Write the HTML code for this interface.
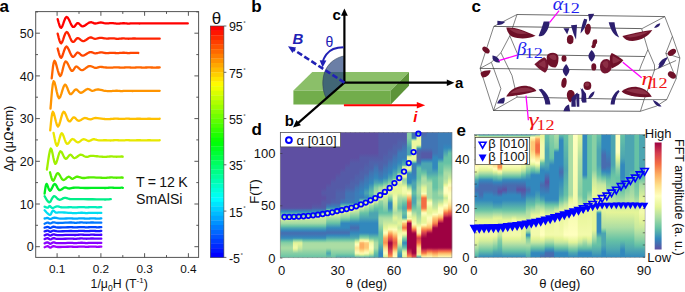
<!DOCTYPE html>
<html><head><meta charset="utf-8"><style>
html,body{margin:0;padding:0;background:#fff;}
svg{display:block;}
text{font-family:"Liberation Sans",sans-serif;}
.ff{font-family:"Liberation Sans",sans-serif;}
.t12{font-size:11.8px;fill:#111;}
.t13{font-size:13px;fill:#111;}
.t14{font-size:14.5px;fill:#111;}
.t15{font-size:15px;fill:#111;}
.bl13{font-size:15px;font-weight:bold;fill:#000;}
.gk{font-family:"Liberation Serif",serif;font-style:italic;font-size:19.5px;}
.gs{font-family:"Liberation Serif",serif;font-size:14px;}
.pl{font-size:17px;font-weight:bold;fill:#000;}
</style></head>
<body><svg width="685" height="292" viewBox="0 0 685 292">
<rect width="685" height="292" fill="#fff"/>
<path d="M57.65 19.20 L58.10 20.70 L58.73 23.00 L59.48 25.42 L60.31 27.28 L61.20 27.90 L62.15 26.62 L63.18 23.91 L64.29 20.73 L65.43 18.07 L66.60 16.90 L67.83 17.78 L69.13 20.05 L70.44 22.89 L71.72 25.45 L72.90 26.90 L73.95 26.91 L74.91 26.03 L75.83 24.77 L76.74 23.63 L77.70 23.10 L78.67 23.42 L79.62 24.26 L80.59 25.27 L81.64 26.10 L82.80 26.40 L84.14 25.97 L85.62 25.04 L87.16 23.91 L88.65 22.90 L90.00 22.30 L91.16 22.24 L92.20 22.50 L93.19 22.92 L94.17 23.32 L95.20 23.50 L96.29 23.41 L97.41 23.17 L98.53 22.87 L99.67 22.61 L100.80 22.50 L101.94 22.58 L103.08 22.78 L104.23 23.04 L105.37 23.27 L106.50 23.40 L107.61 23.40 L108.71 23.33 L109.81 23.22 L110.90 23.13 L112.00 23.10 L113.10 23.16 L114.20 23.28 L115.30 23.42 L116.40 23.54 L117.50 23.60 L118.60 23.57 L119.70 23.49 L120.80 23.38 L121.90 23.28 L123.00 23.24 L124.10 23.26 L125.20 23.33 L126.30 23.42 L127.40 23.49 L128.50 23.53 L129.60 23.51 L130.70 23.45 L131.80 23.38 L132.90 23.32 L134.00 23.30 L135.10 23.31 L136.20 23.36 L137.30 23.41 L138.40 23.46 L139.50 23.48 L140.60 23.47 L141.70 23.43 L142.80 23.39 L143.90 23.35 L145.00 23.33 L146.10 23.34 L147.20 23.37 L148.30 23.41 L149.40 23.44 L150.50 23.45 L151.60 23.45 L152.70 23.42 L153.80 23.39 L154.90 23.37 L156.00 23.36 L157.10 23.36 L158.20 23.38 L159.30 23.41 L160.40 23.43 L161.50 23.43 L162.60 23.43 L163.70 23.41 L164.80 23.40 L165.90 23.38 L167.00 23.37 L168.10 23.38 L169.20 23.39 L170.30 23.40 L171.40 23.42 L172.50 23.42 L173.60 23.42 L174.70 23.41 L175.80 23.40 L176.90 23.39 L178.00 23.38 L179.12 23.38 L180.26 23.39 L181.39 23.40 L182.48 23.41 L183.50 23.41 L184.51 23.41 L185.51 23.41 L186.45 23.40 L187.23 23.39 L187.80 23.39" stroke="#ff0000" stroke-width="2.3" fill="none" stroke-linejoin="round" stroke-linecap="round"/>
<path d="M57.65 33.65 L58.10 35.32 L58.73 37.87 L59.48 40.56 L60.31 42.65 L61.20 43.40 L62.15 42.12 L63.20 39.30 L64.32 35.97 L65.46 33.16 L66.60 31.90 L67.76 32.74 L68.96 35.01 L70.17 37.86 L71.36 40.44 L72.50 41.90 L73.58 41.91 L74.61 41.04 L75.62 39.79 L76.65 38.64 L77.70 38.10 L78.78 38.39 L79.86 39.17 L80.96 40.12 L82.10 40.90 L83.30 41.20 L84.59 40.82 L85.97 39.97 L87.38 38.95 L88.74 38.03 L90.00 37.50 L91.13 37.48 L92.17 37.77 L93.16 38.21 L94.16 38.61 L95.20 38.80 L96.29 38.72 L97.41 38.48 L98.53 38.18 L99.67 37.92 L100.80 37.80 L101.94 37.86 L103.08 38.04 L104.23 38.27 L105.37 38.48 L106.50 38.60 L107.61 38.60 L108.71 38.52 L109.81 38.42 L110.90 38.33 L112.00 38.30 L113.10 38.36 L114.20 38.48 L115.30 38.62 L116.40 38.74 L117.50 38.80 L118.60 38.77 L119.70 38.69 L120.80 38.58 L121.90 38.48 L123.00 38.44 L124.10 38.46 L125.20 38.53 L126.30 38.62 L127.40 38.69 L128.50 38.73 L129.60 38.71 L130.70 38.65 L131.80 38.58 L132.90 38.52 L134.00 38.50 L135.10 38.51 L136.20 38.56 L137.30 38.61 L138.40 38.66 L139.50 38.68 L140.60 38.67 L141.70 38.63 L142.80 38.59 L143.90 38.55 L145.00 38.53 L146.10 38.54 L147.20 38.57 L148.30 38.61 L149.40 38.64 L150.50 38.65 L151.63 38.65 L152.79 38.62 L153.93 38.59 L155.02 38.57 L156.00 38.56 L156.91 38.56 L157.79 38.58 L158.57 38.60 L159.23 38.62 L159.70 38.64" stroke="#ff2200" stroke-width="2.3" fill="none" stroke-linejoin="round" stroke-linecap="round"/>
<path d="M57.65 48.50 L58.11 50.09 L58.74 52.54 L59.49 55.12 L60.33 57.11 L61.20 57.80 L62.12 56.51 L63.12 53.73 L64.18 50.45 L65.28 47.71 L66.40 46.50 L67.58 47.41 L68.82 49.77 L70.08 52.69 L71.32 55.33 L72.50 56.80 L73.60 56.75 L74.65 55.77 L75.67 54.38 L76.68 53.11 L77.70 52.50 L78.69 52.77 L79.65 53.57 L80.61 54.55 L81.65 55.38 L82.80 55.70 L84.14 55.34 L85.62 54.52 L87.16 53.52 L88.65 52.62 L90.00 52.10 L91.16 52.07 L92.20 52.34 L93.19 52.74 L94.17 53.12 L95.20 53.30 L96.29 53.23 L97.41 53.01 L98.53 52.75 L99.67 52.51 L100.80 52.40 L101.94 52.45 L103.08 52.61 L104.23 52.82 L105.37 53.00 L106.50 53.10 L107.61 53.09 L108.71 53.02 L109.81 52.92 L110.90 52.84 L112.00 52.80 L113.10 52.83 L114.20 52.91 L115.30 53.00 L116.40 53.07 L117.50 53.10 L118.60 53.06 L119.70 52.97 L120.80 52.87 L121.90 52.78 L123.00 52.74 L124.10 52.76 L125.20 52.83 L126.30 52.92 L127.40 52.99 L128.50 53.03 L129.62 53.01 L130.76 52.95 L131.89 52.88 L132.98 52.82 L134.00 52.80 L135.01 52.81 L136.01 52.85 L136.95 52.90 L137.73 52.95 L138.30 52.99" stroke="#ff4400" stroke-width="2.3" fill="none" stroke-linejoin="round" stroke-linecap="round"/>
<path d="M51.70 78.40 L52.03 75.46 L52.48 71.01 L53.04 66.25 L53.71 62.40 L54.50 60.70 L55.46 62.14 L56.59 65.92 L57.81 70.52 L59.04 74.42 L60.20 76.10 L61.27 74.70 L62.31 71.23 L63.33 66.98 L64.39 63.27 L65.50 61.40 L66.71 61.97 L67.99 64.12 L69.29 66.94 L70.55 69.50 L71.70 70.90 L72.70 70.78 L73.60 69.75 L74.46 68.34 L75.34 67.08 L76.30 66.50 L77.35 66.85 L78.43 67.77 L79.56 68.89 L80.75 69.83 L82.00 70.20 L83.36 69.79 L84.82 68.84 L86.33 67.70 L87.81 66.67 L89.20 66.10 L90.51 66.11 L91.79 66.49 L93.01 67.03 L94.19 67.53 L95.30 67.80 L96.32 67.76 L97.27 67.56 L98.17 67.28 L99.06 67.03 L100.00 66.90 L100.97 66.91 L101.95 67.01 L102.95 67.15 L103.96 67.29 L105.00 67.40 L106.07 67.48 L107.16 67.57 L108.28 67.64 L109.39 67.69 L110.50 67.70 L111.60 67.66 L112.70 67.57 L113.80 67.47 L114.90 67.38 L116.00 67.34 L117.10 67.36 L118.20 67.43 L119.30 67.52 L120.40 67.59 L121.50 67.63 L122.60 67.61 L123.70 67.55 L124.80 67.48 L125.90 67.42 L127.00 67.40 L128.10 67.41 L129.20 67.46 L130.30 67.51 L131.40 67.56 L132.50 67.58 L133.60 67.57 L134.70 67.53 L135.80 67.49 L136.90 67.45 L138.00 67.43 L139.10 67.44 L140.20 67.47 L141.30 67.51 L142.40 67.54 L143.50 67.55 L144.60 67.55 L145.70 67.52 L146.80 67.49 L147.90 67.47 L149.00 67.46 L150.10 67.46 L151.21 67.48 L152.32 67.51 L153.42 67.53 L154.50 67.53 L155.64 67.53 L156.85 67.52 L158.01 67.50 L159.00 67.48 L159.70 67.47" stroke="#ff6600" stroke-width="2.3" fill="none" stroke-linejoin="round" stroke-linecap="round"/>
<path d="M50.50 108.60 L50.88 104.16 L51.41 97.48 L52.05 90.27 L52.78 84.27 L53.60 81.20 L54.52 82.26 L55.57 86.31 L56.69 91.54 L57.85 96.14 L59.00 98.30 L60.16 97.16 L61.35 93.92 L62.55 89.88 L63.74 86.34 L64.90 84.60 L66.01 85.26 L67.09 87.45 L68.16 90.28 L69.22 92.83 L70.30 94.20 L71.40 94.03 L72.51 92.92 L73.62 91.42 L74.72 90.07 L75.80 89.40 L76.82 89.67 L77.80 90.52 L78.77 91.56 L79.79 92.45 L80.90 92.80 L82.15 92.41 L83.52 91.53 L84.92 90.46 L86.27 89.52 L87.50 89.00 L88.57 89.05 L89.52 89.47 L90.42 90.04 L91.33 90.56 L92.30 90.80 L93.31 90.68 L94.33 90.34 L95.37 89.91 L96.49 89.55 L97.70 89.40 L99.07 89.52 L100.57 89.81 L102.12 90.18 L103.62 90.55 L105.00 90.80 L106.22 90.94 L107.33 91.03 L108.39 91.08 L109.43 91.10 L110.50 91.10 L111.60 91.06 L112.70 90.97 L113.80 90.87 L114.90 90.78 L116.00 90.74 L117.10 90.76 L118.20 90.83 L119.30 90.92 L120.40 90.99 L121.50 91.03 L122.60 91.01 L123.70 90.95 L124.80 90.88 L125.90 90.82 L127.00 90.80 L128.10 90.81 L129.20 90.86 L130.30 90.91 L131.40 90.96 L132.50 90.98 L133.60 90.97 L134.70 90.93 L135.80 90.89 L136.90 90.85 L138.00 90.83 L139.10 90.84 L140.20 90.87 L141.30 90.91 L142.40 90.94 L143.50 90.95 L144.60 90.95 L145.70 90.92 L146.80 90.89 L147.90 90.87 L149.00 90.86 L150.10 90.86 L151.21 90.88 L152.32 90.91 L153.42 90.93 L154.50 90.93 L155.64 90.93 L156.85 90.92 L158.01 90.90 L159.00 90.88 L159.70 90.87" stroke="#ff9400" stroke-width="2.3" fill="none" stroke-linejoin="round" stroke-linecap="round"/>
<path d="M50.20 130.30 L50.53 127.25 L50.97 122.63 L51.52 117.69 L52.16 113.66 L52.90 111.80 L53.76 113.10 L54.75 116.74 L55.82 121.21 L56.92 125.00 L58.00 126.60 L59.07 125.14 L60.17 121.64 L61.28 117.38 L62.39 113.67 L63.50 111.80 L64.61 112.38 L65.73 114.54 L66.85 117.38 L67.94 119.97 L69.00 121.40 L70.00 121.34 L70.97 120.38 L71.91 119.05 L72.85 117.85 L73.80 117.30 L74.74 117.61 L75.66 118.46 L76.59 119.49 L77.56 120.38 L78.60 120.80 L79.75 120.58 L80.98 119.93 L82.24 119.12 L83.50 118.39 L84.70 118.00 L85.84 118.06 L86.94 118.39 L88.03 118.84 L89.11 119.23 L90.20 119.40 L91.24 119.26 L92.22 118.93 L93.23 118.52 L94.36 118.17 L95.70 118.00 L97.38 118.06 L99.33 118.28 L101.37 118.56 L103.32 118.83 L105.00 119.00 L106.34 119.07 L107.47 119.09 L108.48 119.07 L109.46 119.04 L110.50 119.00 L111.60 118.94 L112.70 118.85 L113.80 118.75 L114.90 118.68 L116.00 118.64 L117.10 118.66 L118.20 118.73 L119.30 118.82 L120.40 118.89 L121.50 118.93 L122.60 118.91 L123.70 118.85 L124.80 118.78 L125.90 118.72 L127.00 118.70 L128.10 118.71 L129.20 118.76 L130.30 118.81 L131.40 118.86 L132.50 118.88 L133.60 118.87 L134.70 118.83 L135.80 118.79 L136.90 118.75 L138.00 118.73 L139.10 118.74 L140.20 118.77 L141.30 118.81 L142.40 118.84 L143.50 118.85 L144.60 118.85 L145.70 118.82 L146.80 118.79 L147.90 118.77 L149.00 118.76 L150.10 118.76 L151.21 118.78 L152.32 118.81 L153.42 118.83 L154.50 118.83 L155.64 118.83 L156.85 118.82 L158.01 118.80 L159.00 118.78 L159.70 118.77" stroke="#ffc000" stroke-width="2.3" fill="none" stroke-linejoin="round" stroke-linecap="round"/>
<path d="M53.50 132.80 L53.96 134.98 L54.59 138.29 L55.35 141.82 L56.17 144.63 L57.00 145.80 L57.86 144.55 L58.77 141.49 L59.73 137.80 L60.71 134.64 L61.70 133.20 L62.70 134.08 L63.73 136.51 L64.77 139.56 L65.83 142.29 L66.90 143.80 L67.98 143.69 L69.08 142.60 L70.19 141.07 L71.30 139.68 L72.40 139.00 L73.50 139.26 L74.60 140.09 L75.70 141.12 L76.80 142.01 L77.90 142.40 L79.00 142.10 L80.10 141.36 L81.21 140.44 L82.31 139.63 L83.40 139.20 L84.50 139.30 L85.60 139.73 L86.69 140.30 L87.76 140.79 L88.80 141.00 L89.79 140.82 L90.73 140.40 L91.67 139.88 L92.61 139.43 L93.60 139.20 L94.63 139.27 L95.69 139.53 L96.77 139.88 L97.87 140.20 L99.00 140.40 L100.17 140.44 L101.38 140.40 L102.61 140.31 L103.82 140.23 L105.00 140.20 L106.13 140.24 L107.24 140.32 L108.32 140.40 L109.41 140.47 L110.50 140.50 L111.60 140.46 L112.70 140.37 L113.80 140.27 L114.90 140.18 L116.00 140.14 L117.10 140.16 L118.20 140.23 L119.30 140.32 L120.40 140.39 L121.50 140.43 L122.60 140.41 L123.70 140.35 L124.80 140.28 L125.90 140.22 L127.00 140.20 L128.10 140.21 L129.20 140.26 L130.30 140.31 L131.40 140.36 L132.50 140.38 L133.60 140.37 L134.70 140.33 L135.80 140.29 L136.90 140.25 L138.00 140.23 L139.10 140.24 L140.20 140.27 L141.30 140.31 L142.40 140.34 L143.50 140.35 L144.60 140.35 L145.70 140.32 L146.80 140.29 L147.90 140.27 L149.00 140.26 L150.10 140.26 L151.21 140.28 L152.32 140.31 L153.42 140.33 L154.50 140.33 L155.64 140.33 L156.85 140.32 L158.01 140.30 L159.00 140.28 L159.70 140.27" stroke="#e8e800" stroke-width="2.3" fill="none" stroke-linejoin="round" stroke-linecap="round"/>
<path d="M46.90 169.50 L47.42 166.06 L48.15 160.86 L49.01 155.29 L49.92 150.71 L50.80 148.50 L51.65 149.70 L52.53 153.38 L53.44 158.01 L54.36 162.03 L55.30 163.90 L56.26 162.85 L57.25 159.91 L58.26 156.24 L59.28 152.98 L60.30 151.30 L61.33 151.70 L62.38 153.41 L63.44 155.67 L64.48 157.72 L65.50 158.80 L66.50 158.60 L67.48 157.64 L68.44 156.36 L69.38 155.23 L70.30 154.70 L71.15 155.01 L71.93 155.85 L72.71 156.87 L73.55 157.74 L74.50 158.10 L75.61 157.77 L76.83 156.97 L78.11 155.99 L79.39 155.14 L80.60 154.70 L81.73 154.82 L82.82 155.29 L83.90 155.92 L84.98 156.49 L86.10 156.80 L87.22 156.77 L88.33 156.54 L89.47 156.22 L90.68 155.93 L92.00 155.80 L93.51 155.85 L95.17 156.02 L96.88 156.24 L98.53 156.45 L100.00 156.60 L101.26 156.69 L102.38 156.75 L103.42 156.79 L104.44 156.81 L105.50 156.80 L106.60 156.75 L107.70 156.67 L108.80 156.56 L109.90 156.48 L111.00 156.44 L112.10 156.46 L113.20 156.53 L114.30 156.62 L115.40 156.69 L116.50 156.73 L117.68 156.71 L118.93 156.65 L120.14 156.58 L121.20 156.52 L122.00 156.50 L122.47 156.51 L122.70 156.56 L122.76 156.61 L122.77 156.67 L122.80 156.70" stroke="#a0f000" stroke-width="2.3" fill="none" stroke-linejoin="round" stroke-linecap="round"/>
<path d="M50.00 172.30 L50.40 173.72 L50.94 175.87 L51.60 178.16 L52.33 180.00 L53.10 180.80 L53.91 180.06 L54.79 178.19 L55.73 175.91 L56.70 173.96 L57.70 173.10 L58.73 173.71 L59.80 175.30 L60.90 177.27 L62.01 179.04 L63.10 180.00 L64.20 179.91 L65.33 179.16 L66.45 178.12 L67.52 177.18 L68.50 176.70 L69.36 176.84 L70.13 177.35 L70.86 178.00 L71.60 178.56 L72.40 178.80 L73.25 178.59 L74.12 178.10 L75.03 177.50 L75.98 176.97 L77.00 176.70 L78.09 176.77 L79.25 177.07 L80.46 177.45 L81.71 177.81 L83.00 178.00 L84.29 177.99 L85.58 177.85 L86.94 177.67 L88.39 177.49 L90.00 177.40 L91.88 177.41 L94.00 177.46 L96.18 177.55 L98.24 177.64 L100.00 177.70 L101.39 177.74 L102.52 177.78 L103.52 177.80 L104.47 177.81 L105.50 177.80 L106.60 177.75 L107.70 177.66 L108.80 177.56 L109.90 177.48 L111.00 177.44 L112.10 177.46 L113.20 177.53 L114.30 177.62 L115.40 177.69 L116.50 177.73 L117.68 177.71 L118.93 177.65 L120.14 177.58 L121.20 177.52 L122.00 177.50 L122.47 177.51 L122.70 177.56 L122.76 177.61 L122.77 177.67 L122.80 177.70" stroke="#55ee00" stroke-width="2.3" fill="none" stroke-linejoin="round" stroke-linecap="round"/>
<path d="M44.60 193.60 L44.83 192.02 L45.15 189.62 L45.53 187.05 L45.99 184.93 L46.50 183.90 L47.08 184.44 L47.73 186.13 L48.44 188.24 L49.20 190.04 L50.00 190.80 L50.86 190.09 L51.80 188.40 L52.77 186.38 L53.75 184.66 L54.70 183.90 L55.61 184.44 L56.51 185.86 L57.41 187.62 L58.33 189.21 L59.30 190.10 L60.34 190.09 L61.44 189.52 L62.56 188.70 L63.66 187.93 L64.70 187.50 L65.65 187.50 L66.54 187.73 L67.42 188.06 L68.32 188.36 L69.30 188.50 L70.30 188.42 L71.29 188.21 L72.36 187.96 L73.57 187.73 L75.00 187.60 L76.64 187.61 L78.45 187.70 L80.43 187.82 L82.61 187.94 L85.00 188.00 L87.83 187.99 L91.10 187.94 L94.44 187.88 L97.53 187.82 L100.00 187.80 L101.71 187.82 L102.88 187.88 L103.76 187.94 L104.55 187.99 L105.50 188.00 L106.60 187.95 L107.70 187.87 L108.80 187.76 L109.90 187.68 L111.00 187.64 L112.10 187.66 L113.20 187.73 L114.30 187.82 L115.40 187.89 L116.50 187.93 L117.68 187.91 L118.93 187.85 L120.14 187.78 L121.20 187.72 L122.00 187.70 L122.47 187.71 L122.70 187.76 L122.76 187.81 L122.77 187.87 L122.80 187.90" stroke="#00ee22" stroke-width="2.3" fill="none" stroke-linejoin="round" stroke-linecap="round"/>
<path d="M44.60 196.20 L45.24 197.24 L46.15 198.83 L47.20 200.52 L48.29 201.85 L49.30 202.40 L50.21 201.80 L51.11 200.34 L52.01 198.57 L52.93 197.01 L53.90 196.20 L54.93 196.38 L56.00 197.20 L57.10 198.29 L58.21 199.28 L59.30 199.80 L60.38 199.71 L61.46 199.25 L62.55 198.64 L63.63 198.08 L64.70 197.80 L65.69 197.85 L66.60 198.10 L67.55 198.44 L68.64 198.77 L70.00 199.00 L71.54 199.11 L73.18 199.16 L75.05 199.18 L77.28 199.18 L80.00 199.20 L83.59 199.22 L87.98 199.24 L92.56 199.26 L96.77 199.28 L100.00 199.30 L102.03 199.34 L103.25 199.40 L104.01 199.46 L104.64 199.49 L105.50 199.50 L106.66 199.46 L107.89 199.38 L109.07 199.28 L110.08 199.20 L110.80 199.14" stroke="#00ee88" stroke-width="2.3" fill="none" stroke-linejoin="round" stroke-linecap="round"/>
<path d="M44.60 206.70 L45.04 206.88 L45.66 207.16 L46.38 207.45 L47.09 207.66 L47.70 207.70 L48.18 207.47 L48.59 207.04 L48.98 206.54 L49.37 206.15 L49.80 206.00 L50.24 206.22 L50.67 206.71 L51.12 207.28 L51.65 207.77 L52.30 208.00 L53.09 207.87 L54.01 207.49 L54.99 207.03 L56.01 206.61 L57.00 206.40 L57.93 206.45 L58.83 206.67 L59.77 206.96 L60.80 207.24 L62.00 207.40 L63.45 207.43 L65.10 207.39 L66.84 207.31 L68.51 207.23 L70.00 207.20 L71.26 207.22 L72.38 207.28 L73.42 207.34 L74.44 207.39 L75.50 207.40 L76.60 207.35 L77.70 207.27 L78.80 207.16 L79.90 207.08 L81.00 207.04 L82.10 207.06 L83.20 207.13 L84.30 207.22 L85.40 207.29 L86.50 207.33 L87.60 207.31 L88.70 207.25 L89.80 207.18 L90.90 207.12 L92.00 207.10 L93.13 207.11 L94.28 207.16 L95.42 207.21 L96.51 207.26 L97.50 207.28 L98.43 207.27 L99.32 207.24 L100.14 207.20 L100.81 207.16 L101.30 207.13" stroke="#00eebb" stroke-width="2.3" fill="none" stroke-linejoin="round" stroke-linecap="round"/>
<path d="M44.60 210.30 L45.34 211.07 L46.41 212.24 L47.62 213.48 L48.81 214.48 L49.80 214.90 L50.55 214.51 L51.19 213.52 L51.76 212.29 L52.31 211.20 L52.90 210.60 L53.50 210.63 L54.07 211.06 L54.65 211.66 L55.28 212.25 L56.00 212.60 L56.75 212.67 L57.50 212.60 L58.34 212.47 L59.35 212.34 L60.60 212.30 L62.24 212.37 L64.20 212.49 L66.29 212.65 L68.29 212.79 L70.00 212.90 L71.35 212.97 L72.48 213.04 L73.49 213.08 L74.46 213.10 L75.50 213.10 L76.60 213.05 L77.70 212.97 L78.80 212.86 L79.90 212.78 L81.00 212.74 L82.10 212.76 L83.20 212.83 L84.30 212.92 L85.40 212.99 L86.50 213.03 L87.60 213.01 L88.70 212.95 L89.80 212.88 L90.90 212.82 L92.00 212.80 L93.13 212.81 L94.28 212.86 L95.42 212.91 L96.51 212.96 L97.50 212.98 L98.43 212.97 L99.32 212.94 L100.14 212.90 L100.81 212.86 L101.30 212.83" stroke="#00ddf0" stroke-width="2.3" fill="none" stroke-linejoin="round" stroke-linecap="round"/>
<path d="M44.60 218.50 L45.03 218.41 L45.64 218.26 L46.35 218.12 L47.06 218.01 L47.70 218.00 L48.23 218.14 L48.70 218.40 L49.18 218.69 L49.69 218.92 L50.30 219.00 L51.00 218.85 L51.76 218.54 L52.58 218.17 L53.46 217.86 L54.40 217.70 L55.35 217.76 L56.32 217.95 L57.37 218.21 L58.57 218.46 L60.00 218.60 L61.79 218.62 L63.90 218.58 L66.11 218.50 L68.22 218.43 L70.00 218.40 L71.39 218.44 L72.52 218.52 L73.52 218.60 L74.47 218.67 L75.50 218.70 L76.60 218.66 L77.70 218.57 L78.80 218.47 L79.90 218.38 L81.00 218.34 L82.10 218.36 L83.20 218.43 L84.30 218.52 L85.40 218.59 L86.50 218.63 L87.60 218.61 L88.70 218.55 L89.80 218.48 L90.90 218.42 L92.00 218.40 L93.13 218.41 L94.28 218.46 L95.42 218.51 L96.51 218.56 L97.50 218.58 L98.43 218.57 L99.32 218.54 L100.14 218.50 L100.81 218.46 L101.30 218.43" stroke="#00aaff" stroke-width="2.3" fill="none" stroke-linejoin="round" stroke-linecap="round"/>
<path d="M44.60 223.70 L45.00 223.52 L45.56 223.25 L46.21 222.96 L46.88 222.72 L47.50 222.60 L48.06 222.67 L48.61 222.87 L49.16 223.13 L49.72 223.33 L50.30 223.40 L50.88 223.27 L51.45 223.01 L52.04 222.70 L52.68 222.44 L53.40 222.30 L54.11 222.34 L54.78 222.51 L55.56 222.72 L56.58 222.91 L58.00 223.00 L60.03 222.96 L62.58 222.85 L65.31 222.70 L67.90 222.57 L70.00 222.50 L71.52 222.52 L72.67 222.59 L73.61 222.69 L74.50 222.77 L75.50 222.80 L76.60 222.76 L77.70 222.67 L78.80 222.57 L79.90 222.48 L81.00 222.44 L82.10 222.46 L83.20 222.53 L84.30 222.62 L85.40 222.69 L86.50 222.73 L87.60 222.71 L88.70 222.65 L89.80 222.58 L90.90 222.52 L92.00 222.50 L93.13 222.51 L94.28 222.56 L95.42 222.61 L96.51 222.66 L97.50 222.68 L98.43 222.67 L99.32 222.64 L100.14 222.60 L100.81 222.56 L101.30 222.53" stroke="#0077ff" stroke-width="2.3" fill="none" stroke-linejoin="round" stroke-linecap="round"/>
<path d="M44.60 227.60 L45.03 227.48 L45.64 227.28 L46.35 227.08 L47.06 226.94 L47.70 226.90 L48.24 227.04 L48.75 227.33 L49.25 227.65 L49.76 227.90 L50.30 228.00 L50.86 227.86 L51.43 227.55 L52.03 227.18 L52.68 226.86 L53.40 226.70 L54.11 226.74 L54.78 226.92 L55.56 227.16 L56.58 227.38 L58.00 227.50 L60.03 227.50 L62.58 227.44 L65.31 227.34 L67.90 227.25 L70.00 227.20 L71.52 227.22 L72.67 227.27 L73.61 227.34 L74.50 227.39 L75.50 227.40 L76.60 227.35 L77.70 227.27 L78.80 227.16 L79.90 227.08 L81.00 227.04 L82.10 227.06 L83.20 227.13 L84.30 227.22 L85.40 227.29 L86.50 227.33 L87.60 227.31 L88.70 227.25 L89.80 227.18 L90.90 227.12 L92.00 227.10 L93.13 227.11 L94.28 227.16 L95.42 227.21 L96.51 227.26 L97.50 227.28 L98.43 227.27 L99.32 227.24 L100.14 227.20 L100.81 227.16 L101.30 227.13" stroke="#0044ff" stroke-width="2.3" fill="none" stroke-linejoin="round" stroke-linecap="round"/>
<path d="M44.60 231.40 L45.03 231.26 L45.64 231.04 L46.35 230.81 L47.06 230.64 L47.70 230.60 L48.24 230.75 L48.75 231.05 L49.25 231.40 L49.76 231.68 L50.30 231.80 L50.86 231.68 L51.43 231.40 L52.03 231.06 L52.68 230.76 L53.40 230.60 L54.11 230.63 L54.78 230.79 L55.56 231.00 L56.58 231.19 L58.00 231.30 L60.03 231.30 L62.58 231.23 L65.31 231.13 L67.90 231.04 L70.00 231.00 L71.52 231.02 L72.67 231.07 L73.61 231.14 L74.50 231.19 L75.50 231.20 L76.60 231.15 L77.70 231.07 L78.80 230.96 L79.90 230.88 L81.00 230.84 L82.10 230.86 L83.20 230.93 L84.30 231.02 L85.40 231.09 L86.50 231.13 L87.60 231.11 L88.70 231.05 L89.80 230.98 L90.90 230.92 L92.00 230.90 L93.13 230.91 L94.28 230.96 L95.42 231.01 L96.51 231.06 L97.50 231.08 L98.43 231.07 L99.32 231.04 L100.14 231.00 L100.81 230.96 L101.30 230.93" stroke="#1a1aff" stroke-width="2.3" fill="none" stroke-linejoin="round" stroke-linecap="round"/>
<path d="M44.60 235.30 L45.03 235.14 L45.64 234.90 L46.35 234.65 L47.06 234.46 L47.70 234.40 L48.24 234.54 L48.75 234.84 L49.25 235.19 L49.76 235.48 L50.30 235.60 L50.86 235.48 L51.43 235.20 L52.03 234.86 L52.68 234.56 L53.40 234.40 L54.11 234.43 L54.78 234.59 L55.56 234.80 L56.58 234.99 L58.00 235.10 L60.03 235.10 L62.58 235.03 L65.31 234.93 L67.90 234.84 L70.00 234.80 L71.52 234.82 L72.67 234.87 L73.61 234.94 L74.50 234.99 L75.50 235.00 L76.60 234.95 L77.70 234.87 L78.80 234.76 L79.90 234.68 L81.00 234.64 L82.10 234.66 L83.20 234.73 L84.30 234.82 L85.40 234.89 L86.50 234.93 L87.60 234.91 L88.70 234.85 L89.80 234.78 L90.90 234.72 L92.00 234.70 L93.13 234.71 L94.28 234.76 L95.42 234.81 L96.51 234.86 L97.50 234.88 L98.43 234.87 L99.32 234.84 L100.14 234.80 L100.81 234.76 L101.30 234.73" stroke="#4400ff" stroke-width="2.3" fill="none" stroke-linejoin="round" stroke-linecap="round"/>
<path d="M44.60 239.10 L45.03 238.94 L45.64 238.70 L46.35 238.44 L47.06 238.25 L47.70 238.20 L48.24 238.36 L48.75 238.69 L49.25 239.06 L49.76 239.37 L50.30 239.50 L50.86 239.37 L51.43 239.07 L52.03 238.70 L52.68 238.37 L53.40 238.20 L54.11 238.23 L54.78 238.38 L55.56 238.60 L56.58 238.79 L58.00 238.90 L60.03 238.90 L62.58 238.83 L65.31 238.73 L67.90 238.64 L70.00 238.60 L71.52 238.62 L72.67 238.67 L73.61 238.74 L74.50 238.79 L75.50 238.80 L76.60 238.75 L77.70 238.67 L78.80 238.56 L79.90 238.48 L81.00 238.44 L82.10 238.46 L83.20 238.53 L84.30 238.62 L85.40 238.69 L86.50 238.73 L87.60 238.71 L88.70 238.65 L89.80 238.58 L90.90 238.52 L92.00 238.50 L93.13 238.51 L94.28 238.56 L95.42 238.61 L96.51 238.66 L97.50 238.68 L98.43 238.67 L99.32 238.64 L100.14 238.60 L100.81 238.56 L101.30 238.53" stroke="#6600ff" stroke-width="2.3" fill="none" stroke-linejoin="round" stroke-linecap="round"/>
<path d="M44.60 243.30 L45.03 243.14 L45.64 242.89 L46.35 242.64 L47.06 242.45 L47.70 242.40 L48.24 242.58 L48.75 242.93 L49.25 243.33 L49.76 243.66 L50.30 243.80 L50.86 243.66 L51.43 243.34 L52.03 242.94 L52.68 242.58 L53.40 242.40 L54.11 242.44 L54.78 242.61 L55.56 242.85 L56.58 243.08 L58.00 243.20 L60.03 243.20 L62.58 243.14 L65.31 243.04 L67.90 242.95 L70.00 242.90 L71.52 242.92 L72.67 242.97 L73.61 243.04 L74.50 243.09 L75.50 243.10 L76.60 243.05 L77.70 242.97 L78.80 242.86 L79.90 242.78 L81.00 242.74 L82.10 242.76 L83.20 242.83 L84.30 242.92 L85.40 242.99 L86.50 243.03 L87.60 243.01 L88.70 242.95 L89.80 242.88 L90.90 242.82 L92.00 242.80 L93.13 242.81 L94.28 242.86 L95.42 242.91 L96.51 242.96 L97.50 242.98 L98.43 242.97 L99.32 242.94 L100.14 242.90 L100.81 242.86 L101.30 242.83" stroke="#8800ff" stroke-width="2.3" fill="none" stroke-linejoin="round" stroke-linecap="round"/>
<path d="M44.60 247.20 L45.03 247.03 L45.64 246.76 L46.35 246.48 L47.06 246.26 L47.70 246.20 L48.24 246.37 L48.75 246.72 L49.25 247.13 L49.76 247.46 L50.30 247.60 L50.86 247.46 L51.43 247.14 L52.03 246.74 L52.68 246.38 L53.40 246.20 L54.11 246.24 L54.78 246.41 L55.56 246.65 L56.58 246.88 L58.00 247.00 L60.03 247.00 L62.58 246.94 L65.31 246.84 L67.90 246.75 L70.00 246.70 L71.52 246.72 L72.67 246.77 L73.61 246.84 L74.50 246.89 L75.50 246.90 L76.60 246.85 L77.70 246.77 L78.80 246.66 L79.90 246.58 L81.00 246.54 L82.10 246.56 L83.20 246.63 L84.30 246.72 L85.40 246.79 L86.50 246.83 L87.60 246.81 L88.70 246.75 L89.80 246.68 L90.90 246.62 L92.00 246.60 L93.13 246.61 L94.28 246.66 L95.42 246.71 L96.51 246.76 L97.50 246.78 L98.43 246.77 L99.32 246.74 L100.14 246.70 L100.81 246.66 L101.30 246.63" stroke="#9d00ff" stroke-width="2.3" fill="none" stroke-linejoin="round" stroke-linecap="round"/>
<rect x="35.7" y="11.6" width="162.9" height="245.8" fill="none" stroke="#555" stroke-width="1.0"/>
<path d="M57.1 257.4 V253.2 M57.1 11.6 V15.8" stroke="#444" stroke-width="0.9"/>
<path d="M79.0 257.4 V255.1 M79.0 11.6 V13.9" stroke="#444" stroke-width="0.9"/>
<path d="M100.9 257.4 V253.2 M100.9 11.6 V15.8" stroke="#444" stroke-width="0.9"/>
<path d="M122.8 257.4 V255.1 M122.8 11.6 V13.9" stroke="#444" stroke-width="0.9"/>
<path d="M144.6 257.4 V253.2 M144.6 11.6 V15.8" stroke="#444" stroke-width="0.9"/>
<path d="M166.5 257.4 V255.1 M166.5 11.6 V13.9" stroke="#444" stroke-width="0.9"/>
<path d="M188.4 257.4 V253.2 M188.4 11.6 V15.8" stroke="#444" stroke-width="0.9"/>
<text x="57.1" y="272.8" class="t12" text-anchor="middle">0.1</text>
<text x="100.9" y="272.8" class="t12" text-anchor="middle">0.2</text>
<text x="144.6" y="272.8" class="t12" text-anchor="middle">0.3</text>
<text x="188.4" y="272.8" class="t12" text-anchor="middle">0.4</text>
<path d="M35.7 246.7 H39.9 M198.6 246.7 H194.4" stroke="#444" stroke-width="0.9"/>
<path d="M35.7 225.3 H38.0 M198.6 225.3 H196.3" stroke="#444" stroke-width="0.9"/>
<path d="M35.7 204.0 H39.9 M198.6 204.0 H194.4" stroke="#444" stroke-width="0.9"/>
<path d="M35.7 182.6 H38.0 M198.6 182.6 H196.3" stroke="#444" stroke-width="0.9"/>
<path d="M35.7 161.3 H39.9 M198.6 161.3 H194.4" stroke="#444" stroke-width="0.9"/>
<path d="M35.7 139.9 H38.0 M198.6 139.9 H196.3" stroke="#444" stroke-width="0.9"/>
<path d="M35.7 118.6 H39.9 M198.6 118.6 H194.4" stroke="#444" stroke-width="0.9"/>
<path d="M35.7 97.2 H38.0 M198.6 97.2 H196.3" stroke="#444" stroke-width="0.9"/>
<path d="M35.7 75.9 H39.9 M198.6 75.9 H194.4" stroke="#444" stroke-width="0.9"/>
<path d="M35.7 54.6 H38.0 M198.6 54.6 H196.3" stroke="#444" stroke-width="0.9"/>
<path d="M35.7 33.2 H39.9 M198.6 33.2 H194.4" stroke="#444" stroke-width="0.9"/>
<path d="M35.7 11.9 H38.0 M198.6 11.9 H196.3" stroke="#444" stroke-width="0.9"/>
<text x="33.7" y="251.3" class="t12" style="font-size:12.5px" text-anchor="end">0</text>
<text x="33.7" y="208.6" class="t12" style="font-size:12.5px" text-anchor="end">10</text>
<text x="33.7" y="165.9" class="t12" style="font-size:12.5px" text-anchor="end">20</text>
<text x="33.7" y="123.2" class="t12" style="font-size:12.5px" text-anchor="end">30</text>
<text x="33.7" y="80.5" class="t12" style="font-size:12.5px" text-anchor="end">40</text>
<text x="33.7" y="37.8" class="t12" style="font-size:12.5px" text-anchor="end">50</text>
<text x="90.6" y="287.8" class="t12" style="font-size:12.3px">1/μ<tspan font-size="8.5" dy="3">0</tspan><tspan dy="-3">H (T</tspan><tspan font-size="8" dy="-4.5">-1</tspan><tspan dy="4.5">)</tspan></text>
<text transform="translate(12.5,171.6) rotate(-90)" class="t12" style="font-size:12.7px">Δρ (μΩ•cm)</text>
<text x="136" y="187.4" class="t14" style="font-size:14.2px;word-spacing:-0.7px">T = 12 K</text>
<text x="136" y="204.0" class="t14" style="font-size:14.2px">SmAlSi</text>
<rect x="210.30" y="26.00" width="13.60" height="4.93" fill="hsl(0.0,100%,50%)"/>
<rect x="210.30" y="30.63" width="13.60" height="4.93" fill="hsl(4.9,100%,50%)"/>
<rect x="210.30" y="35.26" width="13.60" height="4.93" fill="hsl(9.8,100%,50%)"/>
<rect x="210.30" y="39.88" width="13.60" height="4.93" fill="hsl(14.7,100%,50%)"/>
<rect x="210.30" y="44.51" width="13.60" height="4.93" fill="hsl(19.6,100%,50%)"/>
<rect x="210.30" y="49.14" width="13.60" height="4.93" fill="hsl(24.5,100%,50%)"/>
<rect x="210.30" y="53.77" width="13.60" height="4.93" fill="hsl(29.4,100%,50%)"/>
<rect x="210.30" y="58.40" width="13.60" height="4.93" fill="hsl(34.3,100%,50%)"/>
<rect x="210.30" y="63.02" width="13.60" height="4.93" fill="hsl(39.2,100%,50%)"/>
<rect x="210.30" y="67.65" width="13.60" height="4.93" fill="hsl(44.1,100%,50%)"/>
<rect x="210.30" y="72.28" width="13.60" height="4.93" fill="hsl(49.0,100%,50%)"/>
<rect x="210.30" y="76.91" width="13.60" height="4.93" fill="hsl(53.9,100%,50%)"/>
<rect x="210.30" y="81.54" width="13.60" height="4.93" fill="hsl(58.8,100%,50%)"/>
<rect x="210.30" y="86.16" width="13.60" height="4.93" fill="hsl(63.7,100%,50%)"/>
<rect x="210.30" y="90.79" width="13.60" height="4.93" fill="hsl(68.6,100%,50%)"/>
<rect x="210.30" y="95.42" width="13.60" height="4.93" fill="hsl(73.5,100%,50%)"/>
<rect x="210.30" y="100.05" width="13.60" height="4.93" fill="hsl(78.4,100%,50%)"/>
<rect x="210.30" y="104.68" width="13.60" height="4.93" fill="hsl(83.3,100%,50%)"/>
<rect x="210.30" y="109.30" width="13.60" height="4.93" fill="hsl(88.2,100%,50%)"/>
<rect x="210.30" y="113.93" width="13.60" height="4.93" fill="hsl(93.1,100%,50%)"/>
<rect x="210.30" y="118.56" width="13.60" height="4.93" fill="hsl(98.0,100%,50%)"/>
<rect x="210.30" y="123.19" width="13.60" height="4.93" fill="hsl(102.9,100%,50%)"/>
<rect x="210.30" y="127.82" width="13.60" height="4.93" fill="hsl(107.8,100%,50%)"/>
<rect x="210.30" y="132.44" width="13.60" height="4.93" fill="hsl(112.7,100%,50%)"/>
<rect x="210.30" y="137.07" width="13.60" height="4.93" fill="hsl(117.6,100%,50%)"/>
<rect x="210.30" y="141.70" width="13.60" height="4.93" fill="hsl(122.4,100%,50%)"/>
<rect x="210.30" y="146.33" width="13.60" height="4.93" fill="hsl(127.3,100%,50%)"/>
<rect x="210.30" y="150.96" width="13.60" height="4.93" fill="hsl(132.2,100%,50%)"/>
<rect x="210.30" y="155.58" width="13.60" height="4.93" fill="hsl(137.1,100%,50%)"/>
<rect x="210.30" y="160.21" width="13.60" height="4.93" fill="hsl(142.0,100%,50%)"/>
<rect x="210.30" y="164.84" width="13.60" height="4.93" fill="hsl(146.9,100%,50%)"/>
<rect x="210.30" y="169.47" width="13.60" height="4.93" fill="hsl(151.8,100%,50%)"/>
<rect x="210.30" y="174.10" width="13.60" height="4.93" fill="hsl(156.7,100%,50%)"/>
<rect x="210.30" y="178.72" width="13.60" height="4.93" fill="hsl(161.6,100%,50%)"/>
<rect x="210.30" y="183.35" width="13.60" height="4.93" fill="hsl(166.5,100%,50%)"/>
<rect x="210.30" y="187.98" width="13.60" height="4.93" fill="hsl(171.4,100%,50%)"/>
<rect x="210.30" y="192.61" width="13.60" height="4.93" fill="hsl(176.3,100%,50%)"/>
<rect x="210.30" y="197.24" width="13.60" height="4.93" fill="hsl(181.2,100%,50%)"/>
<rect x="210.30" y="201.86" width="13.60" height="4.93" fill="hsl(186.1,100%,50%)"/>
<rect x="210.30" y="206.49" width="13.60" height="4.93" fill="hsl(191.0,100%,50%)"/>
<rect x="210.30" y="211.12" width="13.60" height="4.93" fill="hsl(195.9,100%,50%)"/>
<rect x="210.30" y="215.75" width="13.60" height="4.93" fill="hsl(200.8,100%,50%)"/>
<rect x="210.30" y="220.38" width="13.60" height="4.93" fill="hsl(205.7,100%,50%)"/>
<rect x="210.30" y="225.00" width="13.60" height="4.93" fill="hsl(210.6,100%,50%)"/>
<rect x="210.30" y="229.63" width="13.60" height="4.93" fill="hsl(215.5,100%,50%)"/>
<rect x="210.30" y="234.26" width="13.60" height="4.93" fill="hsl(220.4,100%,50%)"/>
<rect x="210.30" y="238.89" width="13.60" height="4.93" fill="hsl(225.3,100%,50%)"/>
<rect x="210.30" y="243.52" width="13.60" height="4.93" fill="hsl(230.2,100%,50%)"/>
<rect x="210.30" y="248.14" width="13.60" height="4.93" fill="hsl(235.1,100%,50%)"/>
<rect x="210.30" y="252.77" width="13.60" height="4.93" fill="hsl(240.0,100%,50%)"/>
<rect x="210.30" y="26.00" width="13.60" height="231.40" fill="none" stroke="#444" stroke-width="0.6"/>
<path d="M223.9 26.0 H226.4" stroke="#444" stroke-width="0.8"/>
<text x="228.9" y="31.4" class="t12" style="font-size:12.5px">95<tspan font-size="7" dx="0.6" dy="-4.2">˚</tspan></text>
<path d="M223.9 72.3 H226.4" stroke="#444" stroke-width="0.8"/>
<text x="228.9" y="77.7" class="t12" style="font-size:12.5px">75<tspan font-size="7" dx="0.6" dy="-4.2">˚</tspan></text>
<path d="M223.9 118.6 H226.4" stroke="#444" stroke-width="0.8"/>
<text x="228.9" y="124.0" class="t12" style="font-size:12.5px">55<tspan font-size="7" dx="0.6" dy="-4.2">˚</tspan></text>
<path d="M223.9 164.8 H226.4" stroke="#444" stroke-width="0.8"/>
<text x="228.9" y="170.2" class="t12" style="font-size:12.5px">35<tspan font-size="7" dx="0.6" dy="-4.2">˚</tspan></text>
<path d="M223.9 211.1 H226.4" stroke="#444" stroke-width="0.8"/>
<text x="228.9" y="216.5" class="t12" style="font-size:12.5px">15<tspan font-size="7" dx="0.6" dy="-4.2">˚</tspan></text>
<path d="M223.9 257.4 H226.4" stroke="#444" stroke-width="0.8"/>
<text x="228.9" y="262.8" class="t12" style="font-size:12.5px">-5<tspan font-size="7" dx="0.6" dy="-4.2">˚</tspan></text>
<text x="216.6" y="23.7" class="t15" style="font-size:17px" text-anchor="middle">θ</text>
<path d="M312.3 72.0 L409.0 72.0 L390.8 90.6 L293.4 90.6 Z" fill="#8bbf69"/>
<path d="M293.4 90.6 L390.8 90.6 L390.8 104.4 L293.4 104.4 Z" fill="#72ad4b"/>
<path d="M390.8 90.6 L409.0 72.0 L409.0 85.8 L390.8 104.4 Z" fill="#5d9439"/>
<path d="M343.8 56 C336 57.5 327.5 63 324.4 72.8 C322 80 322 90 326.4 98.5 L344.4 82.6 Z" fill="#6b7fa6"/>
<clipPath id="slabclip"><path d="M312.3 72.0 L409.0 72.0 L409.0 85.8 L390.8 104.4 L293.4 104.4 L293.4 90.6 Z"/></clipPath>
<path clip-path="url(#slabclip)" d="M343.8 56 C336 57.5 327.5 63 324.4 72.8 C322 80 322 90 326.4 98.5 L344.4 82.6 Z" fill="#416676"/>
<path d="M343.8 56 C336 57.5 327.5 63 324.4 72.8 C322 80 322 90 326.4 98.5" fill="none" stroke="#2b3b4a" stroke-width="0.5"/>
<path d="M343.9 105.3 H418" stroke="#ff0000" stroke-width="2"/>
<path d="M425.20 105.30 L416.80 108.60 L416.80 102.00 Z" fill="#ff0000"/>
<text x="413.2" y="122.0" font-size="15" font-style="italic" font-weight="bold" fill="#ff0000" class="ff">i</text>
<path d="M344.4 82.6 V15" stroke="#000" stroke-width="2.2"/>
<path d="M344.40 8.60 L347.80 15.80 L341.00 15.80 Z" fill="#000"/>
<path d="M344.4 82.6 H447" stroke="#000" stroke-width="2.2"/>
<path d="M454.40 82.70 L446.80 86.00 L446.80 79.40 Z" fill="#000"/>
<path d="M344.4 82.6 L298 123.2" stroke="#000" stroke-width="2.2"/>
<path d="M293.00 127.60 L296.48 120.04 L300.96 125.15 Z" fill="#000"/>
<text x="332.6" y="19.6" class="bl13">c</text>
<text x="455.0" y="87.8" class="bl13">a</text>
<text x="284.8" y="125.8" class="bl13">b</text>
<path d="M344.4 82.6 L293.5 49.6" stroke="#2121b5" stroke-width="2.6" stroke-dasharray="5.8 2.6" fill="none"/>
<path d="M288.00 46.20 L296.15 47.41 L292.46 53.12 Z" fill="#2121b5"/>
<text x="292.4" y="44.0" font-size="15" font-weight="bold" font-style="italic" fill="#2121b5" class="ff">B</text>
<path d="M343.6 47.3 C337 47.3 330 49.5 326.4 54.4 C324.2 57.5 323.2 59.5 323.0 61.5" fill="none" stroke="#2121b5" stroke-width="1.9"/>
<path d="M319.6 60.2 L326.4 60.6 L322.6 67.4 Z" fill="#2121b5"/>
<text x="325.4" y="46.6" font-size="14" fill="#2121b5" class="ff">θ</text>
<path d="M517.0 14.5 L664.8 16.6" fill="none" stroke="#2e2e2e" stroke-width="0.70" stroke-linejoin="round"/>
<path d="M493.8 26.4 L641.7 28.6" fill="none" stroke="#3a3a3a" stroke-width="0.80" stroke-linejoin="round"/>
<path d="M517.8 54.6 L645.0 56.5" fill="none" stroke="#444" stroke-width="0.80" stroke-linejoin="round"/>
<path d="M480.1 68.4 L639.4 70.4" fill="none" stroke="#2e2e2e" stroke-width="0.70" stroke-linejoin="round"/>
<path d="M517.1 97.1 L644.1 99.6" fill="none" stroke="#2e2e2e" stroke-width="0.70" stroke-linejoin="round"/>
<path d="M493.5 110.5 L640.4 111.3" fill="none" stroke="#2e2e2e" stroke-width="0.70" stroke-linejoin="round"/>
<path d="M517.0 14.5 L493.8 26.4 L480.1 68.4 L493.5 110.5 L517.1 97.1" fill="none" stroke="#2e2e2e" stroke-width="0.60" stroke-linejoin="round"/>
<path d="M517.0 14.5 L509.8 35.8 L500.9 52.7 L491.4 62.3 L480.1 68.4" fill="none" stroke="#2e2e2e" stroke-width="0.60" stroke-linejoin="round"/>
<path d="M509.8 35.8 L517.8 54.6" fill="none" stroke="#2e2e2e" stroke-width="0.60" stroke-linejoin="round"/>
<path d="M500.9 52.7 L512.0 75.5 L517.1 97.1" fill="none" stroke="#2e2e2e" stroke-width="0.60" stroke-linejoin="round"/>
<path d="M491.4 62.3 L500.9 88.6 L493.5 110.5" fill="none" stroke="#2e2e2e" stroke-width="0.60" stroke-linejoin="round"/>
<path d="M641.7 28.8 L664.8 16.6 L672.4 36.4 L679.9 58.0 L676.1 78.8 L666.7 99.6 L656.4 106.1 L640.4 111.3" fill="none" stroke="#2e2e2e" stroke-width="0.60" stroke-linejoin="round"/>
<path d="M641.7 28.8 L647.9 49.6 L641.3 65.0 L639.4 70.4" fill="none" stroke="#2e2e2e" stroke-width="0.60" stroke-linejoin="round"/>
<path d="M647.9 49.6 L654.5 65.0 L654.5 70.0" fill="none" stroke="#2e2e2e" stroke-width="0.60" stroke-linejoin="round"/>
<path d="M639.4 70.4 L654.5 70.0 L676.1 60.5" fill="none" stroke="#2e2e2e" stroke-width="0.60" stroke-linejoin="round"/>
<path d="M672.4 36.4 L665.8 53.3 L679.9 58.0" fill="none" stroke="#2e2e2e" stroke-width="0.60" stroke-linejoin="round"/>
<path d="M654.5 70.0 L647.0 92.0 L644.1 99.6 L640.4 111.3" fill="none" stroke="#2e2e2e" stroke-width="0.60" stroke-linejoin="round"/>
<path d="M644.1 99.6 L666.7 99.6" fill="none" stroke="#2e2e2e" stroke-width="0.60" stroke-linejoin="round"/>
<path d="M665.8 53.3 L676.1 78.8" fill="none" stroke="#2e2e2e" stroke-width="0.60" stroke-linejoin="round"/>
<path d="M506.3 27.6 C513 26.6 524 30 535.6 35.8 C528 39.2 519 39.2 512.5 36.8 C508.8 34.8 507 31.5 506.3 27.6 Z" fill="#6e1028"/>
<path d="M509 28.4 C515 28.2 522 30.6 528 33.6 C521 34.8 514 33.8 509 28.4 Z" fill="#8c2f45"/>
<path d="M622.4 36.0 C632 33.6 643 31.2 652.3 30.0 C649 35.5 642 40.2 632.6 41.1 C627.5 41.0 624 39.0 622.4 36.0 Z" fill="#6e1028"/>
<path d="M626 36.2 C634 34.2 642 32.6 648.5 31.6 C644 35 638 37 630 37.6 Z" fill="#8c2f45"/>
<path d="M506.2 96.6 C509 90.5 516 86.2 524 85.8 C530 85.8 534.5 88 536.4 91.0 C530 93.2 520 95.4 506.2 96.6 Z" fill="#6e1028"/>
<path d="M510 93.5 C514 89.5 520 87.6 526 87.8 C530 88.2 532 89.5 533 90.8 C525 91.8 517 93 510 93.5 Z" fill="#8c2f45"/>
<path d="M621.7 91.2 C626 87.8 632 86.5 637 86.9 C644 87.8 649.5 92 651.8 96.8 C643 97.8 633 96.8 626 94.2 C623.6 93.2 622.2 92.2 621.7 91.2 Z" fill="#6e1028"/>
<path d="M626 90.6 C631 88.4 636 88.2 641 89.4 C645 90.6 647.5 92.8 648.5 94.6 C641 94.6 633 93.4 626 90.6 Z" fill="#8c2f45"/>
<path d="M534.4 64.2 C537.5 61.5 541 58.5 544.2 57.2 C546.5 58.5 548.3 61.5 548.6 64.5 C548.2 68.5 546.8 71.5 545 72.8 C541 70.5 537.5 67.5 534.4 64.2 Z" fill="#741630"/>
<path d="M546.8 56.5 C547.2 54 549.5 52.8 553 52.8 C556.5 53 558.5 55 558.5 58.5 C558.4 62.5 557.5 66 555.5 67.6 C552 67.8 549 66.2 547.4 63 C546.8 61 546.6 58.5 546.8 56.5 Z" fill="#6e1028"/>
<path d="M549 56.5 C549.6 55 551.5 54.3 554 54.5 C556 55 556.8 57 556.4 59.5 C554 60.5 551 59.8 549 56.5 Z" fill="#8c2f45"/>
<path d="M538.5 64.2 C540.5 62.2 542.8 60.6 544.6 60.2 C545.8 62.5 546 65.5 545.2 68 C542.5 67 540.2 65.8 538.5 64.2 Z" fill="#8c2f45"/>
<path d="M600 66.5 C600 62 602.5 59 606.5 58.9 C610 59.2 611.8 62.5 611.8 66.5 C611.6 70.5 608.5 73.5 604.8 73.5 C601.8 73.2 600 70.2 600 66.5 Z" fill="#741630"/>
<path d="M611.8 53.0 C615.5 54.5 620 57.5 623.4 60.3 C620.5 63.5 616.5 66.8 611.8 68.4 C610.2 65 609.6 61 609.8 57.5 C610.2 55.5 610.8 54 611.8 53.0 Z" fill="#6e1028"/>
<path d="M612.8 56 C615.5 57.2 618.5 59 620.5 60.6 C618 62.2 615.5 63.2 613 63.6 C612.3 61 612.2 58.5 612.8 56 Z" fill="#8c2f45"/>
<path d="M602.5 63.5 C603.5 61.5 605.5 60.8 607.5 61.2 C608.8 63.5 608.5 66.5 606.8 68.5 C604.5 67.5 603 65.8 602.5 63.5 Z" fill="#8c2f45"/>
<ellipse cx="564.0" cy="58.5" rx="2.5" ry="3.3" transform="rotate(0.0 564.0 58.5)" fill="#6e1028"/>
<ellipse cx="593.2" cy="46.5" rx="1.8" ry="1.8" transform="rotate(0.0 593.2 46.5)" fill="#6e1028"/>
<ellipse cx="564.7" cy="79.0" rx="1.1" ry="1.3" transform="rotate(0.0 564.7 79.0)" fill="#6e1028"/>
<ellipse cx="564.0" cy="82.9" rx="2.6" ry="5.0" transform="rotate(8.0 564.0 82.9)" fill="#6e1028"/>
<ellipse cx="593.8" cy="66.9" rx="2.5" ry="3.7" transform="rotate(0.0 593.8 66.9)" fill="#6e1028"/>
<ellipse cx="594.2" cy="43.6" rx="1.9" ry="4.2" transform="rotate(5.0 594.2 43.6)" fill="#6e1028"/>
<ellipse cx="570.2" cy="39.6" rx="3.3" ry="4.6" transform="rotate(0.0 570.2 39.6)" fill="#6e1028"/>
<ellipse cx="587.8" cy="29.2" rx="3.0" ry="5.6" transform="rotate(8.0 587.8 29.2)" fill="#6e1028"/>
<ellipse cx="587.4" cy="85.7" rx="3.9" ry="4.2" transform="rotate(0.0 587.4 85.7)" fill="#6e1028"/>
<ellipse cx="587.0" cy="84.6" rx="2.2" ry="2.0" transform="rotate(0.0 587.0 84.6)" fill="#8c2f45"/>
<path d="M570.5 90 C573.5 90 575 92.5 574.6 95.5 C574 98.5 572 101 570.2 102.6 C568.2 100.5 566.8 97.8 566.8 95 C566.8 92 568.2 90 570.5 90 Z" fill="#6e1028"/>
<ellipse cx="486.0" cy="50.0" rx="4.2" ry="2.6" transform="rotate(40.0 486.0 50.0)" fill="#6e1028"/>
<path d="M480.6 72.8 C483 71 487 70.2 490.6 70.4 C490 74.5 486.5 77.6 482.5 77.4 C481.2 76 480.6 74.5 480.6 72.8 Z" fill="#6e1028"/>
<ellipse cx="671.9" cy="52.4" rx="4.6" ry="2.8" transform="rotate(-35.0 671.9 52.4)" fill="#6e1028"/>
<ellipse cx="671.9" cy="75.0" rx="4.4" ry="3.0" transform="rotate(35.0 671.9 75.0)" fill="#6e1028"/>
<ellipse cx="596.0" cy="41.5" rx="1.2" ry="2.5" transform="rotate(0.0 596.0 41.5)" fill="#6e1028"/>
<path d="M538.6 36.0 C540.5 31 542.5 26.5 543.7 21.6 L549.7 21.6 C549.4 27 547 32.5 543.6 35.2 C541.8 36.2 540 36.4 538.6 36.0 Z" fill="#2c1f6e"/>
<path d="M497.4 20.8 L505.4 21.8 C503.5 24 500.5 25.2 497.4 25.0 Z" fill="#2c1f6e"/>
<path d="M497.2 103.6 C497.6 100.6 500.6 98.2 504.6 97.6 C505 99.8 504.6 101.8 503.6 103.6 Z" fill="#2c1f6e"/>
<path d="M538.6 89.4 L541.8 88.8 C546.5 92.5 549.8 97.5 550.4 104.4 L545.4 104.6 C545 99 542.5 93.5 538.6 89.4 Z" fill="#2c1f6e"/>
<path d="M492.4 55.4 C496.5 55.8 499.8 58.5 499.8 62.4 C496.5 63.2 493.8 61.5 492.6 59 Z" fill="#2c1f6e"/>
<path d="M563.4 28.3 L569.4 28.3 L567.2 34.3 Z" fill="#2c1f6e"/>
<path d="M571 25.2 L577 24.8 L576 39.4 C574 36 572.5 31 571 25.2 Z" fill="#2c1f6e"/>
<path d="M580.5 33.4 C581 28 582.6 22.5 584.2 18.8 L587.2 19.4 C586.4 24 585 29 580.5 33.4 Z" fill="#2c1f6e"/>
<path d="M588.2 14.0 L594.2 13.8 C593 17 591.2 19.5 589.4 21.4 Z" fill="#2c1f6e"/>
<path d="M608.7 22.3 L614.5 22.3 C615 28 616.8 33 619.2 37.5 C614 35.5 610.8 30.5 608.7 22.3 Z" fill="#2c1f6e"/>
<path d="M654 27.8 C655.5 25 658 23.4 660.2 23.2 C660 26 657.6 28.0 654 27.8 Z" fill="#2c1f6e"/>
<path d="M591.7 50.1 C594 52.5 595.2 55 595.0 56.5 C594.6 58.5 593.2 60.5 591.7 61.8 C589.8 60 588.4 58 588.4 56 C588.6 54 589.8 52 591.7 50.1 Z" fill="#2c1f6e"/>
<path d="M566.1 64.0 C568.2 66.5 569.4 69 569.4 70.5 C569.2 72.5 567.8 74.8 566.1 76.4 C564.2 74.5 562.8 72.5 562.8 70.5 C563 68.5 564.2 66.2 566.1 64.0 Z" fill="#2c1f6e"/>
<path d="M571.4 106.8 L571.4 98 C573.5 95.5 575.8 93.5 577.9 92.4 C577 95 576 98 575.6 101 L575.8 106.8 Z" fill="#2c1f6e"/>
<path d="M563.4 111.3 C564.5 107.5 566.5 105 569.0 104.6 L570.1 111.3 Z" fill="#2c1f6e"/>
<path d="M581.3 100.5 L582 88 C583.2 90 584.8 92 586 93.8 L586.5 102.4 L582.5 102.4 Z" fill="#2c1f6e"/>
<path d="M580.4 88 C582 92 582.6 97 582.0 102.3 L585 102.3 C585.5 96 584 91 580.4 88 Z" fill="#2c1f6e"/>
<path d="M588.0 99.0 C589 95 591.5 92 594.6 91.2 C594.2 95 592 98 588.0 99.0 Z" fill="#2c1f6e"/>
<path d="M576 93.4 L579.3 94 L579.3 106.7 L576.8 106.7 Z" fill="#2c1f6e"/>
<path d="M610.6 104.6 C611 98 614 93 618.4 90.0 L619.6 91.5 C616.5 95 615 99.5 614.6 104.6 Z" fill="#2c1f6e"/>
<path d="M652.8 100.0 C656 101 659 103 661.6 106.6 C657.5 106.8 654.6 104.5 652.8 100.0 Z" fill="#2c1f6e"/>
<path d="M658.3 68.5 C658.6 64.5 661 61 665.8 60.0 C665 63.5 663 66.8 658.3 68.5 Z" fill="#2c1f6e"/>
<path d="M658.3 65.0 C660 61 663.5 58.2 667.7 57.1 C667 60.5 664 63.5 658.3 65.0 Z" fill="#2c1f6e"/>
<path d="M559.1 10.7 L549.7 22.3" fill="none" stroke="#ff00ff" stroke-width="1.30" stroke-linejoin="round"/>
<path d="M517.2 55.1 L498.7 60.6" fill="none" stroke="#ff00ff" stroke-width="1.30" stroke-linejoin="round"/>
<path d="M526.0 95.6 L528.4 120.2" fill="none" stroke="#ff00ff" stroke-width="1.30" stroke-linejoin="round"/>
<path d="M622.8 62.2 L641.7 77.8" fill="none" stroke="#ff00ff" stroke-width="1.30" stroke-linejoin="round"/>
<text transform="translate(552.8 9.6) scale(1.02 1)" class="gk" fill="#1f1ff0">α</text><text transform="translate(561.6 12.9) scale(1.3 1)" class="gs" fill="#1f1ff0">12</text>
<text transform="translate(516.8 54.8) scale(1.00 1)" class="gk" fill="#1f1ff0">β</text><text transform="translate(524.7 58.0) scale(1.3 1)" class="gs" fill="#1f1ff0">12</text>
<text transform="translate(528.6 125.6) scale(1.30 1)" class="gk" fill="#f01414">γ</text><text transform="translate(536.5 129.6) scale(1.3 1)" class="gs" fill="#f01414">12</text>
<text transform="translate(641.6 84.6) scale(1.18 1)" class="gk" fill="#f01414">η</text><text transform="translate(649.4 88.4) scale(1.3 1)" class="gs" fill="#f01414">12</text>
<defs><linearGradient id="gd0" x1="0" y1="0" x2="0" y2="1"><stop offset="0.000" stop-color="#5e4fa2"/><stop offset="0.571" stop-color="#5e4fa2"/><stop offset="0.583" stop-color="#5d50a2"/><stop offset="0.595" stop-color="#5d50a3"/><stop offset="0.607" stop-color="#5856a6"/><stop offset="0.619" stop-color="#4570b2"/><stop offset="0.631" stop-color="#338abc"/><stop offset="0.643" stop-color="#4ba4b2"/><stop offset="0.655" stop-color="#6ac4a5"/><stop offset="0.667" stop-color="#94d4a4"/><stop offset="0.679" stop-color="#bae3a1"/><stop offset="0.690" stop-color="#ebf7a0"/><stop offset="0.702" stop-color="#c8e99e"/><stop offset="0.714" stop-color="#b2e0a3"/><stop offset="0.726" stop-color="#a3daa4"/><stop offset="0.738" stop-color="#85cea5"/><stop offset="0.750" stop-color="#66c2a5"/><stop offset="0.762" stop-color="#4ea8b0"/><stop offset="0.774" stop-color="#3e96b7"/><stop offset="0.786" stop-color="#3584bb"/><stop offset="0.798" stop-color="#4273b3"/><stop offset="0.810" stop-color="#4470b2"/><stop offset="0.821" stop-color="#3e79b6"/><stop offset="0.833" stop-color="#3781ba"/><stop offset="0.845" stop-color="#378dbb"/><stop offset="0.857" stop-color="#4ea7b0"/><stop offset="0.869" stop-color="#65c1a5"/><stop offset="0.881" stop-color="#84cea5"/><stop offset="0.893" stop-color="#91d3a4"/><stop offset="0.905" stop-color="#9cd7a4"/><stop offset="0.917" stop-color="#a6dba4"/><stop offset="0.929" stop-color="#a6dba4"/><stop offset="0.940" stop-color="#9cd7a4"/><stop offset="0.952" stop-color="#91d3a4"/><stop offset="0.964" stop-color="#87cfa5"/><stop offset="0.976" stop-color="#7ccba5"/><stop offset="0.988" stop-color="#71c6a5"/><stop offset="1.000" stop-color="#66c2a5"/></linearGradient><linearGradient id="gd1" x1="0" y1="0" x2="0" y2="1"><stop offset="0.000" stop-color="#5e4fa2"/><stop offset="0.571" stop-color="#5e4fa2"/><stop offset="0.583" stop-color="#5d50a2"/><stop offset="0.595" stop-color="#5d50a3"/><stop offset="0.607" stop-color="#5856a6"/><stop offset="0.619" stop-color="#4570b2"/><stop offset="0.631" stop-color="#338abc"/><stop offset="0.643" stop-color="#4ba4b2"/><stop offset="0.655" stop-color="#6ac4a5"/><stop offset="0.667" stop-color="#94d4a4"/><stop offset="0.679" stop-color="#bae3a1"/><stop offset="0.690" stop-color="#ebf7a0"/><stop offset="0.702" stop-color="#c8e99e"/><stop offset="0.714" stop-color="#b2e0a3"/><stop offset="0.726" stop-color="#a3daa4"/><stop offset="0.738" stop-color="#85cea5"/><stop offset="0.750" stop-color="#66c2a5"/><stop offset="0.762" stop-color="#4ea8b0"/><stop offset="0.774" stop-color="#3e96b7"/><stop offset="0.786" stop-color="#3584bb"/><stop offset="0.798" stop-color="#4273b3"/><stop offset="0.810" stop-color="#4470b2"/><stop offset="0.821" stop-color="#3e79b6"/><stop offset="0.833" stop-color="#3781ba"/><stop offset="0.845" stop-color="#378dbb"/><stop offset="0.857" stop-color="#4ea7b0"/><stop offset="0.869" stop-color="#65c1a5"/><stop offset="0.881" stop-color="#84cea5"/><stop offset="0.893" stop-color="#91d3a4"/><stop offset="0.905" stop-color="#9cd7a4"/><stop offset="0.917" stop-color="#a6dba4"/><stop offset="0.929" stop-color="#a6dba4"/><stop offset="0.940" stop-color="#9cd7a4"/><stop offset="0.952" stop-color="#91d3a4"/><stop offset="0.964" stop-color="#87cfa5"/><stop offset="0.976" stop-color="#7ccba5"/><stop offset="0.988" stop-color="#71c6a5"/><stop offset="1.000" stop-color="#66c2a5"/></linearGradient><linearGradient id="gd2" x1="0" y1="0" x2="0" y2="1"><stop offset="0.000" stop-color="#5e4fa2"/><stop offset="0.560" stop-color="#5e4fa2"/><stop offset="0.571" stop-color="#5e50a2"/><stop offset="0.583" stop-color="#5d50a2"/><stop offset="0.595" stop-color="#5d50a3"/><stop offset="0.607" stop-color="#5856a6"/><stop offset="0.619" stop-color="#4570b2"/><stop offset="0.631" stop-color="#338abc"/><stop offset="0.643" stop-color="#4ba4b2"/><stop offset="0.655" stop-color="#6ac4a5"/><stop offset="0.667" stop-color="#94d4a4"/><stop offset="0.679" stop-color="#bae3a1"/><stop offset="0.690" stop-color="#ebf7a0"/><stop offset="0.702" stop-color="#c6e89e"/><stop offset="0.714" stop-color="#b2e0a3"/><stop offset="0.726" stop-color="#a3daa4"/><stop offset="0.738" stop-color="#85cea5"/><stop offset="0.750" stop-color="#66c2a5"/><stop offset="0.762" stop-color="#4ea8b0"/><stop offset="0.774" stop-color="#3e96b7"/><stop offset="0.786" stop-color="#3584bb"/><stop offset="0.798" stop-color="#4273b3"/><stop offset="0.810" stop-color="#4470b2"/><stop offset="0.821" stop-color="#3e79b6"/><stop offset="0.833" stop-color="#3781ba"/><stop offset="0.845" stop-color="#378dbb"/><stop offset="0.857" stop-color="#4ea7b0"/><stop offset="0.869" stop-color="#65c1a5"/><stop offset="0.881" stop-color="#84cea5"/><stop offset="0.893" stop-color="#91d3a4"/><stop offset="0.905" stop-color="#9cd7a4"/><stop offset="0.917" stop-color="#a6dba4"/><stop offset="0.929" stop-color="#a6dba4"/><stop offset="0.940" stop-color="#9cd7a4"/><stop offset="0.952" stop-color="#91d3a4"/><stop offset="0.964" stop-color="#87cfa5"/><stop offset="0.976" stop-color="#7ccba5"/><stop offset="0.988" stop-color="#71c6a5"/><stop offset="1.000" stop-color="#66c2a5"/></linearGradient><linearGradient id="gd3" x1="0" y1="0" x2="0" y2="1"><stop offset="0.000" stop-color="#5e4fa2"/><stop offset="0.560" stop-color="#5e4fa2"/><stop offset="0.571" stop-color="#5e50a2"/><stop offset="0.583" stop-color="#5d50a2"/><stop offset="0.595" stop-color="#5d50a3"/><stop offset="0.607" stop-color="#5856a6"/><stop offset="0.619" stop-color="#4570b2"/><stop offset="0.631" stop-color="#338abc"/><stop offset="0.643" stop-color="#4ba4b2"/><stop offset="0.655" stop-color="#6ac4a5"/><stop offset="0.667" stop-color="#94d4a4"/><stop offset="0.679" stop-color="#c9e99e"/><stop offset="0.690" stop-color="#ebf79f"/><stop offset="0.702" stop-color="#c1e6a0"/><stop offset="0.714" stop-color="#b2e0a3"/><stop offset="0.726" stop-color="#a3daa4"/><stop offset="0.738" stop-color="#85cea5"/><stop offset="0.750" stop-color="#66c2a5"/><stop offset="0.762" stop-color="#4ea8b0"/><stop offset="0.774" stop-color="#3e96b7"/><stop offset="0.786" stop-color="#3584bb"/><stop offset="0.798" stop-color="#4273b3"/><stop offset="0.810" stop-color="#4470b2"/><stop offset="0.821" stop-color="#3e79b6"/><stop offset="0.833" stop-color="#3781ba"/><stop offset="0.845" stop-color="#3b92b9"/><stop offset="0.857" stop-color="#6bc4a5"/><stop offset="0.869" stop-color="#a9dca4"/><stop offset="0.881" stop-color="#def29a"/><stop offset="0.893" stop-color="#e9f69d"/><stop offset="0.905" stop-color="#edf8a3"/><stop offset="0.917" stop-color="#f1f9a9"/><stop offset="0.929" stop-color="#ebf7a0"/><stop offset="0.940" stop-color="#cfec9d"/><stop offset="0.952" stop-color="#acdda4"/><stop offset="0.964" stop-color="#87cfa5"/><stop offset="0.976" stop-color="#7ccba5"/><stop offset="0.988" stop-color="#71c6a5"/><stop offset="1.000" stop-color="#66c2a5"/></linearGradient><linearGradient id="gd4" x1="0" y1="0" x2="0" y2="1"><stop offset="0.000" stop-color="#5e4fa2"/><stop offset="0.560" stop-color="#5e4fa2"/><stop offset="0.571" stop-color="#5e50a2"/><stop offset="0.583" stop-color="#5d50a2"/><stop offset="0.595" stop-color="#5d51a3"/><stop offset="0.607" stop-color="#5856a6"/><stop offset="0.619" stop-color="#4570b2"/><stop offset="0.631" stop-color="#338abc"/><stop offset="0.643" stop-color="#4ba4b2"/><stop offset="0.655" stop-color="#6ac4a5"/><stop offset="0.667" stop-color="#94d4a4"/><stop offset="0.679" stop-color="#def29a"/><stop offset="0.690" stop-color="#eaf69d"/><stop offset="0.702" stop-color="#bae3a1"/><stop offset="0.714" stop-color="#b2e0a3"/><stop offset="0.726" stop-color="#a3daa4"/><stop offset="0.738" stop-color="#85cea5"/><stop offset="0.750" stop-color="#66c2a5"/><stop offset="0.762" stop-color="#4ea8b0"/><stop offset="0.774" stop-color="#3e96b7"/><stop offset="0.786" stop-color="#3584bb"/><stop offset="0.798" stop-color="#4273b3"/><stop offset="0.810" stop-color="#4470b2"/><stop offset="0.821" stop-color="#3e79b6"/><stop offset="0.833" stop-color="#3781ba"/><stop offset="0.845" stop-color="#3b92b9"/><stop offset="0.857" stop-color="#6bc4a5"/><stop offset="0.869" stop-color="#a9dca4"/><stop offset="0.881" stop-color="#def29a"/><stop offset="0.893" stop-color="#dff29a"/><stop offset="0.905" stop-color="#d6ee9b"/><stop offset="0.917" stop-color="#cdeb9d"/><stop offset="0.929" stop-color="#c0e5a0"/><stop offset="0.940" stop-color="#aedea3"/><stop offset="0.952" stop-color="#9ad6a4"/><stop offset="0.964" stop-color="#87cfa5"/><stop offset="0.976" stop-color="#7ccba5"/><stop offset="0.988" stop-color="#71c6a5"/><stop offset="1.000" stop-color="#66c2a5"/></linearGradient><linearGradient id="gd5" x1="0" y1="0" x2="0" y2="1"><stop offset="0.000" stop-color="#5e4fa2"/><stop offset="0.560" stop-color="#5e4fa2"/><stop offset="0.571" stop-color="#5d50a2"/><stop offset="0.583" stop-color="#5d50a3"/><stop offset="0.595" stop-color="#5d51a3"/><stop offset="0.607" stop-color="#5856a6"/><stop offset="0.619" stop-color="#4570b2"/><stop offset="0.631" stop-color="#338abc"/><stop offset="0.643" stop-color="#4ba4b2"/><stop offset="0.655" stop-color="#6ac4a5"/><stop offset="0.667" stop-color="#94d4a4"/><stop offset="0.679" stop-color="#eaf69d"/><stop offset="0.690" stop-color="#e7f599"/><stop offset="0.702" stop-color="#bae3a1"/><stop offset="0.714" stop-color="#b2e0a3"/><stop offset="0.726" stop-color="#a3daa4"/><stop offset="0.738" stop-color="#85cea5"/><stop offset="0.750" stop-color="#66c2a5"/><stop offset="0.762" stop-color="#4ea8b0"/><stop offset="0.774" stop-color="#3e96b7"/><stop offset="0.786" stop-color="#3584bb"/><stop offset="0.798" stop-color="#4273b3"/><stop offset="0.810" stop-color="#4470b2"/><stop offset="0.821" stop-color="#3e79b6"/><stop offset="0.833" stop-color="#3781ba"/><stop offset="0.845" stop-color="#388fba"/><stop offset="0.857" stop-color="#57b1ac"/><stop offset="0.869" stop-color="#7bcaa5"/><stop offset="0.881" stop-color="#a5dba4"/><stop offset="0.893" stop-color="#abdda4"/><stop offset="0.917" stop-color="#abdda4"/><stop offset="0.929" stop-color="#a6dba4"/><stop offset="0.940" stop-color="#9cd7a4"/><stop offset="0.952" stop-color="#91d3a4"/><stop offset="0.964" stop-color="#87cfa5"/><stop offset="0.976" stop-color="#7ccba5"/><stop offset="0.988" stop-color="#71c6a5"/><stop offset="1.000" stop-color="#66c2a5"/></linearGradient><linearGradient id="gd6" x1="0" y1="0" x2="0" y2="1"><stop offset="0.000" stop-color="#5e4fa2"/><stop offset="0.548" stop-color="#5e4fa2"/><stop offset="0.560" stop-color="#5e50a2"/><stop offset="0.571" stop-color="#5d50a2"/><stop offset="0.583" stop-color="#5d50a3"/><stop offset="0.595" stop-color="#5c51a3"/><stop offset="0.607" stop-color="#5856a6"/><stop offset="0.619" stop-color="#4570b2"/><stop offset="0.631" stop-color="#338abc"/><stop offset="0.643" stop-color="#4ba4b2"/><stop offset="0.655" stop-color="#6ac4a5"/><stop offset="0.667" stop-color="#b3e0a2"/><stop offset="0.679" stop-color="#ebf7a0"/><stop offset="0.690" stop-color="#dbf19a"/><stop offset="0.702" stop-color="#bae3a1"/><stop offset="0.714" stop-color="#b2e0a3"/><stop offset="0.726" stop-color="#a3daa4"/><stop offset="0.738" stop-color="#85cea5"/><stop offset="0.750" stop-color="#66c2a5"/><stop offset="0.762" stop-color="#4ea8b0"/><stop offset="0.774" stop-color="#3e96b7"/><stop offset="0.786" stop-color="#3584bb"/><stop offset="0.798" stop-color="#4273b3"/><stop offset="0.810" stop-color="#4470b2"/><stop offset="0.821" stop-color="#3e79b6"/><stop offset="0.833" stop-color="#3781ba"/><stop offset="0.845" stop-color="#388fba"/><stop offset="0.857" stop-color="#57b1ac"/><stop offset="0.869" stop-color="#7bcaa5"/><stop offset="0.881" stop-color="#a5dba4"/><stop offset="0.893" stop-color="#abdda4"/><stop offset="0.917" stop-color="#abdda4"/><stop offset="0.929" stop-color="#a6dba4"/><stop offset="0.940" stop-color="#9cd7a4"/><stop offset="0.952" stop-color="#91d3a4"/><stop offset="0.964" stop-color="#87cfa5"/><stop offset="0.976" stop-color="#7ccba5"/><stop offset="0.988" stop-color="#71c6a5"/><stop offset="1.000" stop-color="#66c2a5"/></linearGradient><linearGradient id="gd7" x1="0" y1="0" x2="0" y2="1"><stop offset="0.000" stop-color="#5e4fa2"/><stop offset="0.548" stop-color="#5e4fa2"/><stop offset="0.560" stop-color="#5e50a2"/><stop offset="0.571" stop-color="#5c51a3"/><stop offset="0.583" stop-color="#5a55a5"/><stop offset="0.595" stop-color="#5758a6"/><stop offset="0.607" stop-color="#5061aa"/><stop offset="0.619" stop-color="#3f77b5"/><stop offset="0.631" stop-color="#378dbb"/><stop offset="0.643" stop-color="#4ba4b2"/><stop offset="0.655" stop-color="#6ac4a5"/><stop offset="0.667" stop-color="#def29a"/><stop offset="0.679" stop-color="#ebf7a0"/><stop offset="0.690" stop-color="#c7e89e"/><stop offset="0.702" stop-color="#bae3a1"/><stop offset="0.714" stop-color="#b2e0a3"/><stop offset="0.726" stop-color="#a3daa4"/><stop offset="0.738" stop-color="#85cea5"/><stop offset="0.750" stop-color="#66c2a5"/><stop offset="0.762" stop-color="#4ea8b0"/><stop offset="0.774" stop-color="#3e96b7"/><stop offset="0.786" stop-color="#3584bb"/><stop offset="0.798" stop-color="#4273b3"/><stop offset="0.810" stop-color="#4470b2"/><stop offset="0.821" stop-color="#3e79b6"/><stop offset="0.833" stop-color="#3781ba"/><stop offset="0.845" stop-color="#388fba"/><stop offset="0.857" stop-color="#57b1ac"/><stop offset="0.869" stop-color="#7bcaa5"/><stop offset="0.881" stop-color="#a5dba4"/><stop offset="0.893" stop-color="#abdda4"/><stop offset="0.917" stop-color="#abdda4"/><stop offset="0.929" stop-color="#a6dba4"/><stop offset="0.940" stop-color="#9cd7a4"/><stop offset="0.952" stop-color="#91d3a4"/><stop offset="0.964" stop-color="#87cfa5"/><stop offset="0.976" stop-color="#7ccba5"/><stop offset="0.988" stop-color="#71c6a5"/><stop offset="1.000" stop-color="#66c2a5"/></linearGradient><linearGradient id="gd8" x1="0" y1="0" x2="0" y2="1"><stop offset="0.000" stop-color="#5e4fa2"/><stop offset="0.548" stop-color="#5e4fa2"/><stop offset="0.560" stop-color="#5d50a2"/><stop offset="0.571" stop-color="#5c51a3"/><stop offset="0.583" stop-color="#5a55a5"/><stop offset="0.595" stop-color="#5758a6"/><stop offset="0.607" stop-color="#5061aa"/><stop offset="0.619" stop-color="#3f77b5"/><stop offset="0.631" stop-color="#378dbb"/><stop offset="0.643" stop-color="#4ba4b2"/><stop offset="0.655" stop-color="#a0d9a4"/><stop offset="0.667" stop-color="#ebf7a0"/><stop offset="0.679" stop-color="#e7f69a"/><stop offset="0.690" stop-color="#c3e79f"/><stop offset="0.702" stop-color="#bae3a1"/><stop offset="0.714" stop-color="#b2e0a3"/><stop offset="0.726" stop-color="#a3daa4"/><stop offset="0.738" stop-color="#85cea5"/><stop offset="0.750" stop-color="#66c2a5"/><stop offset="0.762" stop-color="#4ea8b0"/><stop offset="0.774" stop-color="#3e96b7"/><stop offset="0.786" stop-color="#3584bb"/><stop offset="0.798" stop-color="#4273b3"/><stop offset="0.810" stop-color="#4470b2"/><stop offset="0.821" stop-color="#3e79b6"/><stop offset="0.833" stop-color="#3781ba"/><stop offset="0.845" stop-color="#388fba"/><stop offset="0.857" stop-color="#57b1ac"/><stop offset="0.869" stop-color="#7bcaa5"/><stop offset="0.881" stop-color="#a5dba4"/><stop offset="0.893" stop-color="#abdda4"/><stop offset="0.917" stop-color="#abdda4"/><stop offset="0.929" stop-color="#a6dba4"/><stop offset="0.940" stop-color="#9cd7a4"/><stop offset="0.952" stop-color="#91d3a4"/><stop offset="0.964" stop-color="#87cfa5"/><stop offset="0.976" stop-color="#7ccba5"/><stop offset="0.988" stop-color="#71c6a5"/><stop offset="1.000" stop-color="#66c2a5"/></linearGradient><linearGradient id="gd9" x1="0" y1="0" x2="0" y2="1"><stop offset="0.000" stop-color="#5e4fa2"/><stop offset="0.440" stop-color="#5e4fa2"/><stop offset="0.452" stop-color="#5c51a3"/><stop offset="0.464" stop-color="#5a55a5"/><stop offset="0.476" stop-color="#5758a6"/><stop offset="0.488" stop-color="#5659a7"/><stop offset="0.500" stop-color="#5956a5"/><stop offset="0.512" stop-color="#5b52a4"/><stop offset="0.524" stop-color="#5e4fa2"/><stop offset="0.536" stop-color="#5b52a4"/><stop offset="0.548" stop-color="#5956a5"/><stop offset="0.560" stop-color="#5659a7"/><stop offset="0.571" stop-color="#555aa7"/><stop offset="0.595" stop-color="#555aa7"/><stop offset="0.607" stop-color="#5061aa"/><stop offset="0.619" stop-color="#3f77b5"/><stop offset="0.631" stop-color="#378dbb"/><stop offset="0.643" stop-color="#5cb7aa"/><stop offset="0.655" stop-color="#ddf19a"/><stop offset="0.667" stop-color="#ebf7a0"/><stop offset="0.679" stop-color="#d2ed9c"/><stop offset="0.690" stop-color="#c3e79f"/><stop offset="0.702" stop-color="#bae3a1"/><stop offset="0.714" stop-color="#b2e0a3"/><stop offset="0.726" stop-color="#a3daa4"/><stop offset="0.738" stop-color="#85cea5"/><stop offset="0.750" stop-color="#66c2a5"/><stop offset="0.762" stop-color="#4ea8b0"/><stop offset="0.774" stop-color="#3e96b7"/><stop offset="0.786" stop-color="#3584bb"/><stop offset="0.798" stop-color="#4273b3"/><stop offset="0.810" stop-color="#4470b2"/><stop offset="0.821" stop-color="#3e79b6"/><stop offset="0.833" stop-color="#3781ba"/><stop offset="0.845" stop-color="#388fba"/><stop offset="0.857" stop-color="#57b1ac"/><stop offset="0.869" stop-color="#7bcaa5"/><stop offset="0.881" stop-color="#a5dba4"/><stop offset="0.893" stop-color="#abdda4"/><stop offset="0.917" stop-color="#abdda4"/><stop offset="0.929" stop-color="#a6dba4"/><stop offset="0.940" stop-color="#9cd7a4"/><stop offset="0.952" stop-color="#91d3a4"/><stop offset="0.964" stop-color="#87cfa5"/><stop offset="0.976" stop-color="#7ccba5"/><stop offset="0.988" stop-color="#71c6a5"/><stop offset="1.000" stop-color="#66c2a5"/></linearGradient><linearGradient id="gd10" x1="0" y1="0" x2="0" y2="1"><stop offset="0.000" stop-color="#5e4fa2"/><stop offset="0.405" stop-color="#5e4fa2"/><stop offset="0.417" stop-color="#5b53a4"/><stop offset="0.429" stop-color="#5956a5"/><stop offset="0.440" stop-color="#5659a7"/><stop offset="0.452" stop-color="#555aa7"/><stop offset="0.560" stop-color="#555aa7"/><stop offset="0.571" stop-color="#4e63ac"/><stop offset="0.583" stop-color="#4471b2"/><stop offset="0.595" stop-color="#397eb8"/><stop offset="0.607" stop-color="#4097b7"/><stop offset="0.619" stop-color="#71c6a5"/><stop offset="0.631" stop-color="#aedea3"/><stop offset="0.643" stop-color="#e3f499"/><stop offset="0.655" stop-color="#ebf7a0"/><stop offset="0.667" stop-color="#e8f69b"/><stop offset="0.679" stop-color="#b2e0a3"/><stop offset="0.690" stop-color="#9fd8a4"/><stop offset="0.702" stop-color="#8ad0a4"/><stop offset="0.714" stop-color="#76c8a5"/><stop offset="0.726" stop-color="#62bea7"/><stop offset="0.738" stop-color="#53acae"/><stop offset="0.750" stop-color="#439bb5"/><stop offset="0.762" stop-color="#348abc"/><stop offset="0.774" stop-color="#3880b9"/><stop offset="0.786" stop-color="#3e78b5"/><stop offset="0.798" stop-color="#456fb1"/><stop offset="0.810" stop-color="#4175b4"/><stop offset="0.821" stop-color="#3486bc"/><stop offset="0.833" stop-color="#4097b7"/><stop offset="0.845" stop-color="#51aaaf"/><stop offset="0.857" stop-color="#68c3a5"/><stop offset="0.869" stop-color="#87cfa5"/><stop offset="0.881" stop-color="#a6dba4"/><stop offset="0.893" stop-color="#abdda4"/><stop offset="0.917" stop-color="#abdda4"/><stop offset="0.929" stop-color="#9cd7a4"/><stop offset="0.940" stop-color="#7dcba5"/><stop offset="0.952" stop-color="#60bba8"/><stop offset="0.964" stop-color="#4da6b0"/><stop offset="0.976" stop-color="#55b0ad"/><stop offset="0.988" stop-color="#5eb9a9"/><stop offset="1.000" stop-color="#66c2a5"/></linearGradient><linearGradient id="gd11" x1="0" y1="0" x2="0" y2="1"><stop offset="0.000" stop-color="#5e4fa2"/><stop offset="0.357" stop-color="#5e4fa2"/><stop offset="0.369" stop-color="#5d50a3"/><stop offset="0.381" stop-color="#5a54a4"/><stop offset="0.393" stop-color="#5857a6"/><stop offset="0.405" stop-color="#555aa7"/><stop offset="0.524" stop-color="#555aa7"/><stop offset="0.536" stop-color="#535da9"/><stop offset="0.548" stop-color="#515faa"/><stop offset="0.560" stop-color="#4f62ab"/><stop offset="0.571" stop-color="#496aaf"/><stop offset="0.583" stop-color="#4175b4"/><stop offset="0.595" stop-color="#3880b9"/><stop offset="0.607" stop-color="#4097b7"/><stop offset="0.619" stop-color="#71c6a5"/><stop offset="0.631" stop-color="#aedea3"/><stop offset="0.643" stop-color="#eaf79e"/><stop offset="0.655" stop-color="#ebf7a0"/><stop offset="0.667" stop-color="#cdeb9d"/><stop offset="0.679" stop-color="#b2e0a3"/><stop offset="0.690" stop-color="#9fd8a4"/><stop offset="0.702" stop-color="#8ad0a4"/><stop offset="0.714" stop-color="#76c8a5"/><stop offset="0.726" stop-color="#62bea7"/><stop offset="0.738" stop-color="#53acae"/><stop offset="0.750" stop-color="#439bb5"/><stop offset="0.762" stop-color="#348abc"/><stop offset="0.774" stop-color="#3880b9"/><stop offset="0.786" stop-color="#3e78b5"/><stop offset="0.798" stop-color="#456fb1"/><stop offset="0.810" stop-color="#4175b4"/><stop offset="0.821" stop-color="#3486bc"/><stop offset="0.833" stop-color="#4097b7"/><stop offset="0.845" stop-color="#51aaaf"/><stop offset="0.857" stop-color="#68c3a5"/><stop offset="0.869" stop-color="#87cfa5"/><stop offset="0.881" stop-color="#a6dba4"/><stop offset="0.893" stop-color="#abdda4"/><stop offset="0.917" stop-color="#abdda4"/><stop offset="0.929" stop-color="#a6dba4"/><stop offset="0.940" stop-color="#9cd7a4"/><stop offset="0.952" stop-color="#91d3a4"/><stop offset="0.964" stop-color="#87cfa5"/><stop offset="0.976" stop-color="#7ccba5"/><stop offset="0.988" stop-color="#71c6a5"/><stop offset="1.000" stop-color="#66c2a5"/></linearGradient><linearGradient id="gd12" x1="0" y1="0" x2="0" y2="1"><stop offset="0.000" stop-color="#5e4fa2"/><stop offset="0.321" stop-color="#5e4fa2"/><stop offset="0.333" stop-color="#5c52a3"/><stop offset="0.345" stop-color="#5955a5"/><stop offset="0.357" stop-color="#5758a6"/><stop offset="0.369" stop-color="#555aa7"/><stop offset="0.440" stop-color="#555aa7"/><stop offset="0.452" stop-color="#545ca8"/><stop offset="0.464" stop-color="#525fa9"/><stop offset="0.476" stop-color="#5061ab"/><stop offset="0.488" stop-color="#4f63ab"/><stop offset="0.560" stop-color="#4f63ab"/><stop offset="0.571" stop-color="#496aaf"/><stop offset="0.583" stop-color="#4175b4"/><stop offset="0.595" stop-color="#3880b9"/><stop offset="0.607" stop-color="#4097b7"/><stop offset="0.619" stop-color="#71c6a5"/><stop offset="0.631" stop-color="#dff299"/><stop offset="0.643" stop-color="#ebf7a0"/><stop offset="0.655" stop-color="#def29a"/><stop offset="0.667" stop-color="#c4e79f"/><stop offset="0.679" stop-color="#b2e0a3"/><stop offset="0.690" stop-color="#9fd8a4"/><stop offset="0.702" stop-color="#8ad0a4"/><stop offset="0.714" stop-color="#76c8a5"/><stop offset="0.726" stop-color="#62bea7"/><stop offset="0.738" stop-color="#53acae"/><stop offset="0.750" stop-color="#439bb5"/><stop offset="0.762" stop-color="#348abc"/><stop offset="0.774" stop-color="#3880b9"/><stop offset="0.786" stop-color="#3e78b5"/><stop offset="0.798" stop-color="#456fb1"/><stop offset="0.810" stop-color="#4175b4"/><stop offset="0.821" stop-color="#3486bc"/><stop offset="0.833" stop-color="#4097b7"/><stop offset="0.845" stop-color="#51aaaf"/><stop offset="0.857" stop-color="#68c3a5"/><stop offset="0.869" stop-color="#87cfa5"/><stop offset="0.881" stop-color="#a6dba4"/><stop offset="0.893" stop-color="#abdda4"/><stop offset="0.917" stop-color="#abdda4"/><stop offset="0.929" stop-color="#a6dba4"/><stop offset="0.940" stop-color="#9cd7a4"/><stop offset="0.952" stop-color="#91d3a4"/><stop offset="0.964" stop-color="#85cea5"/><stop offset="0.976" stop-color="#6fc6a5"/><stop offset="0.988" stop-color="#5db7a9"/><stop offset="1.000" stop-color="#4ca5b1"/></linearGradient><linearGradient id="gd13" x1="0" y1="0" x2="0" y2="1"><stop offset="0.000" stop-color="#5e4fa2"/><stop offset="0.286" stop-color="#5e4fa2"/><stop offset="0.298" stop-color="#5b53a4"/><stop offset="0.310" stop-color="#5956a5"/><stop offset="0.321" stop-color="#565aa7"/><stop offset="0.333" stop-color="#555aa7"/><stop offset="0.440" stop-color="#555aa7"/><stop offset="0.452" stop-color="#545ca8"/><stop offset="0.464" stop-color="#525fa9"/><stop offset="0.476" stop-color="#5061ab"/><stop offset="0.488" stop-color="#4f63ab"/><stop offset="0.524" stop-color="#4f63ab"/><stop offset="0.536" stop-color="#496baf"/><stop offset="0.548" stop-color="#4372b3"/><stop offset="0.560" stop-color="#3d7ab6"/><stop offset="0.571" stop-color="#3d95b8"/><stop offset="0.583" stop-color="#60bba8"/><stop offset="0.595" stop-color="#8bd0a4"/><stop offset="0.607" stop-color="#aedea3"/><stop offset="0.619" stop-color="#c5e79f"/><stop offset="0.631" stop-color="#ebf7a0"/><stop offset="0.643" stop-color="#e8f69b"/><stop offset="0.655" stop-color="#b8e2a1"/><stop offset="0.667" stop-color="#a5dba4"/><stop offset="0.679" stop-color="#91d3a4"/><stop offset="0.690" stop-color="#76c8a5"/><stop offset="0.702" stop-color="#5bb6aa"/><stop offset="0.714" stop-color="#449cb5"/><stop offset="0.726" stop-color="#3288bd"/><stop offset="0.762" stop-color="#3288bd"/><stop offset="0.774" stop-color="#3880b9"/><stop offset="0.786" stop-color="#3e78b5"/><stop offset="0.798" stop-color="#456fb1"/><stop offset="0.810" stop-color="#4175b4"/><stop offset="0.821" stop-color="#3486bc"/><stop offset="0.833" stop-color="#4097b7"/><stop offset="0.845" stop-color="#51aaaf"/><stop offset="0.857" stop-color="#68c3a5"/><stop offset="0.869" stop-color="#87cfa5"/><stop offset="0.881" stop-color="#a6dba4"/><stop offset="0.893" stop-color="#abdda4"/><stop offset="0.917" stop-color="#abdda4"/><stop offset="0.929" stop-color="#a6dba4"/><stop offset="0.940" stop-color="#9cd7a4"/><stop offset="0.952" stop-color="#91d3a4"/><stop offset="0.964" stop-color="#85cea5"/><stop offset="0.976" stop-color="#6fc6a5"/><stop offset="0.988" stop-color="#5db7a9"/><stop offset="1.000" stop-color="#4ca5b1"/></linearGradient><linearGradient id="gd14" x1="0" y1="0" x2="0" y2="1"><stop offset="0.000" stop-color="#5e4fa2"/><stop offset="0.238" stop-color="#5e4fa2"/><stop offset="0.250" stop-color="#5d50a3"/><stop offset="0.262" stop-color="#5a54a4"/><stop offset="0.274" stop-color="#5857a6"/><stop offset="0.286" stop-color="#555aa7"/><stop offset="0.405" stop-color="#555aa7"/><stop offset="0.417" stop-color="#535da9"/><stop offset="0.429" stop-color="#5160aa"/><stop offset="0.440" stop-color="#4f62ab"/><stop offset="0.452" stop-color="#4c66ad"/><stop offset="0.464" stop-color="#486cb0"/><stop offset="0.476" stop-color="#4471b2"/><stop offset="0.488" stop-color="#4174b4"/><stop offset="0.524" stop-color="#4174b4"/><stop offset="0.536" stop-color="#3f77b5"/><stop offset="0.548" stop-color="#3d79b6"/><stop offset="0.560" stop-color="#3c7cb7"/><stop offset="0.571" stop-color="#3d95b8"/><stop offset="0.583" stop-color="#60bba8"/><stop offset="0.595" stop-color="#8bd0a4"/><stop offset="0.607" stop-color="#aedea3"/><stop offset="0.619" stop-color="#ebf7a0"/><stop offset="0.631" stop-color="#ebf79f"/><stop offset="0.643" stop-color="#c8e99e"/><stop offset="0.655" stop-color="#b8e2a1"/><stop offset="0.667" stop-color="#a5dba4"/><stop offset="0.679" stop-color="#91d3a4"/><stop offset="0.690" stop-color="#76c8a5"/><stop offset="0.702" stop-color="#5bb6aa"/><stop offset="0.714" stop-color="#449cb5"/><stop offset="0.726" stop-color="#3288bd"/><stop offset="0.762" stop-color="#3288bd"/><stop offset="0.774" stop-color="#3880b9"/><stop offset="0.786" stop-color="#3e78b5"/><stop offset="0.798" stop-color="#456fb1"/><stop offset="0.810" stop-color="#4175b4"/><stop offset="0.821" stop-color="#3486bc"/><stop offset="0.833" stop-color="#4097b7"/><stop offset="0.845" stop-color="#51aaaf"/><stop offset="0.857" stop-color="#68c3a5"/><stop offset="0.869" stop-color="#87cfa5"/><stop offset="0.881" stop-color="#a6dba4"/><stop offset="0.893" stop-color="#abdda4"/><stop offset="0.917" stop-color="#abdda4"/><stop offset="0.929" stop-color="#a6dba4"/><stop offset="0.940" stop-color="#9cd7a4"/><stop offset="0.952" stop-color="#91d3a4"/><stop offset="0.964" stop-color="#85cea5"/><stop offset="0.976" stop-color="#6fc6a5"/><stop offset="0.988" stop-color="#5db7a9"/><stop offset="1.000" stop-color="#4ca5b1"/></linearGradient><linearGradient id="gd15" x1="0" y1="0" x2="0" y2="1"><stop offset="0.000" stop-color="#5e4fa2"/><stop offset="0.202" stop-color="#5e4fa2"/><stop offset="0.214" stop-color="#5c52a3"/><stop offset="0.226" stop-color="#5955a5"/><stop offset="0.238" stop-color="#5758a6"/><stop offset="0.250" stop-color="#555aa7"/><stop offset="0.357" stop-color="#555aa7"/><stop offset="0.369" stop-color="#545ba8"/><stop offset="0.381" stop-color="#525ea9"/><stop offset="0.393" stop-color="#5060aa"/><stop offset="0.405" stop-color="#4f63ab"/><stop offset="0.440" stop-color="#4f63ab"/><stop offset="0.452" stop-color="#4c66ad"/><stop offset="0.464" stop-color="#486cb0"/><stop offset="0.476" stop-color="#4471b2"/><stop offset="0.488" stop-color="#4174b4"/><stop offset="0.524" stop-color="#4174b4"/><stop offset="0.536" stop-color="#3f77b5"/><stop offset="0.548" stop-color="#3d79b6"/><stop offset="0.560" stop-color="#3c7cb7"/><stop offset="0.571" stop-color="#47a0b3"/><stop offset="0.583" stop-color="#7fcca5"/><stop offset="0.595" stop-color="#bee5a0"/><stop offset="0.607" stop-color="#ebf7a0"/><stop offset="0.619" stop-color="#ebf7a0"/><stop offset="0.631" stop-color="#d3ed9c"/><stop offset="0.643" stop-color="#acdda4"/><stop offset="0.655" stop-color="#98d5a4"/><stop offset="0.667" stop-color="#83cda5"/><stop offset="0.679" stop-color="#6ec5a5"/><stop offset="0.690" stop-color="#5db8a9"/><stop offset="0.702" stop-color="#4da6b0"/><stop offset="0.714" stop-color="#3e95b8"/><stop offset="0.726" stop-color="#3486bc"/><stop offset="0.738" stop-color="#3a7db8"/><stop offset="0.750" stop-color="#4175b4"/><stop offset="0.762" stop-color="#476cb0"/><stop offset="0.774" stop-color="#4273b3"/><stop offset="0.786" stop-color="#3c7cb7"/><stop offset="0.798" stop-color="#3584bb"/><stop offset="0.810" stop-color="#368dbb"/><stop offset="0.821" stop-color="#3e95b7"/><stop offset="0.833" stop-color="#469eb4"/><stop offset="0.845" stop-color="#51aaaf"/><stop offset="0.857" stop-color="#68c3a5"/><stop offset="0.869" stop-color="#87cfa5"/><stop offset="0.881" stop-color="#a6dba4"/><stop offset="0.893" stop-color="#abdda4"/><stop offset="0.917" stop-color="#abdda4"/><stop offset="0.929" stop-color="#a6dba4"/><stop offset="0.940" stop-color="#9cd7a4"/><stop offset="0.952" stop-color="#91d3a4"/><stop offset="0.964" stop-color="#85cea5"/><stop offset="0.976" stop-color="#6fc6a5"/><stop offset="0.988" stop-color="#5db7a9"/><stop offset="1.000" stop-color="#4ca5b1"/></linearGradient><linearGradient id="gd16" x1="0" y1="0" x2="0" y2="1"><stop offset="0.000" stop-color="#5e4fa2"/><stop offset="0.202" stop-color="#5e4fa2"/><stop offset="0.214" stop-color="#5c52a3"/><stop offset="0.226" stop-color="#5955a5"/><stop offset="0.238" stop-color="#5758a6"/><stop offset="0.250" stop-color="#555aa7"/><stop offset="0.321" stop-color="#555aa7"/><stop offset="0.333" stop-color="#545ca8"/><stop offset="0.345" stop-color="#525faa"/><stop offset="0.357" stop-color="#5061ab"/><stop offset="0.369" stop-color="#4f63ab"/><stop offset="0.393" stop-color="#4f63ab"/><stop offset="0.405" stop-color="#4e63ac"/><stop offset="0.417" stop-color="#4b68ae"/><stop offset="0.429" stop-color="#476db0"/><stop offset="0.440" stop-color="#4372b3"/><stop offset="0.452" stop-color="#4076b4"/><stop offset="0.464" stop-color="#3e78b6"/><stop offset="0.476" stop-color="#3c7bb7"/><stop offset="0.488" stop-color="#3b7db8"/><stop offset="0.524" stop-color="#3b7db8"/><stop offset="0.536" stop-color="#3880b9"/><stop offset="0.548" stop-color="#3683bb"/><stop offset="0.560" stop-color="#3387bc"/><stop offset="0.571" stop-color="#50a9af"/><stop offset="0.583" stop-color="#bde5a0"/><stop offset="0.595" stop-color="#ebf7a0"/><stop offset="0.607" stop-color="#ebf7a0"/><stop offset="0.619" stop-color="#d7ef9b"/><stop offset="0.631" stop-color="#bee5a0"/><stop offset="0.643" stop-color="#acdda4"/><stop offset="0.655" stop-color="#98d5a4"/><stop offset="0.667" stop-color="#83cda5"/><stop offset="0.679" stop-color="#6ec5a5"/><stop offset="0.690" stop-color="#5db8a9"/><stop offset="0.702" stop-color="#4da6b0"/><stop offset="0.714" stop-color="#3e95b8"/><stop offset="0.726" stop-color="#3486bc"/><stop offset="0.738" stop-color="#3a7db8"/><stop offset="0.750" stop-color="#4175b4"/><stop offset="0.762" stop-color="#476cb0"/><stop offset="0.774" stop-color="#4273b3"/><stop offset="0.786" stop-color="#3c7cb7"/><stop offset="0.798" stop-color="#3584bb"/><stop offset="0.810" stop-color="#368dbb"/><stop offset="0.821" stop-color="#3e95b7"/><stop offset="0.833" stop-color="#469eb4"/><stop offset="0.845" stop-color="#55afad"/><stop offset="0.857" stop-color="#8dd1a4"/><stop offset="0.869" stop-color="#c7e89e"/><stop offset="0.881" stop-color="#eff9a6"/><stop offset="0.893" stop-color="#fcfeba"/><stop offset="0.905" stop-color="#fff5ae"/><stop offset="0.917" stop-color="#fee797"/><stop offset="0.929" stop-color="#fee593"/><stop offset="0.940" stop-color="#feeea2"/><stop offset="0.952" stop-color="#fff7b2"/><stop offset="0.964" stop-color="#fbfdb9"/><stop offset="0.976" stop-color="#d6ee9b"/><stop offset="0.988" stop-color="#90d3a4"/><stop offset="1.000" stop-color="#4ca5b1"/></linearGradient><linearGradient id="gd17" x1="0" y1="0" x2="0" y2="1"><stop offset="0.000" stop-color="#5e4fa2"/><stop offset="0.167" stop-color="#5e4fa2"/><stop offset="0.179" stop-color="#5b53a4"/><stop offset="0.190" stop-color="#5856a5"/><stop offset="0.202" stop-color="#565aa7"/><stop offset="0.214" stop-color="#555aa7"/><stop offset="0.274" stop-color="#555aa7"/><stop offset="0.286" stop-color="#555ba8"/><stop offset="0.298" stop-color="#535da9"/><stop offset="0.310" stop-color="#5160aa"/><stop offset="0.321" stop-color="#4f62ab"/><stop offset="0.333" stop-color="#4f63ab"/><stop offset="0.357" stop-color="#4f63ab"/><stop offset="0.369" stop-color="#4d65ac"/><stop offset="0.381" stop-color="#496aaf"/><stop offset="0.393" stop-color="#456fb1"/><stop offset="0.405" stop-color="#4174b4"/><stop offset="0.417" stop-color="#3f77b5"/><stop offset="0.429" stop-color="#3d79b6"/><stop offset="0.440" stop-color="#3b7cb7"/><stop offset="0.452" stop-color="#397fb9"/><stop offset="0.464" stop-color="#3682ba"/><stop offset="0.476" stop-color="#3486bc"/><stop offset="0.488" stop-color="#3387bc"/><stop offset="0.500" stop-color="#3683bb"/><stop offset="0.512" stop-color="#3880b9"/><stop offset="0.524" stop-color="#3b7db8"/><stop offset="0.536" stop-color="#51abaf"/><stop offset="0.548" stop-color="#82cda5"/><stop offset="0.560" stop-color="#b7e2a1"/><stop offset="0.571" stop-color="#d6ee9b"/><stop offset="0.583" stop-color="#ebf7a0"/><stop offset="0.595" stop-color="#ebf7a0"/><stop offset="0.607" stop-color="#ccea9d"/><stop offset="0.619" stop-color="#a6dba4"/><stop offset="0.631" stop-color="#87cfa5"/><stop offset="0.643" stop-color="#68c3a5"/><stop offset="0.655" stop-color="#5fbaa8"/><stop offset="0.667" stop-color="#57b1ac"/><stop offset="0.679" stop-color="#4fa9b0"/><stop offset="0.690" stop-color="#47a0b3"/><stop offset="0.702" stop-color="#4097b7"/><stop offset="0.714" stop-color="#388fba"/><stop offset="0.726" stop-color="#3288bd"/><stop offset="0.798" stop-color="#3288bd"/><stop offset="0.810" stop-color="#3f96b7"/><stop offset="0.821" stop-color="#56b0ac"/><stop offset="0.833" stop-color="#70c6a5"/><stop offset="0.845" stop-color="#9bd7a4"/><stop offset="0.857" stop-color="#e9f69c"/><stop offset="0.869" stop-color="#fff1a8"/><stop offset="0.881" stop-color="#fdb86a"/><stop offset="0.893" stop-color="#fdae61"/><stop offset="0.917" stop-color="#fdae61"/><stop offset="0.929" stop-color="#fdb96a"/><stop offset="0.940" stop-color="#fed07d"/><stop offset="0.952" stop-color="#fee491"/><stop offset="0.964" stop-color="#fff5af"/><stop offset="0.976" stop-color="#e7f59a"/><stop offset="0.988" stop-color="#9bd7a4"/><stop offset="1.000" stop-color="#4ca5b1"/></linearGradient><linearGradient id="gd18" x1="0" y1="0" x2="0" y2="1"><stop offset="0.000" stop-color="#5e4fa2"/><stop offset="0.167" stop-color="#5e4fa2"/><stop offset="0.179" stop-color="#5b53a4"/><stop offset="0.190" stop-color="#5856a5"/><stop offset="0.202" stop-color="#565aa7"/><stop offset="0.214" stop-color="#555aa7"/><stop offset="0.238" stop-color="#555aa7"/><stop offset="0.250" stop-color="#545ca8"/><stop offset="0.262" stop-color="#525ea9"/><stop offset="0.274" stop-color="#5061aa"/><stop offset="0.286" stop-color="#4f63ab"/><stop offset="0.321" stop-color="#4f63ab"/><stop offset="0.333" stop-color="#4c67ad"/><stop offset="0.345" stop-color="#486cb0"/><stop offset="0.357" stop-color="#4471b2"/><stop offset="0.369" stop-color="#4175b4"/><stop offset="0.381" stop-color="#3f78b5"/><stop offset="0.393" stop-color="#3d7ab6"/><stop offset="0.405" stop-color="#3b7db8"/><stop offset="0.417" stop-color="#3880b9"/><stop offset="0.429" stop-color="#3584bb"/><stop offset="0.440" stop-color="#3387bc"/><stop offset="0.452" stop-color="#378ebb"/><stop offset="0.464" stop-color="#3f97b7"/><stop offset="0.476" stop-color="#479fb3"/><stop offset="0.488" stop-color="#49a2b2"/><stop offset="0.500" stop-color="#4299b6"/><stop offset="0.512" stop-color="#3a91b9"/><stop offset="0.524" stop-color="#3288bd"/><stop offset="0.536" stop-color="#60bba8"/><stop offset="0.548" stop-color="#9cd7a4"/><stop offset="0.560" stop-color="#eaf79e"/><stop offset="0.571" stop-color="#ebf7a0"/><stop offset="0.583" stop-color="#eaf79e"/><stop offset="0.595" stop-color="#bae3a1"/><stop offset="0.607" stop-color="#a5dba4"/><stop offset="0.619" stop-color="#90d3a4"/><stop offset="0.631" stop-color="#7ccba5"/><stop offset="0.643" stop-color="#67c2a5"/><stop offset="0.655" stop-color="#5fbaa8"/><stop offset="0.667" stop-color="#57b1ac"/><stop offset="0.679" stop-color="#4fa9b0"/><stop offset="0.690" stop-color="#47a0b3"/><stop offset="0.702" stop-color="#4097b7"/><stop offset="0.714" stop-color="#388fba"/><stop offset="0.726" stop-color="#3288bd"/><stop offset="0.798" stop-color="#3288bd"/><stop offset="0.810" stop-color="#3f96b7"/><stop offset="0.821" stop-color="#56b0ac"/><stop offset="0.833" stop-color="#70c6a5"/><stop offset="0.845" stop-color="#99d6a4"/><stop offset="0.857" stop-color="#e2f399"/><stop offset="0.869" stop-color="#fffbb9"/><stop offset="0.881" stop-color="#fed07e"/><stop offset="0.893" stop-color="#fec776"/><stop offset="0.917" stop-color="#fec776"/><stop offset="0.929" stop-color="#fed27f"/><stop offset="0.940" stop-color="#fee594"/><stop offset="0.952" stop-color="#fff3ab"/><stop offset="0.964" stop-color="#fbfdb9"/><stop offset="0.976" stop-color="#d6ee9b"/><stop offset="0.988" stop-color="#90d3a4"/><stop offset="1.000" stop-color="#4ca5b1"/></linearGradient><linearGradient id="gd19" x1="0" y1="0" x2="0" y2="1"><stop offset="0.000" stop-color="#5e4fa2"/><stop offset="0.167" stop-color="#5e4fa2"/><stop offset="0.179" stop-color="#5b53a4"/><stop offset="0.190" stop-color="#5856a5"/><stop offset="0.202" stop-color="#565aa7"/><stop offset="0.214" stop-color="#545ca8"/><stop offset="0.226" stop-color="#525faa"/><stop offset="0.238" stop-color="#5062ab"/><stop offset="0.250" stop-color="#4f63ab"/><stop offset="0.274" stop-color="#4f63ab"/><stop offset="0.286" stop-color="#4e63ac"/><stop offset="0.298" stop-color="#4a68ae"/><stop offset="0.310" stop-color="#466eb0"/><stop offset="0.321" stop-color="#4273b3"/><stop offset="0.333" stop-color="#4076b4"/><stop offset="0.345" stop-color="#3e78b6"/><stop offset="0.357" stop-color="#3c7bb7"/><stop offset="0.369" stop-color="#3a7eb8"/><stop offset="0.381" stop-color="#3781ba"/><stop offset="0.393" stop-color="#3585bb"/><stop offset="0.405" stop-color="#3288bd"/><stop offset="0.417" stop-color="#3a91b9"/><stop offset="0.429" stop-color="#429ab6"/><stop offset="0.440" stop-color="#4aa2b2"/><stop offset="0.452" stop-color="#51abaf"/><stop offset="0.464" stop-color="#59b4ab"/><stop offset="0.476" stop-color="#61bca7"/><stop offset="0.488" stop-color="#63bfa6"/><stop offset="0.500" stop-color="#5cb6aa"/><stop offset="0.512" stop-color="#54aead"/><stop offset="0.524" stop-color="#4ca5b1"/><stop offset="0.536" stop-color="#c6e89e"/><stop offset="0.548" stop-color="#ebf7a0"/><stop offset="0.560" stop-color="#ebf7a0"/><stop offset="0.571" stop-color="#e4f498"/><stop offset="0.583" stop-color="#acdda4"/><stop offset="0.595" stop-color="#97d5a4"/><stop offset="0.607" stop-color="#82cda5"/><stop offset="0.619" stop-color="#6ec5a5"/><stop offset="0.631" stop-color="#5cb7a9"/><stop offset="0.643" stop-color="#4da6b1"/><stop offset="0.655" stop-color="#4ca5b1"/><stop offset="0.679" stop-color="#4ca5b1"/><stop offset="0.690" stop-color="#47a0b3"/><stop offset="0.702" stop-color="#4097b7"/><stop offset="0.714" stop-color="#388fba"/><stop offset="0.726" stop-color="#3288bd"/><stop offset="0.798" stop-color="#3288bd"/><stop offset="0.810" stop-color="#3a91b9"/><stop offset="0.821" stop-color="#4aa3b2"/><stop offset="0.833" stop-color="#5ab4ab"/><stop offset="0.845" stop-color="#70c6a5"/><stop offset="0.857" stop-color="#a4daa4"/><stop offset="0.869" stop-color="#d1ec9c"/><stop offset="0.881" stop-color="#f0f9a7"/><stop offset="0.893" stop-color="#f6fbb0"/><stop offset="0.905" stop-color="#f9fdb6"/><stop offset="0.917" stop-color="#fdfebc"/><stop offset="0.929" stop-color="#fbfeb9"/><stop offset="0.940" stop-color="#f4fbae"/><stop offset="0.952" stop-color="#ecf8a2"/><stop offset="0.964" stop-color="#dff299"/><stop offset="0.976" stop-color="#b0dfa3"/><stop offset="0.988" stop-color="#7acaa5"/><stop offset="1.000" stop-color="#4ca5b1"/></linearGradient><linearGradient id="gd20" x1="0" y1="0" x2="0" y2="1"><stop offset="0.000" stop-color="#5e4fa2"/><stop offset="0.167" stop-color="#5e4fa2"/><stop offset="0.179" stop-color="#5b53a4"/><stop offset="0.190" stop-color="#5856a5"/><stop offset="0.202" stop-color="#565aa7"/><stop offset="0.214" stop-color="#545ca8"/><stop offset="0.226" stop-color="#525faa"/><stop offset="0.238" stop-color="#5062ab"/><stop offset="0.250" stop-color="#4d65ad"/><stop offset="0.262" stop-color="#496aaf"/><stop offset="0.274" stop-color="#456fb1"/><stop offset="0.286" stop-color="#4174b4"/><stop offset="0.298" stop-color="#3f77b5"/><stop offset="0.310" stop-color="#3d79b6"/><stop offset="0.321" stop-color="#3b7cb7"/><stop offset="0.333" stop-color="#397fb9"/><stop offset="0.345" stop-color="#3683ba"/><stop offset="0.357" stop-color="#3486bc"/><stop offset="0.369" stop-color="#358bbc"/><stop offset="0.381" stop-color="#3d94b8"/><stop offset="0.393" stop-color="#459db4"/><stop offset="0.405" stop-color="#4da6b1"/><stop offset="0.417" stop-color="#5cb7aa"/><stop offset="0.429" stop-color="#6dc5a5"/><stop offset="0.440" stop-color="#82cda5"/><stop offset="0.452" stop-color="#90d2a4"/><stop offset="0.464" stop-color="#9ad6a4"/><stop offset="0.476" stop-color="#a4daa4"/><stop offset="0.488" stop-color="#a8dca4"/><stop offset="0.500" stop-color="#9dd8a4"/><stop offset="0.512" stop-color="#b6e2a2"/><stop offset="0.524" stop-color="#ebf7a0"/><stop offset="0.548" stop-color="#ebf7a0"/><stop offset="0.560" stop-color="#c8e99e"/><stop offset="0.571" stop-color="#9ed8a4"/><stop offset="0.583" stop-color="#89d0a4"/><stop offset="0.595" stop-color="#75c8a5"/><stop offset="0.607" stop-color="#64bfa6"/><stop offset="0.619" stop-color="#5cb7aa"/><stop offset="0.631" stop-color="#54aead"/><stop offset="0.643" stop-color="#4ca5b1"/><stop offset="0.679" stop-color="#4ca5b1"/><stop offset="0.690" stop-color="#47a0b3"/><stop offset="0.702" stop-color="#4097b7"/><stop offset="0.714" stop-color="#388fba"/><stop offset="0.726" stop-color="#3288bd"/><stop offset="0.798" stop-color="#3288bd"/><stop offset="0.810" stop-color="#3a91b9"/><stop offset="0.821" stop-color="#4aa3b2"/><stop offset="0.833" stop-color="#5ab4ab"/><stop offset="0.845" stop-color="#6ac4a5"/><stop offset="0.857" stop-color="#7fcca5"/><stop offset="0.869" stop-color="#93d4a4"/><stop offset="0.881" stop-color="#a8dca4"/><stop offset="0.893" stop-color="#abdda4"/><stop offset="0.917" stop-color="#abdda4"/><stop offset="0.929" stop-color="#a1d9a4"/><stop offset="0.940" stop-color="#8cd1a4"/><stop offset="0.952" stop-color="#78c9a5"/><stop offset="0.964" stop-color="#65c1a6"/><stop offset="0.976" stop-color="#5db7a9"/><stop offset="0.988" stop-color="#54aead"/><stop offset="1.000" stop-color="#4ca5b1"/></linearGradient><linearGradient id="gd21" x1="0" y1="0" x2="0" y2="1"><stop offset="0.000" stop-color="#555aa7"/><stop offset="0.202" stop-color="#555aa7"/><stop offset="0.214" stop-color="#545ca8"/><stop offset="0.226" stop-color="#525faa"/><stop offset="0.238" stop-color="#5062ab"/><stop offset="0.250" stop-color="#4f63ab"/><stop offset="0.274" stop-color="#4f63ab"/><stop offset="0.286" stop-color="#4e63ac"/><stop offset="0.298" stop-color="#4a68ae"/><stop offset="0.310" stop-color="#466eb0"/><stop offset="0.321" stop-color="#4273b3"/><stop offset="0.333" stop-color="#4076b4"/><stop offset="0.345" stop-color="#3e78b6"/><stop offset="0.357" stop-color="#3c7bb7"/><stop offset="0.369" stop-color="#3781ba"/><stop offset="0.381" stop-color="#378dbb"/><stop offset="0.393" stop-color="#4299b6"/><stop offset="0.405" stop-color="#4da6b1"/><stop offset="0.417" stop-color="#64c0a6"/><stop offset="0.429" stop-color="#82cda5"/><stop offset="0.440" stop-color="#a1d9a4"/><stop offset="0.452" stop-color="#b1dfa3"/><stop offset="0.464" stop-color="#bae3a1"/><stop offset="0.476" stop-color="#c3e79f"/><stop offset="0.488" stop-color="#c6e89f"/><stop offset="0.500" stop-color="#ebf7a0"/><stop offset="0.524" stop-color="#ebf7a0"/><stop offset="0.536" stop-color="#d8ef9b"/><stop offset="0.548" stop-color="#96d5a4"/><stop offset="0.560" stop-color="#8cd1a4"/><stop offset="0.571" stop-color="#82cda5"/><stop offset="0.583" stop-color="#78c9a5"/><stop offset="0.595" stop-color="#6dc5a5"/><stop offset="0.607" stop-color="#66c2a5"/><stop offset="0.643" stop-color="#66c2a5"/><stop offset="0.655" stop-color="#79caa5"/><stop offset="0.667" stop-color="#8ed2a4"/><stop offset="0.679" stop-color="#a3daa4"/><stop offset="0.690" stop-color="#abdda4"/><stop offset="0.714" stop-color="#abdda4"/><stop offset="0.726" stop-color="#a8dca4"/><stop offset="0.738" stop-color="#9ed8a4"/><stop offset="0.750" stop-color="#94d4a4"/><stop offset="0.762" stop-color="#8ad0a4"/><stop offset="0.774" stop-color="#7fcca5"/><stop offset="0.786" stop-color="#75c8a5"/><stop offset="0.798" stop-color="#6bc4a5"/><stop offset="0.810" stop-color="#66c2a5"/><stop offset="0.881" stop-color="#66c2a5"/><stop offset="0.893" stop-color="#5fbba8"/><stop offset="0.905" stop-color="#58b2ac"/><stop offset="0.917" stop-color="#50a9af"/><stop offset="0.929" stop-color="#48a1b3"/><stop offset="0.940" stop-color="#4098b6"/><stop offset="0.952" stop-color="#398fba"/><stop offset="0.964" stop-color="#3288bd"/><stop offset="1.000" stop-color="#3288bd"/></linearGradient><linearGradient id="gd22" x1="0" y1="0" x2="0" y2="1"><stop offset="0.000" stop-color="#555aa7"/><stop offset="0.155" stop-color="#555aa7"/><stop offset="0.167" stop-color="#555ba8"/><stop offset="0.179" stop-color="#535da9"/><stop offset="0.190" stop-color="#5160aa"/><stop offset="0.202" stop-color="#4f62ab"/><stop offset="0.214" stop-color="#4f63ab"/><stop offset="0.238" stop-color="#4f63ab"/><stop offset="0.250" stop-color="#4d65ad"/><stop offset="0.262" stop-color="#496aaf"/><stop offset="0.274" stop-color="#456fb1"/><stop offset="0.286" stop-color="#4174b4"/><stop offset="0.298" stop-color="#3f77b5"/><stop offset="0.310" stop-color="#3d79b6"/><stop offset="0.321" stop-color="#3b7cb7"/><stop offset="0.333" stop-color="#397fb9"/><stop offset="0.345" stop-color="#3683ba"/><stop offset="0.357" stop-color="#3486bc"/><stop offset="0.369" stop-color="#388fba"/><stop offset="0.381" stop-color="#48a0b3"/><stop offset="0.393" stop-color="#57b1ac"/><stop offset="0.405" stop-color="#67c2a5"/><stop offset="0.417" stop-color="#86cfa5"/><stop offset="0.429" stop-color="#a5dba4"/><stop offset="0.440" stop-color="#c0e6a0"/><stop offset="0.452" stop-color="#cfeb9d"/><stop offset="0.464" stop-color="#e8f69b"/><stop offset="0.476" stop-color="#ebf7a0"/><stop offset="0.500" stop-color="#ebf7a0"/><stop offset="0.512" stop-color="#d5ee9b"/><stop offset="0.524" stop-color="#c9e99e"/><stop offset="0.536" stop-color="#c0e5a0"/><stop offset="0.548" stop-color="#b7e2a2"/><stop offset="0.560" stop-color="#aedea3"/><stop offset="0.571" stop-color="#a4daa4"/><stop offset="0.583" stop-color="#9ad6a4"/><stop offset="0.595" stop-color="#90d2a4"/><stop offset="0.607" stop-color="#85cea5"/><stop offset="0.619" stop-color="#7bcaa5"/><stop offset="0.631" stop-color="#71c6a5"/><stop offset="0.643" stop-color="#67c2a5"/><stop offset="0.655" stop-color="#79caa5"/><stop offset="0.667" stop-color="#8ed2a4"/><stop offset="0.679" stop-color="#a3daa4"/><stop offset="0.690" stop-color="#b0dfa3"/><stop offset="0.702" stop-color="#b9e3a1"/><stop offset="0.714" stop-color="#c2e69f"/><stop offset="0.726" stop-color="#cbea9e"/><stop offset="0.738" stop-color="#d3ed9c"/><stop offset="0.750" stop-color="#dcf19a"/><stop offset="0.762" stop-color="#e5f598"/><stop offset="0.774" stop-color="#edf8a2"/><stop offset="0.786" stop-color="#f4fbae"/><stop offset="0.798" stop-color="#fcfeba"/><stop offset="0.810" stop-color="#fff5ae"/><stop offset="0.821" stop-color="#fee28f"/><stop offset="0.833" stop-color="#fdc675"/><stop offset="0.845" stop-color="#fdac60"/><stop offset="0.857" stop-color="#fba25c"/><stop offset="0.869" stop-color="#fa9957"/><stop offset="0.881" stop-color="#f98f53"/><stop offset="0.893" stop-color="#fca65d"/><stop offset="0.905" stop-color="#fdbe6f"/><stop offset="0.917" stop-color="#fed582"/><stop offset="0.929" stop-color="#fee593"/><stop offset="0.940" stop-color="#feeea2"/><stop offset="0.952" stop-color="#fff7b2"/><stop offset="0.964" stop-color="#fdfebc"/><stop offset="0.976" stop-color="#f1faaa"/><stop offset="0.988" stop-color="#e5f498"/><stop offset="1.000" stop-color="#c8e99e"/></linearGradient><linearGradient id="gd23" x1="0" y1="0" x2="0" y2="1"><stop offset="0.000" stop-color="#555aa7"/><stop offset="0.119" stop-color="#555aa7"/><stop offset="0.131" stop-color="#545ca8"/><stop offset="0.143" stop-color="#525ea9"/><stop offset="0.155" stop-color="#5061aa"/><stop offset="0.167" stop-color="#4f63ab"/><stop offset="0.202" stop-color="#4f63ab"/><stop offset="0.214" stop-color="#4c67ad"/><stop offset="0.226" stop-color="#486cb0"/><stop offset="0.238" stop-color="#4471b2"/><stop offset="0.250" stop-color="#4175b4"/><stop offset="0.262" stop-color="#3f78b5"/><stop offset="0.274" stop-color="#3d7ab6"/><stop offset="0.286" stop-color="#3b7db8"/><stop offset="0.298" stop-color="#3880b9"/><stop offset="0.310" stop-color="#3584bb"/><stop offset="0.321" stop-color="#3387bd"/><stop offset="0.333" stop-color="#388eba"/><stop offset="0.345" stop-color="#3f97b7"/><stop offset="0.357" stop-color="#47a0b3"/><stop offset="0.369" stop-color="#52acae"/><stop offset="0.381" stop-color="#62bda7"/><stop offset="0.393" stop-color="#75c8a5"/><stop offset="0.405" stop-color="#8ad0a4"/><stop offset="0.417" stop-color="#a9dca4"/><stop offset="0.429" stop-color="#eaf79e"/><stop offset="0.440" stop-color="#ebf7a0"/><stop offset="0.464" stop-color="#ebf7a0"/><stop offset="0.476" stop-color="#e9f69d"/><stop offset="0.488" stop-color="#ddf19a"/><stop offset="0.500" stop-color="#c3e79f"/><stop offset="0.512" stop-color="#a8dca4"/><stop offset="0.524" stop-color="#89d0a4"/><stop offset="0.536" stop-color="#6ac4a5"/><stop offset="0.548" stop-color="#52abae"/><stop offset="0.560" stop-color="#3a91b9"/><stop offset="0.571" stop-color="#3288bd"/><stop offset="0.595" stop-color="#3288bd"/><stop offset="0.607" stop-color="#378dbb"/><stop offset="0.619" stop-color="#469eb4"/><stop offset="0.631" stop-color="#56b0ad"/><stop offset="0.643" stop-color="#65c1a5"/><stop offset="0.655" stop-color="#79caa5"/><stop offset="0.667" stop-color="#8ed2a4"/><stop offset="0.679" stop-color="#a3daa4"/><stop offset="0.690" stop-color="#b0dfa3"/><stop offset="0.702" stop-color="#b9e3a1"/><stop offset="0.714" stop-color="#c2e69f"/><stop offset="0.726" stop-color="#cdeb9d"/><stop offset="0.738" stop-color="#def29a"/><stop offset="0.750" stop-color="#eaf79f"/><stop offset="0.762" stop-color="#f2faaa"/><stop offset="0.774" stop-color="#fffab6"/><stop offset="0.786" stop-color="#fee38f"/><stop offset="0.798" stop-color="#fdbf6f"/><stop offset="0.810" stop-color="#fb9e5a"/><stop offset="0.821" stop-color="#f7814c"/><stop offset="0.833" stop-color="#f06645"/><stop offset="0.845" stop-color="#e2514a"/><stop offset="0.857" stop-color="#d33c4f"/><stop offset="0.869" stop-color="#ba2149"/><stop offset="0.881" stop-color="#a20543"/><stop offset="0.893" stop-color="#a50944"/><stop offset="0.905" stop-color="#ad1246"/><stop offset="0.917" stop-color="#b51b48"/><stop offset="0.929" stop-color="#c2294a"/><stop offset="0.940" stop-color="#d23b4e"/><stop offset="0.952" stop-color="#dd4a4c"/><stop offset="0.964" stop-color="#e75948"/><stop offset="0.976" stop-color="#f47044"/><stop offset="0.988" stop-color="#f98f53"/><stop offset="1.000" stop-color="#fdae61"/></linearGradient><linearGradient id="gd24" x1="0" y1="0" x2="0" y2="1"><stop offset="0.000" stop-color="#555aa7"/><stop offset="0.083" stop-color="#555aa7"/><stop offset="0.095" stop-color="#545da8"/><stop offset="0.107" stop-color="#525faa"/><stop offset="0.119" stop-color="#5062ab"/><stop offset="0.131" stop-color="#4f63ab"/><stop offset="0.155" stop-color="#4f63ab"/><stop offset="0.167" stop-color="#4e64ac"/><stop offset="0.179" stop-color="#4a69ae"/><stop offset="0.190" stop-color="#466eb1"/><stop offset="0.202" stop-color="#4273b3"/><stop offset="0.214" stop-color="#4076b4"/><stop offset="0.226" stop-color="#3e79b6"/><stop offset="0.238" stop-color="#3c7bb7"/><stop offset="0.250" stop-color="#3a7eb8"/><stop offset="0.262" stop-color="#3781ba"/><stop offset="0.274" stop-color="#3485bc"/><stop offset="0.286" stop-color="#3389bd"/><stop offset="0.298" stop-color="#3a91b9"/><stop offset="0.310" stop-color="#429ab6"/><stop offset="0.321" stop-color="#4aa3b2"/><stop offset="0.333" stop-color="#52abae"/><stop offset="0.345" stop-color="#59b4ab"/><stop offset="0.357" stop-color="#61bda7"/><stop offset="0.369" stop-color="#6ec5a5"/><stop offset="0.381" stop-color="#bfe5a0"/><stop offset="0.393" stop-color="#ebf7a0"/><stop offset="0.429" stop-color="#ebf7a0"/><stop offset="0.440" stop-color="#eaf69e"/><stop offset="0.452" stop-color="#e6f598"/><stop offset="0.476" stop-color="#e6f598"/><stop offset="0.488" stop-color="#e7f69a"/><stop offset="0.500" stop-color="#ebf7a0"/><stop offset="0.512" stop-color="#eff8a6"/><stop offset="0.524" stop-color="#f2faab"/><stop offset="0.536" stop-color="#eff9a6"/><stop offset="0.548" stop-color="#ebf7a0"/><stop offset="0.560" stop-color="#e7f69a"/><stop offset="0.571" stop-color="#e0f399"/><stop offset="0.583" stop-color="#d8ef9b"/><stop offset="0.595" stop-color="#cfec9d"/><stop offset="0.607" stop-color="#c6e89f"/><stop offset="0.619" stop-color="#bde4a0"/><stop offset="0.631" stop-color="#b4e1a2"/><stop offset="0.643" stop-color="#acdda4"/><stop offset="0.655" stop-color="#bce4a1"/><stop offset="0.667" stop-color="#cdeb9d"/><stop offset="0.679" stop-color="#dff299"/><stop offset="0.690" stop-color="#e1f399"/><stop offset="0.702" stop-color="#d8ef9b"/><stop offset="0.714" stop-color="#cfec9d"/><stop offset="0.726" stop-color="#cdeb9d"/><stop offset="0.738" stop-color="#def29a"/><stop offset="0.750" stop-color="#eaf79f"/><stop offset="0.762" stop-color="#f2faaa"/><stop offset="0.774" stop-color="#fdfebb"/><stop offset="0.786" stop-color="#fff4ad"/><stop offset="0.798" stop-color="#fee696"/><stop offset="0.810" stop-color="#fed481"/><stop offset="0.821" stop-color="#fdbd6e"/><stop offset="0.833" stop-color="#fca55d"/><stop offset="0.845" stop-color="#f88a50"/><stop offset="0.857" stop-color="#f57647"/><stop offset="0.869" stop-color="#ef6645"/><stop offset="0.881" stop-color="#e65848"/><stop offset="0.893" stop-color="#ec6146"/><stop offset="0.905" stop-color="#f47045"/><stop offset="0.917" stop-color="#f7844e"/><stop offset="0.929" stop-color="#fba15b"/><stop offset="0.940" stop-color="#fdc272"/><stop offset="0.952" stop-color="#fee08b"/><stop offset="0.964" stop-color="#fff0a6"/><stop offset="0.976" stop-color="#fff5ae"/><stop offset="0.988" stop-color="#fffab7"/><stop offset="1.000" stop-color="#ffffbf"/></linearGradient><linearGradient id="gd25" x1="0" y1="0" x2="0" y2="1"><stop offset="0.000" stop-color="#555aa7"/><stop offset="0.036" stop-color="#555aa7"/><stop offset="0.048" stop-color="#555ba8"/><stop offset="0.060" stop-color="#535da9"/><stop offset="0.071" stop-color="#5160aa"/><stop offset="0.083" stop-color="#4f63ab"/><stop offset="0.119" stop-color="#4f63ab"/><stop offset="0.131" stop-color="#4c67ad"/><stop offset="0.143" stop-color="#466eb1"/><stop offset="0.155" stop-color="#4076b4"/><stop offset="0.167" stop-color="#3b7db8"/><stop offset="0.202" stop-color="#3b7db8"/><stop offset="0.214" stop-color="#397fb9"/><stop offset="0.226" stop-color="#3683ba"/><stop offset="0.238" stop-color="#3386bc"/><stop offset="0.250" stop-color="#358cbb"/><stop offset="0.262" stop-color="#3d94b8"/><stop offset="0.274" stop-color="#459db4"/><stop offset="0.286" stop-color="#4da6b1"/><stop offset="0.298" stop-color="#54aead"/><stop offset="0.310" stop-color="#5cb7aa"/><stop offset="0.321" stop-color="#64c0a6"/><stop offset="0.333" stop-color="#b0dfa3"/><stop offset="0.345" stop-color="#ebf7a0"/><stop offset="0.393" stop-color="#ebf7a0"/><stop offset="0.405" stop-color="#e1f399"/><stop offset="0.417" stop-color="#d2ed9c"/><stop offset="0.429" stop-color="#daf09a"/><stop offset="0.440" stop-color="#e3f499"/><stop offset="0.452" stop-color="#e6f598"/><stop offset="0.476" stop-color="#e6f598"/><stop offset="0.488" stop-color="#e0f399"/><stop offset="0.500" stop-color="#ceeb9d"/><stop offset="0.512" stop-color="#bde4a0"/><stop offset="0.524" stop-color="#abdda4"/><stop offset="0.536" stop-color="#a1d9a4"/><stop offset="0.548" stop-color="#96d5a4"/><stop offset="0.560" stop-color="#8cd1a4"/><stop offset="0.571" stop-color="#82cda5"/><stop offset="0.583" stop-color="#78c9a5"/><stop offset="0.595" stop-color="#6dc5a5"/><stop offset="0.607" stop-color="#6cc4a5"/><stop offset="0.619" stop-color="#81cca5"/><stop offset="0.631" stop-color="#95d4a4"/><stop offset="0.643" stop-color="#aadda4"/><stop offset="0.655" stop-color="#b3e0a2"/><stop offset="0.667" stop-color="#bce4a1"/><stop offset="0.679" stop-color="#c5e89f"/><stop offset="0.690" stop-color="#ceeb9d"/><stop offset="0.702" stop-color="#d7ef9b"/><stop offset="0.714" stop-color="#dff299"/><stop offset="0.726" stop-color="#e4f498"/><stop offset="0.738" stop-color="#dbf19a"/><stop offset="0.750" stop-color="#d2ed9c"/><stop offset="0.762" stop-color="#c9e99e"/><stop offset="0.774" stop-color="#d8ef9b"/><stop offset="0.786" stop-color="#e8f69b"/><stop offset="0.798" stop-color="#eff9a6"/><stop offset="0.810" stop-color="#f5fbaf"/><stop offset="0.821" stop-color="#f8fcb4"/><stop offset="0.833" stop-color="#fcfeba"/><stop offset="0.845" stop-color="#fefebd"/><stop offset="0.857" stop-color="#f6fbb1"/><stop offset="0.869" stop-color="#eff8a5"/><stop offset="0.881" stop-color="#e7f59a"/><stop offset="0.893" stop-color="#d0ec9d"/><stop offset="0.905" stop-color="#b5e1a2"/><stop offset="0.917" stop-color="#98d6a4"/><stop offset="0.929" stop-color="#7ecba5"/><stop offset="0.940" stop-color="#6ac3a5"/><stop offset="0.952" stop-color="#59b4ab"/><stop offset="0.964" stop-color="#4ba4b2"/><stop offset="0.976" stop-color="#439ab5"/><stop offset="0.988" stop-color="#3a91b9"/><stop offset="1.000" stop-color="#3288bd"/></linearGradient><linearGradient id="gd26" x1="0" y1="0" x2="0" y2="1"><stop offset="0.000" stop-color="#555aa7"/><stop offset="0.036" stop-color="#555aa7"/><stop offset="0.048" stop-color="#555ba8"/><stop offset="0.060" stop-color="#535da9"/><stop offset="0.071" stop-color="#5160aa"/><stop offset="0.083" stop-color="#4f63ab"/><stop offset="0.095" stop-color="#4b67ad"/><stop offset="0.107" stop-color="#476cb0"/><stop offset="0.119" stop-color="#4371b2"/><stop offset="0.131" stop-color="#4075b4"/><stop offset="0.143" stop-color="#3e78b5"/><stop offset="0.155" stop-color="#3d7ab7"/><stop offset="0.167" stop-color="#3b7db8"/><stop offset="0.202" stop-color="#3b7db8"/><stop offset="0.214" stop-color="#3486bc"/><stop offset="0.226" stop-color="#3b92b9"/><stop offset="0.238" stop-color="#469eb4"/><stop offset="0.250" stop-color="#4fa9af"/><stop offset="0.262" stop-color="#57b1ac"/><stop offset="0.274" stop-color="#ceeb9d"/><stop offset="0.286" stop-color="#ebf7a0"/><stop offset="0.345" stop-color="#ebf7a0"/><stop offset="0.357" stop-color="#e8f69c"/><stop offset="0.369" stop-color="#afdea3"/><stop offset="0.381" stop-color="#97d5a4"/><stop offset="0.393" stop-color="#a1d9a4"/><stop offset="0.405" stop-color="#acdda4"/><stop offset="0.417" stop-color="#c6e89e"/><stop offset="0.429" stop-color="#e1f399"/><stop offset="0.440" stop-color="#eff9a6"/><stop offset="0.452" stop-color="#f2faac"/><stop offset="0.476" stop-color="#f2faac"/><stop offset="0.488" stop-color="#eff8a6"/><stop offset="0.500" stop-color="#e0f399"/><stop offset="0.512" stop-color="#c6e89f"/><stop offset="0.524" stop-color="#abdda4"/><stop offset="0.536" stop-color="#97d5a4"/><stop offset="0.548" stop-color="#82cda5"/><stop offset="0.560" stop-color="#6dc5a5"/><stop offset="0.571" stop-color="#61bca7"/><stop offset="0.583" stop-color="#59b4ab"/><stop offset="0.595" stop-color="#51abae"/><stop offset="0.607" stop-color="#4ea8b0"/><stop offset="0.619" stop-color="#56b0ac"/><stop offset="0.631" stop-color="#5eb9a9"/><stop offset="0.643" stop-color="#66c2a5"/><stop offset="0.655" stop-color="#5fbaa8"/><stop offset="0.667" stop-color="#57b1ac"/><stop offset="0.679" stop-color="#4fa9b0"/><stop offset="0.690" stop-color="#81cca5"/><stop offset="0.702" stop-color="#dff299"/><stop offset="0.714" stop-color="#fff3ac"/><stop offset="0.726" stop-color="#fdc271"/><stop offset="0.738" stop-color="#fcaa5f"/><stop offset="0.750" stop-color="#f88d52"/><stop offset="0.762" stop-color="#f47044"/><stop offset="0.774" stop-color="#fba15b"/><stop offset="0.786" stop-color="#fed17e"/><stop offset="0.798" stop-color="#fff2aa"/><stop offset="0.810" stop-color="#f5fbaf"/><stop offset="0.821" stop-color="#ddf19a"/><stop offset="0.833" stop-color="#b1dfa3"/><stop offset="0.845" stop-color="#82cda5"/><stop offset="0.857" stop-color="#64c0a6"/><stop offset="0.869" stop-color="#4da6b1"/><stop offset="0.881" stop-color="#368cbb"/><stop offset="0.893" stop-color="#3f97b7"/><stop offset="0.905" stop-color="#4fa8b0"/><stop offset="0.917" stop-color="#5eb9a9"/><stop offset="0.929" stop-color="#80cca5"/><stop offset="0.940" stop-color="#b2e0a3"/><stop offset="0.952" stop-color="#def29a"/><stop offset="0.964" stop-color="#f2faab"/><stop offset="0.976" stop-color="#eef8a4"/><stop offset="0.988" stop-color="#eaf79e"/><stop offset="1.000" stop-color="#e6f598"/></linearGradient><linearGradient id="gd27" x1="0" y1="0" x2="0" y2="1"><stop offset="0.000" stop-color="#88d0a4"/><stop offset="0.036" stop-color="#88d0a4"/><stop offset="0.048" stop-color="#87cfa5"/><stop offset="0.060" stop-color="#7ccba5"/><stop offset="0.071" stop-color="#72c7a5"/><stop offset="0.083" stop-color="#68c3a5"/><stop offset="0.095" stop-color="#60bba8"/><stop offset="0.107" stop-color="#58b2ac"/><stop offset="0.119" stop-color="#50a9af"/><stop offset="0.131" stop-color="#4ca5b1"/><stop offset="0.179" stop-color="#4ca5b1"/><stop offset="0.190" stop-color="#bfe5a0"/><stop offset="0.202" stop-color="#ebf7a0"/><stop offset="0.286" stop-color="#ebf7a0"/><stop offset="0.298" stop-color="#e8f69b"/><stop offset="0.310" stop-color="#acdda4"/><stop offset="0.321" stop-color="#52abae"/><stop offset="0.333" stop-color="#3288bd"/><stop offset="0.393" stop-color="#3288bd"/><stop offset="0.405" stop-color="#3389bc"/><stop offset="0.417" stop-color="#52acae"/><stop offset="0.429" stop-color="#75c8a5"/><stop offset="0.440" stop-color="#9ed8a4"/><stop offset="0.452" stop-color="#c3e79f"/><stop offset="0.464" stop-color="#e6f598"/><stop offset="0.476" stop-color="#f5fbb0"/><stop offset="0.488" stop-color="#fff9b4"/><stop offset="0.500" stop-color="#fee695"/><stop offset="0.512" stop-color="#fecc7a"/><stop offset="0.524" stop-color="#fdae61"/><stop offset="0.536" stop-color="#f99154"/><stop offset="0.548" stop-color="#f57446"/><stop offset="0.560" stop-color="#e95d47"/><stop offset="0.571" stop-color="#e45649"/><stop offset="0.583" stop-color="#e55649"/><stop offset="0.595" stop-color="#e45649"/><stop offset="0.607" stop-color="#ee6445"/><stop offset="0.619" stop-color="#fca45d"/><stop offset="0.631" stop-color="#fedb87"/><stop offset="0.643" stop-color="#fffdbc"/><stop offset="0.655" stop-color="#f8fcb4"/><stop offset="0.667" stop-color="#f1f9a8"/><stop offset="0.679" stop-color="#e9f69d"/><stop offset="0.690" stop-color="#fffdbc"/><stop offset="0.702" stop-color="#fdb567"/><stop offset="0.714" stop-color="#e04f4b"/><stop offset="0.726" stop-color="#9e0142"/><stop offset="0.917" stop-color="#9e0142"/><stop offset="0.929" stop-color="#a60a44"/><stop offset="0.940" stop-color="#b71c48"/><stop offset="0.952" stop-color="#c72e4c"/><stop offset="0.964" stop-color="#d8424e"/><stop offset="0.976" stop-color="#ec6046"/><stop offset="0.988" stop-color="#f7854e"/><stop offset="1.000" stop-color="#fdae61"/></linearGradient><linearGradient id="gd28" x1="0" y1="0" x2="0" y2="1"><stop offset="0.000" stop-color="#4174b4"/><stop offset="0.036" stop-color="#4174b4"/><stop offset="0.048" stop-color="#3486bc"/><stop offset="0.060" stop-color="#a8dca4"/><stop offset="0.071" stop-color="#ebf7a0"/><stop offset="0.214" stop-color="#ebf7a0"/><stop offset="0.226" stop-color="#cceb9d"/><stop offset="0.238" stop-color="#72c7a5"/><stop offset="0.250" stop-color="#3485bc"/><stop offset="0.262" stop-color="#3b7db8"/><stop offset="0.321" stop-color="#3b7db8"/><stop offset="0.333" stop-color="#397fb9"/><stop offset="0.345" stop-color="#3683ba"/><stop offset="0.357" stop-color="#3486bc"/><stop offset="0.369" stop-color="#358bbc"/><stop offset="0.381" stop-color="#3d94b8"/><stop offset="0.393" stop-color="#459db4"/><stop offset="0.405" stop-color="#4ca5b1"/><stop offset="0.440" stop-color="#4ca5b1"/><stop offset="0.452" stop-color="#51abaf"/><stop offset="0.464" stop-color="#59b4ab"/><stop offset="0.476" stop-color="#61bca7"/><stop offset="0.488" stop-color="#63bfa6"/><stop offset="0.500" stop-color="#5cb6aa"/><stop offset="0.512" stop-color="#54aead"/><stop offset="0.524" stop-color="#4ca5b1"/><stop offset="0.560" stop-color="#4ca5b1"/><stop offset="0.571" stop-color="#51abaf"/><stop offset="0.583" stop-color="#59b3ab"/><stop offset="0.595" stop-color="#61bca8"/><stop offset="0.607" stop-color="#6cc4a5"/><stop offset="0.619" stop-color="#81cca5"/><stop offset="0.631" stop-color="#95d4a4"/><stop offset="0.643" stop-color="#aadda4"/><stop offset="0.655" stop-color="#bce4a1"/><stop offset="0.667" stop-color="#cdeb9d"/><stop offset="0.679" stop-color="#dff299"/><stop offset="0.690" stop-color="#e8f69b"/><stop offset="0.702" stop-color="#ecf7a1"/><stop offset="0.714" stop-color="#f0f9a7"/><stop offset="0.726" stop-color="#f7fcb3"/><stop offset="0.738" stop-color="#fff2a9"/><stop offset="0.750" stop-color="#fed784"/><stop offset="0.762" stop-color="#fdb264"/><stop offset="0.774" stop-color="#f67a49"/><stop offset="0.786" stop-color="#de4c4b"/><stop offset="0.798" stop-color="#b41a47"/><stop offset="0.810" stop-color="#9e0142"/><stop offset="0.952" stop-color="#9e0142"/><stop offset="0.964" stop-color="#a20543"/><stop offset="0.976" stop-color="#bc2249"/><stop offset="0.988" stop-color="#d63f4f"/><stop offset="1.000" stop-color="#e45649"/></linearGradient><linearGradient id="gd29" x1="0" y1="0" x2="0" y2="1"><stop offset="0.000" stop-color="#486baf"/><stop offset="0.012" stop-color="#6cc4a5"/><stop offset="0.024" stop-color="#e6f598"/><stop offset="0.036" stop-color="#ebf7a0"/><stop offset="0.095" stop-color="#ebf7a0"/><stop offset="0.107" stop-color="#cdeb9d"/><stop offset="0.119" stop-color="#74c7a5"/><stop offset="0.131" stop-color="#3386bc"/><stop offset="0.143" stop-color="#476cb0"/><stop offset="0.155" stop-color="#4b67ae"/><stop offset="0.167" stop-color="#4f63ab"/><stop offset="0.202" stop-color="#4f63ab"/><stop offset="0.214" stop-color="#4c67ad"/><stop offset="0.226" stop-color="#486cb0"/><stop offset="0.238" stop-color="#4471b2"/><stop offset="0.250" stop-color="#3a7eb8"/><stop offset="0.262" stop-color="#3e95b8"/><stop offset="0.274" stop-color="#53adae"/><stop offset="0.286" stop-color="#66c2a5"/><stop offset="0.357" stop-color="#66c2a5"/><stop offset="0.369" stop-color="#6ac4a5"/><stop offset="0.381" stop-color="#74c8a5"/><stop offset="0.393" stop-color="#7fcca5"/><stop offset="0.405" stop-color="#89d0a4"/><stop offset="0.417" stop-color="#93d4a4"/><stop offset="0.429" stop-color="#9dd8a4"/><stop offset="0.440" stop-color="#a8dca4"/><stop offset="0.452" stop-color="#abdda4"/><stop offset="0.476" stop-color="#abdda4"/><stop offset="0.488" stop-color="#a8dca4"/><stop offset="0.500" stop-color="#9dd8a4"/><stop offset="0.512" stop-color="#93d4a4"/><stop offset="0.524" stop-color="#89d0a4"/><stop offset="0.536" stop-color="#93d3a4"/><stop offset="0.548" stop-color="#9dd8a4"/><stop offset="0.560" stop-color="#a7dca4"/><stop offset="0.571" stop-color="#a4daa4"/><stop offset="0.583" stop-color="#9ad6a4"/><stop offset="0.595" stop-color="#90d2a4"/><stop offset="0.607" stop-color="#88d0a4"/><stop offset="0.643" stop-color="#88d0a4"/><stop offset="0.655" stop-color="#92d3a4"/><stop offset="0.667" stop-color="#9dd7a4"/><stop offset="0.679" stop-color="#a7dba4"/><stop offset="0.690" stop-color="#b0dfa3"/><stop offset="0.702" stop-color="#b9e3a1"/><stop offset="0.714" stop-color="#c2e69f"/><stop offset="0.726" stop-color="#cfec9d"/><stop offset="0.738" stop-color="#e7f69a"/><stop offset="0.750" stop-color="#f3faac"/><stop offset="0.762" stop-color="#feffbd"/><stop offset="0.774" stop-color="#fffbb8"/><stop offset="0.786" stop-color="#fff6b0"/><stop offset="0.798" stop-color="#fff2a9"/><stop offset="0.810" stop-color="#fedc88"/><stop offset="0.821" stop-color="#fca75e"/><stop offset="0.833" stop-color="#ef6545"/><stop offset="0.845" stop-color="#d7414e"/><stop offset="0.857" stop-color="#e04f4b"/><stop offset="0.869" stop-color="#e95d47"/><stop offset="0.881" stop-color="#f36b44"/><stop offset="0.893" stop-color="#f98e52"/><stop offset="0.905" stop-color="#fdb365"/><stop offset="0.917" stop-color="#fed17e"/><stop offset="0.929" stop-color="#fee08b"/><stop offset="0.952" stop-color="#fee08b"/><stop offset="0.964" stop-color="#fee797"/><stop offset="0.976" stop-color="#eaf79f"/><stop offset="0.988" stop-color="#8fd2a4"/><stop offset="1.000" stop-color="#3288bd"/></linearGradient><linearGradient id="gd30" x1="0" y1="0" x2="0" y2="1"><stop offset="0.000" stop-color="#4f63ab"/><stop offset="0.012" stop-color="#4b67ae"/><stop offset="0.024" stop-color="#486cb0"/><stop offset="0.036" stop-color="#4470b2"/><stop offset="0.048" stop-color="#4174b4"/><stop offset="0.119" stop-color="#4174b4"/><stop offset="0.131" stop-color="#4470b2"/><stop offset="0.143" stop-color="#4a69ae"/><stop offset="0.155" stop-color="#5061ab"/><stop offset="0.167" stop-color="#555aa7"/><stop offset="0.202" stop-color="#555aa7"/><stop offset="0.214" stop-color="#486cb0"/><stop offset="0.226" stop-color="#3782ba"/><stop offset="0.238" stop-color="#4198b6"/><stop offset="0.250" stop-color="#4ca5b1"/><stop offset="0.274" stop-color="#4ca5b1"/><stop offset="0.286" stop-color="#4da6b1"/><stop offset="0.298" stop-color="#54aead"/><stop offset="0.310" stop-color="#5cb7aa"/><stop offset="0.321" stop-color="#64c0a6"/><stop offset="0.333" stop-color="#75c8a5"/><stop offset="0.345" stop-color="#8ad0a4"/><stop offset="0.357" stop-color="#9ed8a4"/><stop offset="0.369" stop-color="#abdda4"/><stop offset="0.393" stop-color="#abdda4"/><stop offset="0.405" stop-color="#acdda4"/><stop offset="0.417" stop-color="#bde4a0"/><stop offset="0.429" stop-color="#cfec9d"/><stop offset="0.440" stop-color="#e1f399"/><stop offset="0.452" stop-color="#e9f69c"/><stop offset="0.464" stop-color="#ecf8a2"/><stop offset="0.476" stop-color="#f0f9a8"/><stop offset="0.488" stop-color="#fbfeb9"/><stop offset="0.500" stop-color="#fee390"/><stop offset="0.512" stop-color="#fdb163"/><stop offset="0.524" stop-color="#f46e43"/><stop offset="0.536" stop-color="#f46d43"/><stop offset="0.595" stop-color="#f46d43"/><stop offset="0.607" stop-color="#f67e4b"/><stop offset="0.619" stop-color="#fdb668"/><stop offset="0.631" stop-color="#fee28e"/><stop offset="0.643" stop-color="#fffdbc"/><stop offset="0.655" stop-color="#f8fcb4"/><stop offset="0.667" stop-color="#f1f9a8"/><stop offset="0.679" stop-color="#e9f69d"/><stop offset="0.690" stop-color="#e6f598"/><stop offset="0.714" stop-color="#e6f598"/><stop offset="0.726" stop-color="#ebf7a1"/><stop offset="0.738" stop-color="#fffbb9"/><stop offset="0.750" stop-color="#fee08b"/><stop offset="0.762" stop-color="#fdb365"/><stop offset="0.774" stop-color="#f88b51"/><stop offset="0.786" stop-color="#f06745"/><stop offset="0.798" stop-color="#dd4b4c"/><stop offset="0.810" stop-color="#cc344d"/><stop offset="0.821" stop-color="#bc2249"/><stop offset="0.833" stop-color="#ab1045"/><stop offset="0.845" stop-color="#9e0142"/><stop offset="0.917" stop-color="#9e0142"/><stop offset="0.929" stop-color="#ae1346"/><stop offset="0.940" stop-color="#cf384e"/><stop offset="0.952" stop-color="#e45549"/><stop offset="0.964" stop-color="#f57647"/><stop offset="0.976" stop-color="#fdb365"/><stop offset="0.988" stop-color="#fee18d"/><stop offset="1.000" stop-color="#ffffbf"/></linearGradient><linearGradient id="gd31" x1="0" y1="0" x2="0" y2="1"><stop offset="0.000" stop-color="#4174b4"/><stop offset="0.119" stop-color="#4174b4"/><stop offset="0.131" stop-color="#4470b2"/><stop offset="0.143" stop-color="#4a69ae"/><stop offset="0.155" stop-color="#5061ab"/><stop offset="0.167" stop-color="#555aa7"/><stop offset="0.202" stop-color="#555aa7"/><stop offset="0.214" stop-color="#486cb0"/><stop offset="0.226" stop-color="#3782ba"/><stop offset="0.238" stop-color="#4198b6"/><stop offset="0.250" stop-color="#4ca5b1"/><stop offset="0.321" stop-color="#4ca5b1"/><stop offset="0.333" stop-color="#52abae"/><stop offset="0.345" stop-color="#59b4ab"/><stop offset="0.357" stop-color="#61bda7"/><stop offset="0.369" stop-color="#6ec5a5"/><stop offset="0.381" stop-color="#83cda5"/><stop offset="0.393" stop-color="#97d5a4"/><stop offset="0.405" stop-color="#abdda4"/><stop offset="0.524" stop-color="#abdda4"/><stop offset="0.536" stop-color="#ceeb9d"/><stop offset="0.548" stop-color="#ebf79f"/><stop offset="0.560" stop-color="#fafdb7"/><stop offset="0.571" stop-color="#fafdb8"/><stop offset="0.583" stop-color="#f3faac"/><stop offset="0.595" stop-color="#ebf7a0"/><stop offset="0.607" stop-color="#e6f598"/><stop offset="0.643" stop-color="#e6f598"/><stop offset="0.655" stop-color="#edf8a3"/><stop offset="0.667" stop-color="#f4fbaf"/><stop offset="0.679" stop-color="#fcfeba"/><stop offset="0.690" stop-color="#fffcba"/><stop offset="0.702" stop-color="#fff8b3"/><stop offset="0.714" stop-color="#fff3ab"/><stop offset="0.726" stop-color="#feec9f"/><stop offset="0.738" stop-color="#fedd89"/><stop offset="0.750" stop-color="#fdc776"/><stop offset="0.762" stop-color="#fdb063"/><stop offset="0.774" stop-color="#f67a49"/><stop offset="0.786" stop-color="#de4c4b"/><stop offset="0.798" stop-color="#b41a47"/><stop offset="0.810" stop-color="#9e0142"/><stop offset="0.917" stop-color="#9e0142"/><stop offset="0.929" stop-color="#b71c48"/><stop offset="0.940" stop-color="#e04e4b"/><stop offset="0.952" stop-color="#f67c4a"/><stop offset="0.964" stop-color="#fdb365"/><stop offset="0.976" stop-color="#fed280"/><stop offset="0.988" stop-color="#feeb9e"/><stop offset="1.000" stop-color="#ffffbf"/></linearGradient><linearGradient id="gd32" x1="0" y1="0" x2="0" y2="1"><stop offset="0.000" stop-color="#4174b4"/><stop offset="0.155" stop-color="#4174b4"/><stop offset="0.167" stop-color="#4175b4"/><stop offset="0.179" stop-color="#3c7bb7"/><stop offset="0.190" stop-color="#3881ba"/><stop offset="0.202" stop-color="#3387bc"/><stop offset="0.214" stop-color="#3288bd"/><stop offset="0.274" stop-color="#3288bd"/><stop offset="0.286" stop-color="#3389bd"/><stop offset="0.298" stop-color="#3a91b9"/><stop offset="0.310" stop-color="#429ab6"/><stop offset="0.321" stop-color="#4aa3b2"/><stop offset="0.333" stop-color="#52abae"/><stop offset="0.345" stop-color="#59b4ab"/><stop offset="0.357" stop-color="#61bda7"/><stop offset="0.369" stop-color="#66c2a5"/><stop offset="0.440" stop-color="#66c2a5"/><stop offset="0.452" stop-color="#6dc5a5"/><stop offset="0.464" stop-color="#77c9a5"/><stop offset="0.476" stop-color="#82cda5"/><stop offset="0.488" stop-color="#88d0a4"/><stop offset="0.524" stop-color="#88d0a4"/><stop offset="0.536" stop-color="#93d3a4"/><stop offset="0.548" stop-color="#9dd8a4"/><stop offset="0.560" stop-color="#a7dca4"/><stop offset="0.571" stop-color="#b1dfa3"/><stop offset="0.583" stop-color="#b9e3a1"/><stop offset="0.595" stop-color="#c2e69f"/><stop offset="0.607" stop-color="#ceeb9d"/><stop offset="0.619" stop-color="#dff299"/><stop offset="0.631" stop-color="#ebf79f"/><stop offset="0.643" stop-color="#f2faab"/><stop offset="0.655" stop-color="#fffdbc"/><stop offset="0.667" stop-color="#feeb9d"/><stop offset="0.679" stop-color="#fed380"/><stop offset="0.690" stop-color="#fdbe6f"/><stop offset="0.702" stop-color="#fdaf62"/><stop offset="0.714" stop-color="#fb9c59"/><stop offset="0.726" stop-color="#f7824d"/><stop offset="0.738" stop-color="#e75948"/><stop offset="0.750" stop-color="#cb334d"/><stop offset="0.762" stop-color="#a20643"/><stop offset="0.774" stop-color="#9e0142"/><stop offset="0.917" stop-color="#9e0142"/><stop offset="0.929" stop-color="#b21847"/><stop offset="0.940" stop-color="#d9444e"/><stop offset="0.952" stop-color="#f06745"/><stop offset="0.964" stop-color="#f99455"/><stop offset="0.976" stop-color="#fdb96b"/><stop offset="0.988" stop-color="#fed985"/><stop offset="1.000" stop-color="#fef0a5"/></linearGradient><linearGradient id="gd33" x1="0" y1="0" x2="0" y2="1"><stop offset="0.000" stop-color="#3b7db8"/><stop offset="0.202" stop-color="#3b7db8"/><stop offset="0.214" stop-color="#368dbb"/><stop offset="0.226" stop-color="#49a1b2"/><stop offset="0.238" stop-color="#5bb6aa"/><stop offset="0.250" stop-color="#66c2a5"/><stop offset="0.321" stop-color="#66c2a5"/><stop offset="0.333" stop-color="#6ec5a5"/><stop offset="0.345" stop-color="#78c9a5"/><stop offset="0.357" stop-color="#82cda5"/><stop offset="0.369" stop-color="#88d0a4"/><stop offset="0.440" stop-color="#88d0a4"/><stop offset="0.452" stop-color="#90d2a4"/><stop offset="0.464" stop-color="#9ad6a4"/><stop offset="0.476" stop-color="#a4daa4"/><stop offset="0.488" stop-color="#a8dca4"/><stop offset="0.500" stop-color="#9dd8a4"/><stop offset="0.512" stop-color="#93d4a4"/><stop offset="0.524" stop-color="#89d0a4"/><stop offset="0.536" stop-color="#9dd7a4"/><stop offset="0.548" stop-color="#b1dfa3"/><stop offset="0.560" stop-color="#c2e69f"/><stop offset="0.571" stop-color="#d9f09b"/><stop offset="0.583" stop-color="#ecf7a1"/><stop offset="0.595" stop-color="#f7fcb3"/><stop offset="0.607" stop-color="#ffffbf"/><stop offset="0.643" stop-color="#ffffbf"/><stop offset="0.655" stop-color="#feeea2"/><stop offset="0.667" stop-color="#fed884"/><stop offset="0.679" stop-color="#fdba6b"/><stop offset="0.690" stop-color="#f88b51"/><stop offset="0.702" stop-color="#e75948"/><stop offset="0.714" stop-color="#c32a4b"/><stop offset="0.726" stop-color="#9e0142"/><stop offset="0.917" stop-color="#9e0142"/><stop offset="0.929" stop-color="#b71c48"/><stop offset="0.940" stop-color="#e04e4b"/><stop offset="0.952" stop-color="#f67c4a"/><stop offset="0.964" stop-color="#fdb365"/><stop offset="0.976" stop-color="#fed280"/><stop offset="0.988" stop-color="#feeb9e"/><stop offset="1.000" stop-color="#ffffbf"/></linearGradient><linearGradient id="gd34" x1="0" y1="0" x2="0" y2="1"><stop offset="0.000" stop-color="#3b7db8"/><stop offset="0.083" stop-color="#3b7db8"/><stop offset="0.095" stop-color="#397fb9"/><stop offset="0.107" stop-color="#3683bb"/><stop offset="0.119" stop-color="#3386bc"/><stop offset="0.131" stop-color="#368cbb"/><stop offset="0.143" stop-color="#3e95b8"/><stop offset="0.155" stop-color="#459eb4"/><stop offset="0.167" stop-color="#4da6b1"/><stop offset="0.179" stop-color="#55afad"/><stop offset="0.190" stop-color="#5db7a9"/><stop offset="0.202" stop-color="#64c0a6"/><stop offset="0.214" stop-color="#66c2a5"/><stop offset="0.238" stop-color="#66c2a5"/><stop offset="0.250" stop-color="#6ac4a5"/><stop offset="0.262" stop-color="#75c8a5"/><stop offset="0.274" stop-color="#7fcca5"/><stop offset="0.286" stop-color="#89d0a4"/><stop offset="0.298" stop-color="#94d4a4"/><stop offset="0.310" stop-color="#9ed8a4"/><stop offset="0.321" stop-color="#a8dca4"/><stop offset="0.333" stop-color="#abdda4"/><stop offset="0.357" stop-color="#abdda4"/><stop offset="0.369" stop-color="#aedea3"/><stop offset="0.381" stop-color="#b7e2a2"/><stop offset="0.393" stop-color="#c0e6a0"/><stop offset="0.405" stop-color="#cae99e"/><stop offset="0.417" stop-color="#e4f498"/><stop offset="0.429" stop-color="#f0f9a8"/><stop offset="0.440" stop-color="#fcfeba"/><stop offset="0.452" stop-color="#ffffbf"/><stop offset="0.476" stop-color="#ffffbf"/><stop offset="0.488" stop-color="#fbfdb9"/><stop offset="0.500" stop-color="#f0f9a8"/><stop offset="0.512" stop-color="#e3f499"/><stop offset="0.524" stop-color="#c9e99e"/><stop offset="0.536" stop-color="#daf09a"/><stop offset="0.548" stop-color="#e8f69c"/><stop offset="0.560" stop-color="#f0f9a7"/><stop offset="0.571" stop-color="#f7fcb3"/><stop offset="0.583" stop-color="#ffffbf"/><stop offset="0.595" stop-color="#fff6b0"/><stop offset="0.607" stop-color="#fee99a"/><stop offset="0.619" stop-color="#fec977"/><stop offset="0.631" stop-color="#fba05b"/><stop offset="0.643" stop-color="#f47044"/><stop offset="0.655" stop-color="#e3534a"/><stop offset="0.667" stop-color="#cc344d"/><stop offset="0.679" stop-color="#ab1045"/><stop offset="0.690" stop-color="#9e0142"/><stop offset="0.917" stop-color="#9e0142"/><stop offset="0.929" stop-color="#b71c48"/><stop offset="0.940" stop-color="#e04e4b"/><stop offset="0.952" stop-color="#f67c4a"/><stop offset="0.964" stop-color="#fdb365"/><stop offset="0.976" stop-color="#fed280"/><stop offset="0.988" stop-color="#feeb9e"/><stop offset="1.000" stop-color="#ffffbf"/></linearGradient><linearGradient id="gd35" x1="0" y1="0" x2="0" y2="1"><stop offset="0.000" stop-color="#3b7db8"/><stop offset="0.083" stop-color="#3b7db8"/><stop offset="0.095" stop-color="#397fb9"/><stop offset="0.107" stop-color="#3683bb"/><stop offset="0.119" stop-color="#3386bc"/><stop offset="0.131" stop-color="#3a90ba"/><stop offset="0.143" stop-color="#49a2b2"/><stop offset="0.155" stop-color="#59b3ab"/><stop offset="0.167" stop-color="#66c2a5"/><stop offset="0.238" stop-color="#66c2a5"/><stop offset="0.250" stop-color="#6ac4a5"/><stop offset="0.262" stop-color="#75c8a5"/><stop offset="0.274" stop-color="#7fcca5"/><stop offset="0.286" stop-color="#89d0a4"/><stop offset="0.298" stop-color="#94d4a4"/><stop offset="0.310" stop-color="#9ed8a4"/><stop offset="0.321" stop-color="#a8dca4"/><stop offset="0.333" stop-color="#b1e0a3"/><stop offset="0.345" stop-color="#bae3a1"/><stop offset="0.357" stop-color="#c3e79f"/><stop offset="0.369" stop-color="#cfec9d"/><stop offset="0.381" stop-color="#e1f399"/><stop offset="0.393" stop-color="#ebf7a0"/><stop offset="0.405" stop-color="#f3faac"/><stop offset="0.417" stop-color="#fafdb8"/><stop offset="0.429" stop-color="#fffcb9"/><stop offset="0.440" stop-color="#fff2aa"/><stop offset="0.452" stop-color="#fff3aa"/><stop offset="0.464" stop-color="#fff7b2"/><stop offset="0.476" stop-color="#fffcba"/><stop offset="0.488" stop-color="#ffffbf"/><stop offset="0.524" stop-color="#ffffbf"/><stop offset="0.536" stop-color="#fffab7"/><stop offset="0.548" stop-color="#fff6b0"/><stop offset="0.560" stop-color="#fff1a8"/><stop offset="0.571" stop-color="#feea9b"/><stop offset="0.583" stop-color="#fee08c"/><stop offset="0.595" stop-color="#fed27f"/><stop offset="0.607" stop-color="#fdbe6f"/><stop offset="0.619" stop-color="#fb9c59"/><stop offset="0.631" stop-color="#f57647"/><stop offset="0.643" stop-color="#e65749"/><stop offset="0.655" stop-color="#d7424e"/><stop offset="0.667" stop-color="#c1274a"/><stop offset="0.679" stop-color="#a80c44"/><stop offset="0.690" stop-color="#9e0142"/><stop offset="0.917" stop-color="#9e0142"/><stop offset="0.929" stop-color="#b71c48"/><stop offset="0.940" stop-color="#e04e4b"/><stop offset="0.952" stop-color="#f67c4a"/><stop offset="0.964" stop-color="#fdb365"/><stop offset="0.976" stop-color="#fed280"/><stop offset="0.988" stop-color="#feeb9e"/><stop offset="1.000" stop-color="#ffffbf"/></linearGradient></defs><rect x="280.20" y="132.30" width="4.20" height="125.40" fill="url(#gd0)"/><rect x="283.40" y="132.30" width="5.80" height="125.40" fill="url(#gd1)"/><rect x="288.20" y="132.30" width="5.70" height="125.40" fill="url(#gd2)"/><rect x="292.90" y="132.30" width="5.80" height="125.40" fill="url(#gd3)"/><rect x="297.70" y="132.30" width="5.70" height="125.40" fill="url(#gd4)"/><rect x="302.40" y="132.30" width="5.80" height="125.40" fill="url(#gd5)"/><rect x="307.20" y="132.30" width="5.70" height="125.40" fill="url(#gd6)"/><rect x="311.90" y="132.30" width="5.80" height="125.40" fill="url(#gd7)"/><rect x="316.70" y="132.30" width="5.70" height="125.40" fill="url(#gd8)"/><rect x="321.40" y="132.30" width="5.80" height="125.40" fill="url(#gd9)"/><rect x="326.20" y="132.30" width="5.70" height="125.40" fill="url(#gd10)"/><rect x="330.90" y="132.30" width="5.80" height="125.40" fill="url(#gd11)"/><rect x="335.70" y="132.30" width="5.70" height="125.40" fill="url(#gd12)"/><rect x="340.40" y="132.30" width="5.80" height="125.40" fill="url(#gd13)"/><rect x="345.20" y="132.30" width="5.70" height="125.40" fill="url(#gd14)"/><rect x="349.90" y="132.30" width="5.80" height="125.40" fill="url(#gd15)"/><rect x="354.70" y="132.30" width="5.70" height="125.40" fill="url(#gd16)"/><rect x="359.40" y="132.30" width="5.80" height="125.40" fill="url(#gd17)"/><rect x="364.20" y="132.30" width="5.70" height="125.40" fill="url(#gd18)"/><rect x="368.90" y="132.30" width="5.80" height="125.40" fill="url(#gd19)"/><rect x="373.70" y="132.30" width="5.70" height="125.40" fill="url(#gd20)"/><rect x="378.40" y="132.30" width="5.70" height="125.40" fill="url(#gd21)"/><rect x="383.10" y="132.30" width="5.80" height="125.40" fill="url(#gd22)"/><rect x="387.90" y="132.30" width="5.70" height="125.40" fill="url(#gd23)"/><rect x="392.60" y="132.30" width="5.80" height="125.40" fill="url(#gd24)"/><rect x="397.40" y="132.30" width="5.70" height="125.40" fill="url(#gd25)"/><rect x="402.10" y="132.30" width="5.80" height="125.40" fill="url(#gd26)"/><rect x="406.90" y="132.30" width="5.70" height="125.40" fill="url(#gd27)"/><rect x="411.60" y="132.30" width="5.90" height="125.40" fill="url(#gd28)"/><rect x="416.50" y="132.30" width="5.70" height="125.40" fill="url(#gd29)"/><rect x="421.20" y="132.30" width="6.50" height="125.40" fill="url(#gd30)"/><rect x="426.70" y="132.30" width="6.60" height="125.40" fill="url(#gd31)"/><rect x="432.30" y="132.30" width="6.60" height="125.40" fill="url(#gd32)"/><rect x="437.90" y="132.30" width="6.50" height="125.40" fill="url(#gd33)"/><rect x="443.40" y="132.30" width="5.50" height="125.40" fill="url(#gd34)"/><rect x="447.90" y="132.30" width="4.30" height="125.40" fill="url(#gd35)"/>
<rect x="280.2" y="132.3" width="171.7" height="125.5" fill="none" stroke="#777" stroke-width="0.5"/>
<path d="M280.2 258.1 H282.4" stroke="#333" stroke-width="0.6"/>
<path d="M280.2 205.8 H282.4" stroke="#333" stroke-width="0.6"/>
<path d="M280.2 153.5 H282.4" stroke="#333" stroke-width="0.6"/>
<circle cx="284.40" cy="217.00" r="2.3" fill="none" stroke="#0000ff" stroke-width="1.7"/>
<circle cx="289.19" cy="216.95" r="2.3" fill="none" stroke="#0000ff" stroke-width="1.7"/>
<circle cx="293.97" cy="216.81" r="2.3" fill="none" stroke="#0000ff" stroke-width="1.7"/>
<circle cx="298.75" cy="216.58" r="2.3" fill="none" stroke="#0000ff" stroke-width="1.7"/>
<circle cx="303.54" cy="216.25" r="2.3" fill="none" stroke="#0000ff" stroke-width="1.7"/>
<circle cx="308.32" cy="215.82" r="2.3" fill="none" stroke="#0000ff" stroke-width="1.7"/>
<circle cx="313.11" cy="215.31" r="2.3" fill="none" stroke="#0000ff" stroke-width="1.7"/>
<circle cx="317.89" cy="214.70" r="2.3" fill="none" stroke="#0000ff" stroke-width="1.7"/>
<circle cx="322.68" cy="213.99" r="2.3" fill="none" stroke="#0000ff" stroke-width="1.7"/>
<circle cx="327.46" cy="213.19" r="2.3" fill="none" stroke="#0000ff" stroke-width="1.7"/>
<circle cx="332.25" cy="212.30" r="2.3" fill="none" stroke="#0000ff" stroke-width="1.7"/>
<circle cx="337.03" cy="211.10" r="2.3" fill="none" stroke="#0000ff" stroke-width="1.7"/>
<circle cx="341.82" cy="210.10" r="2.3" fill="none" stroke="#0000ff" stroke-width="1.7"/>
<circle cx="346.60" cy="209.00" r="2.3" fill="none" stroke="#0000ff" stroke-width="1.7"/>
<circle cx="351.39" cy="207.80" r="2.3" fill="none" stroke="#0000ff" stroke-width="1.7"/>
<circle cx="356.17" cy="206.30" r="2.3" fill="none" stroke="#0000ff" stroke-width="1.7"/>
<circle cx="360.96" cy="204.40" r="2.3" fill="none" stroke="#0000ff" stroke-width="1.7"/>
<circle cx="365.75" cy="202.60" r="2.3" fill="none" stroke="#0000ff" stroke-width="1.7"/>
<circle cx="370.53" cy="200.30" r="2.3" fill="none" stroke="#0000ff" stroke-width="1.7"/>
<circle cx="375.31" cy="198.20" r="2.3" fill="none" stroke="#0000ff" stroke-width="1.7"/>
<circle cx="380.10" cy="195.20" r="2.3" fill="none" stroke="#0000ff" stroke-width="1.7"/>
<circle cx="384.88" cy="191.90" r="2.3" fill="none" stroke="#0000ff" stroke-width="1.7"/>
<circle cx="389.67" cy="188.00" r="2.3" fill="none" stroke="#0000ff" stroke-width="1.7"/>
<circle cx="394.45" cy="183.10" r="2.3" fill="none" stroke="#0000ff" stroke-width="1.7"/>
<circle cx="399.24" cy="178.00" r="2.3" fill="none" stroke="#0000ff" stroke-width="1.7"/>
<circle cx="404.02" cy="171.60" r="2.3" fill="none" stroke="#0000ff" stroke-width="1.7"/>
<circle cx="408.81" cy="163.10" r="2.3" fill="none" stroke="#0000ff" stroke-width="1.7"/>
<circle cx="413.59" cy="152.10" r="2.3" fill="none" stroke="#0000ff" stroke-width="1.7"/>
<circle cx="418.38" cy="133.70" r="2.3" fill="none" stroke="#0000ff" stroke-width="1.7"/>
<rect x="280.4" y="132.5" width="60.0" height="14.4" fill="#fff" stroke="#555" stroke-width="0.7"/>
<circle cx="288.9" cy="140.1" r="2.9" fill="none" stroke="#0000ff" stroke-width="2.0"/>
<text x="296.6" y="144.8" class="t13">α [010]</text>
<text x="275.4" y="262.7" class="t13" text-anchor="end">0</text>
<text x="275.4" y="210.4" class="t13" text-anchor="end">50</text>
<text x="275.4" y="158.1" class="t13" text-anchor="end">100</text>
<text x="281.5" y="275.2" class="t13" text-anchor="middle">0</text>
<text x="337.8" y="275.2" class="t13" text-anchor="middle">30</text>
<text x="394.1" y="275.2" class="t13" text-anchor="middle">60</text>
<text x="450.3" y="275.2" class="t13" text-anchor="middle">90</text>
<text x="366.4" y="288.4" class="t13" text-anchor="middle">θ (deg)</text>
<text transform="translate(259.4,203.8) rotate(-90)" class="t13">F(T)</text>
<defs><linearGradient id="ge0" x1="0" y1="0" x2="0" y2="1"><stop offset="0.000" stop-color="#4ca5b1"/><stop offset="0.012" stop-color="#c1e6a0"/><stop offset="0.024" stop-color="#fff4ac"/><stop offset="0.037" stop-color="#fef0a5"/><stop offset="0.244" stop-color="#fef0a5"/><stop offset="0.256" stop-color="#fff5ae"/><stop offset="0.268" stop-color="#fffebe"/><stop offset="0.280" stop-color="#f8fcb4"/><stop offset="0.293" stop-color="#f0f9a7"/><stop offset="0.305" stop-color="#e2f399"/><stop offset="0.317" stop-color="#c7e99e"/><stop offset="0.329" stop-color="#addea4"/><stop offset="0.341" stop-color="#8ed2a4"/><stop offset="0.354" stop-color="#6fc6a5"/><stop offset="0.366" stop-color="#55afad"/><stop offset="0.378" stop-color="#47a0b3"/><stop offset="0.390" stop-color="#4097b7"/><stop offset="0.402" stop-color="#388eba"/><stop offset="0.415" stop-color="#3486bc"/><stop offset="0.427" stop-color="#3a7db8"/><stop offset="0.439" stop-color="#4175b4"/><stop offset="0.451" stop-color="#486cb0"/><stop offset="0.463" stop-color="#4273b3"/><stop offset="0.476" stop-color="#3b7cb7"/><stop offset="0.488" stop-color="#3585bb"/><stop offset="0.500" stop-color="#3288bd"/><stop offset="0.524" stop-color="#3288bd"/><stop offset="0.537" stop-color="#348abc"/><stop offset="0.549" stop-color="#3c93b8"/><stop offset="0.561" stop-color="#449cb5"/><stop offset="0.573" stop-color="#4ba4b1"/><stop offset="0.585" stop-color="#53adae"/><stop offset="0.598" stop-color="#5bb6aa"/><stop offset="0.610" stop-color="#63bfa6"/><stop offset="0.622" stop-color="#72c7a5"/><stop offset="0.634" stop-color="#87cfa5"/><stop offset="0.646" stop-color="#9cd7a4"/><stop offset="0.659" stop-color="#b0dfa3"/><stop offset="0.671" stop-color="#c1e69f"/><stop offset="0.683" stop-color="#d3ed9c"/><stop offset="0.695" stop-color="#e5f598"/><stop offset="0.707" stop-color="#e7f59a"/><stop offset="0.720" stop-color="#e8f69c"/><stop offset="0.732" stop-color="#eaf69e"/><stop offset="0.744" stop-color="#ebf7a0"/><stop offset="0.756" stop-color="#ecf7a2"/><stop offset="0.768" stop-color="#edf8a4"/><stop offset="0.780" stop-color="#eff8a6"/><stop offset="0.793" stop-color="#f0f9a7"/><stop offset="0.805" stop-color="#f1f9a9"/><stop offset="0.817" stop-color="#f2faab"/><stop offset="0.829" stop-color="#f0f9a8"/><stop offset="0.841" stop-color="#edf8a3"/><stop offset="0.854" stop-color="#ebf79f"/><stop offset="0.866" stop-color="#e8f69b"/><stop offset="0.878" stop-color="#e2f399"/><stop offset="0.890" stop-color="#d3ed9c"/><stop offset="0.902" stop-color="#c5e79f"/><stop offset="0.915" stop-color="#b6e1a2"/><stop offset="0.927" stop-color="#a6dba4"/><stop offset="0.939" stop-color="#95d4a4"/><stop offset="0.951" stop-color="#84cea5"/><stop offset="0.963" stop-color="#73c7a5"/><stop offset="0.976" stop-color="#63bfa6"/><stop offset="0.988" stop-color="#57b2ac"/><stop offset="1.000" stop-color="#4ca5b1"/></linearGradient><linearGradient id="ge1" x1="0" y1="0" x2="0" y2="1"><stop offset="0.000" stop-color="#3288bd"/><stop offset="0.012" stop-color="#82cda5"/><stop offset="0.024" stop-color="#e0f399"/><stop offset="0.037" stop-color="#e8f69c"/><stop offset="0.049" stop-color="#ebf7a0"/><stop offset="0.061" stop-color="#edf8a3"/><stop offset="0.073" stop-color="#f0f9a7"/><stop offset="0.085" stop-color="#f2faab"/><stop offset="0.098" stop-color="#f2faac"/><stop offset="0.207" stop-color="#f2faac"/><stop offset="0.220" stop-color="#f6fbb1"/><stop offset="0.232" stop-color="#fafdb7"/><stop offset="0.244" stop-color="#fefebd"/><stop offset="0.256" stop-color="#fafdb8"/><stop offset="0.268" stop-color="#f3faac"/><stop offset="0.280" stop-color="#ebf7a1"/><stop offset="0.293" stop-color="#dff299"/><stop offset="0.305" stop-color="#c4e79f"/><stop offset="0.317" stop-color="#aadca4"/><stop offset="0.329" stop-color="#8bd0a4"/><stop offset="0.341" stop-color="#6cc4a5"/><stop offset="0.354" stop-color="#53adae"/><stop offset="0.366" stop-color="#3b92b9"/><stop offset="0.378" stop-color="#3683bb"/><stop offset="0.390" stop-color="#3d7ab7"/><stop offset="0.402" stop-color="#4372b2"/><stop offset="0.415" stop-color="#486cb0"/><stop offset="0.488" stop-color="#486cb0"/><stop offset="0.500" stop-color="#4471b2"/><stop offset="0.512" stop-color="#3d79b6"/><stop offset="0.524" stop-color="#3782ba"/><stop offset="0.537" stop-color="#348abc"/><stop offset="0.549" stop-color="#3c93b8"/><stop offset="0.561" stop-color="#449cb5"/><stop offset="0.573" stop-color="#4ba4b1"/><stop offset="0.585" stop-color="#53adae"/><stop offset="0.598" stop-color="#5bb6aa"/><stop offset="0.610" stop-color="#63bfa6"/><stop offset="0.622" stop-color="#72c7a5"/><stop offset="0.634" stop-color="#87cfa5"/><stop offset="0.646" stop-color="#9cd7a4"/><stop offset="0.659" stop-color="#b0dfa3"/><stop offset="0.671" stop-color="#c1e69f"/><stop offset="0.683" stop-color="#d3ed9c"/><stop offset="0.695" stop-color="#e5f598"/><stop offset="0.707" stop-color="#e7f59a"/><stop offset="0.720" stop-color="#e8f69c"/><stop offset="0.732" stop-color="#eaf69e"/><stop offset="0.744" stop-color="#ebf7a0"/><stop offset="0.756" stop-color="#ecf7a2"/><stop offset="0.768" stop-color="#edf8a4"/><stop offset="0.780" stop-color="#eff8a6"/><stop offset="0.793" stop-color="#f0f9a7"/><stop offset="0.805" stop-color="#f1f9a9"/><stop offset="0.817" stop-color="#f2faab"/><stop offset="0.829" stop-color="#eef8a4"/><stop offset="0.841" stop-color="#e8f69b"/><stop offset="0.854" stop-color="#def29a"/><stop offset="0.866" stop-color="#d2ed9c"/><stop offset="0.878" stop-color="#c5e79f"/><stop offset="0.890" stop-color="#b6e1a2"/><stop offset="0.902" stop-color="#a6dba4"/><stop offset="0.915" stop-color="#95d4a4"/><stop offset="0.927" stop-color="#84cea5"/><stop offset="0.939" stop-color="#73c7a5"/><stop offset="0.951" stop-color="#63bea7"/><stop offset="0.963" stop-color="#56b0ad"/><stop offset="0.976" stop-color="#49a2b2"/><stop offset="0.988" stop-color="#3d95b8"/><stop offset="1.000" stop-color="#3288bd"/></linearGradient><linearGradient id="ge2" x1="0" y1="0" x2="0" y2="1"><stop offset="0.000" stop-color="#3288bd"/><stop offset="0.012" stop-color="#82cda5"/><stop offset="0.024" stop-color="#e0f399"/><stop offset="0.037" stop-color="#e8f69c"/><stop offset="0.049" stop-color="#ebf7a0"/><stop offset="0.061" stop-color="#edf8a3"/><stop offset="0.073" stop-color="#f0f9a7"/><stop offset="0.085" stop-color="#f2faab"/><stop offset="0.098" stop-color="#f2faac"/><stop offset="0.207" stop-color="#f2faac"/><stop offset="0.220" stop-color="#f6fbb1"/><stop offset="0.232" stop-color="#fafdb7"/><stop offset="0.244" stop-color="#fefebd"/><stop offset="0.256" stop-color="#fafdb8"/><stop offset="0.268" stop-color="#f3faac"/><stop offset="0.280" stop-color="#ebf7a1"/><stop offset="0.293" stop-color="#dff299"/><stop offset="0.305" stop-color="#c4e79f"/><stop offset="0.317" stop-color="#aadca4"/><stop offset="0.329" stop-color="#8bd0a4"/><stop offset="0.341" stop-color="#6cc4a5"/><stop offset="0.354" stop-color="#53adae"/><stop offset="0.366" stop-color="#3b92b9"/><stop offset="0.378" stop-color="#3683bb"/><stop offset="0.390" stop-color="#3d7ab7"/><stop offset="0.402" stop-color="#4372b2"/><stop offset="0.415" stop-color="#486cb0"/><stop offset="0.451" stop-color="#486cb0"/><stop offset="0.463" stop-color="#4273b3"/><stop offset="0.476" stop-color="#3b7cb7"/><stop offset="0.488" stop-color="#3585bb"/><stop offset="0.500" stop-color="#3288bd"/><stop offset="0.524" stop-color="#3288bd"/><stop offset="0.537" stop-color="#348abc"/><stop offset="0.549" stop-color="#3c93b8"/><stop offset="0.561" stop-color="#449cb5"/><stop offset="0.573" stop-color="#4ba4b1"/><stop offset="0.585" stop-color="#53adae"/><stop offset="0.598" stop-color="#5bb6aa"/><stop offset="0.610" stop-color="#63bfa6"/><stop offset="0.622" stop-color="#72c7a5"/><stop offset="0.634" stop-color="#87cfa5"/><stop offset="0.646" stop-color="#9cd7a4"/><stop offset="0.659" stop-color="#b0dfa3"/><stop offset="0.671" stop-color="#c1e69f"/><stop offset="0.683" stop-color="#d3ed9c"/><stop offset="0.695" stop-color="#e5f598"/><stop offset="0.707" stop-color="#e7f59a"/><stop offset="0.720" stop-color="#e8f69c"/><stop offset="0.732" stop-color="#eaf69e"/><stop offset="0.744" stop-color="#ebf7a0"/><stop offset="0.756" stop-color="#ecf7a2"/><stop offset="0.768" stop-color="#edf8a4"/><stop offset="0.780" stop-color="#eff8a6"/><stop offset="0.793" stop-color="#f0f9a7"/><stop offset="0.805" stop-color="#f1f9a9"/><stop offset="0.817" stop-color="#f2faab"/><stop offset="0.829" stop-color="#eef8a4"/><stop offset="0.841" stop-color="#e8f69b"/><stop offset="0.854" stop-color="#def29a"/><stop offset="0.866" stop-color="#d2ed9c"/><stop offset="0.878" stop-color="#c5e79f"/><stop offset="0.890" stop-color="#b6e1a2"/><stop offset="0.902" stop-color="#a6dba4"/><stop offset="0.915" stop-color="#95d4a4"/><stop offset="0.927" stop-color="#84cea5"/><stop offset="0.939" stop-color="#73c7a5"/><stop offset="0.951" stop-color="#63bea7"/><stop offset="0.963" stop-color="#56b0ad"/><stop offset="0.976" stop-color="#49a2b2"/><stop offset="0.988" stop-color="#3d95b8"/><stop offset="1.000" stop-color="#3288bd"/></linearGradient><linearGradient id="ge3" x1="0" y1="0" x2="0" y2="1"><stop offset="0.000" stop-color="#3288bd"/><stop offset="0.012" stop-color="#82cda5"/><stop offset="0.024" stop-color="#e0f399"/><stop offset="0.037" stop-color="#e8f69c"/><stop offset="0.049" stop-color="#ebf7a0"/><stop offset="0.061" stop-color="#edf8a3"/><stop offset="0.073" stop-color="#f0f9a7"/><stop offset="0.085" stop-color="#f2faab"/><stop offset="0.098" stop-color="#f2faac"/><stop offset="0.207" stop-color="#f2faac"/><stop offset="0.220" stop-color="#fafdb6"/><stop offset="0.232" stop-color="#fffdbb"/><stop offset="0.244" stop-color="#fff3ab"/><stop offset="0.256" stop-color="#fff8b3"/><stop offset="0.268" stop-color="#f9fdb6"/><stop offset="0.280" stop-color="#eef8a5"/><stop offset="0.293" stop-color="#dff299"/><stop offset="0.305" stop-color="#c4e79f"/><stop offset="0.317" stop-color="#aadca4"/><stop offset="0.329" stop-color="#8bd0a4"/><stop offset="0.341" stop-color="#6cc4a5"/><stop offset="0.354" stop-color="#53adae"/><stop offset="0.366" stop-color="#3b92b9"/><stop offset="0.378" stop-color="#3683bb"/><stop offset="0.390" stop-color="#3d7ab7"/><stop offset="0.402" stop-color="#4372b2"/><stop offset="0.415" stop-color="#486cb0"/><stop offset="0.451" stop-color="#486cb0"/><stop offset="0.463" stop-color="#4273b3"/><stop offset="0.476" stop-color="#3b7cb7"/><stop offset="0.488" stop-color="#3585bb"/><stop offset="0.500" stop-color="#3288bd"/><stop offset="0.524" stop-color="#3288bd"/><stop offset="0.537" stop-color="#348abc"/><stop offset="0.549" stop-color="#3c93b8"/><stop offset="0.561" stop-color="#449cb5"/><stop offset="0.573" stop-color="#4ba4b1"/><stop offset="0.585" stop-color="#53adae"/><stop offset="0.598" stop-color="#5bb6aa"/><stop offset="0.610" stop-color="#63bfa6"/><stop offset="0.622" stop-color="#72c7a5"/><stop offset="0.634" stop-color="#87cfa5"/><stop offset="0.646" stop-color="#9cd7a4"/><stop offset="0.659" stop-color="#b0dfa3"/><stop offset="0.671" stop-color="#c1e69f"/><stop offset="0.683" stop-color="#d3ed9c"/><stop offset="0.695" stop-color="#e5f598"/><stop offset="0.707" stop-color="#e7f59a"/><stop offset="0.720" stop-color="#e8f69c"/><stop offset="0.732" stop-color="#eaf69e"/><stop offset="0.744" stop-color="#ebf7a0"/><stop offset="0.756" stop-color="#ecf7a2"/><stop offset="0.768" stop-color="#edf8a4"/><stop offset="0.780" stop-color="#eff8a6"/><stop offset="0.793" stop-color="#f0f9a7"/><stop offset="0.805" stop-color="#f1f9a9"/><stop offset="0.817" stop-color="#f2faab"/><stop offset="0.829" stop-color="#eef8a4"/><stop offset="0.841" stop-color="#e8f69b"/><stop offset="0.854" stop-color="#def29a"/><stop offset="0.866" stop-color="#d2ed9c"/><stop offset="0.878" stop-color="#c5e79f"/><stop offset="0.890" stop-color="#b6e1a2"/><stop offset="0.902" stop-color="#a6dba4"/><stop offset="0.915" stop-color="#95d4a4"/><stop offset="0.927" stop-color="#84cea5"/><stop offset="0.939" stop-color="#73c7a5"/><stop offset="0.951" stop-color="#63bea7"/><stop offset="0.963" stop-color="#56b0ad"/><stop offset="0.976" stop-color="#49a2b2"/><stop offset="0.988" stop-color="#3d95b8"/><stop offset="1.000" stop-color="#3288bd"/></linearGradient><linearGradient id="ge4" x1="0" y1="0" x2="0" y2="1"><stop offset="0.000" stop-color="#3288bd"/><stop offset="0.012" stop-color="#82cda5"/><stop offset="0.024" stop-color="#e0f399"/><stop offset="0.037" stop-color="#e8f69c"/><stop offset="0.049" stop-color="#ebf7a0"/><stop offset="0.061" stop-color="#edf8a3"/><stop offset="0.073" stop-color="#f0f9a7"/><stop offset="0.085" stop-color="#f2faab"/><stop offset="0.098" stop-color="#f4faad"/><stop offset="0.110" stop-color="#f5fbaf"/><stop offset="0.122" stop-color="#f6fbb1"/><stop offset="0.134" stop-color="#f7fcb3"/><stop offset="0.146" stop-color="#f9fcb5"/><stop offset="0.159" stop-color="#fafdb7"/><stop offset="0.171" stop-color="#fbfdb9"/><stop offset="0.183" stop-color="#fcfebb"/><stop offset="0.195" stop-color="#fefebd"/><stop offset="0.207" stop-color="#ffffbf"/><stop offset="0.220" stop-color="#fff6b0"/><stop offset="0.232" stop-color="#feeda1"/><stop offset="0.244" stop-color="#fee491"/><stop offset="0.256" stop-color="#fee797"/><stop offset="0.268" stop-color="#fff3aa"/><stop offset="0.280" stop-color="#fffebe"/><stop offset="0.293" stop-color="#f2faab"/><stop offset="0.305" stop-color="#e1f399"/><stop offset="0.317" stop-color="#c0e5a0"/><stop offset="0.329" stop-color="#9cd7a4"/><stop offset="0.341" stop-color="#76c8a5"/><stop offset="0.354" stop-color="#5db8a9"/><stop offset="0.366" stop-color="#4da6b1"/><stop offset="0.378" stop-color="#3d95b8"/><stop offset="0.390" stop-color="#3485bc"/><stop offset="0.402" stop-color="#3c7ab7"/><stop offset="0.415" stop-color="#4570b2"/><stop offset="0.427" stop-color="#486cb0"/><stop offset="0.463" stop-color="#486cb0"/><stop offset="0.476" stop-color="#4471b2"/><stop offset="0.488" stop-color="#3d79b6"/><stop offset="0.500" stop-color="#3782ba"/><stop offset="0.512" stop-color="#3288bd"/><stop offset="0.549" stop-color="#3288bd"/><stop offset="0.561" stop-color="#3990ba"/><stop offset="0.573" stop-color="#4199b6"/><stop offset="0.585" stop-color="#49a2b2"/><stop offset="0.598" stop-color="#55afad"/><stop offset="0.610" stop-color="#65c1a5"/><stop offset="0.622" stop-color="#79caa5"/><stop offset="0.634" stop-color="#8fd2a4"/><stop offset="0.646" stop-color="#a9dca4"/><stop offset="0.659" stop-color="#c0e5a0"/><stop offset="0.671" stop-color="#d6ee9b"/><stop offset="0.683" stop-color="#e6f598"/><stop offset="0.695" stop-color="#e7f69a"/><stop offset="0.707" stop-color="#e8f69c"/><stop offset="0.720" stop-color="#eaf69e"/><stop offset="0.732" stop-color="#ebf79f"/><stop offset="0.744" stop-color="#ecf7a1"/><stop offset="0.756" stop-color="#edf8a3"/><stop offset="0.768" stop-color="#eef8a5"/><stop offset="0.780" stop-color="#eff9a6"/><stop offset="0.793" stop-color="#f0f9a8"/><stop offset="0.805" stop-color="#f1faaa"/><stop offset="0.817" stop-color="#f2faab"/><stop offset="0.829" stop-color="#ecf7a1"/><stop offset="0.841" stop-color="#e1f399"/><stop offset="0.854" stop-color="#d0ec9d"/><stop offset="0.866" stop-color="#c0e5a0"/><stop offset="0.878" stop-color="#b1dfa3"/><stop offset="0.890" stop-color="#a1d9a4"/><stop offset="0.902" stop-color="#8fd2a4"/><stop offset="0.915" stop-color="#7ecba5"/><stop offset="0.927" stop-color="#6dc5a5"/><stop offset="0.939" stop-color="#5eb9a9"/><stop offset="0.951" stop-color="#51abaf"/><stop offset="0.963" stop-color="#48a0b3"/><stop offset="0.976" stop-color="#4098b6"/><stop offset="0.988" stop-color="#3990ba"/><stop offset="1.000" stop-color="#3288bd"/></linearGradient><linearGradient id="ge5" x1="0" y1="0" x2="0" y2="1"><stop offset="0.000" stop-color="#3288bd"/><stop offset="0.012" stop-color="#82cda5"/><stop offset="0.024" stop-color="#e0f399"/><stop offset="0.037" stop-color="#e8f69c"/><stop offset="0.049" stop-color="#ebf7a0"/><stop offset="0.061" stop-color="#edf8a3"/><stop offset="0.073" stop-color="#f0f9a7"/><stop offset="0.085" stop-color="#f2faab"/><stop offset="0.098" stop-color="#f5fbaf"/><stop offset="0.110" stop-color="#f7fcb3"/><stop offset="0.122" stop-color="#fafdb7"/><stop offset="0.134" stop-color="#fcfebb"/><stop offset="0.146" stop-color="#ffffbf"/><stop offset="0.159" stop-color="#fffcba"/><stop offset="0.171" stop-color="#fff9b5"/><stop offset="0.183" stop-color="#fff6b0"/><stop offset="0.195" stop-color="#fff3ab"/><stop offset="0.207" stop-color="#fff0a5"/><stop offset="0.220" stop-color="#fedd88"/><stop offset="0.232" stop-color="#fdbf6f"/><stop offset="0.244" stop-color="#fb9d59"/><stop offset="0.256" stop-color="#f88e52"/><stop offset="0.268" stop-color="#f88e52"/><stop offset="0.280" stop-color="#fdb768"/><stop offset="0.293" stop-color="#fee99b"/><stop offset="0.305" stop-color="#f4fbae"/><stop offset="0.317" stop-color="#daf09a"/><stop offset="0.329" stop-color="#aedea3"/><stop offset="0.341" stop-color="#82cda5"/><stop offset="0.354" stop-color="#68c3a5"/><stop offset="0.366" stop-color="#54aead"/><stop offset="0.378" stop-color="#4098b6"/><stop offset="0.390" stop-color="#3485bc"/><stop offset="0.402" stop-color="#3c7ab7"/><stop offset="0.415" stop-color="#4570b2"/><stop offset="0.427" stop-color="#4b67ad"/><stop offset="0.439" stop-color="#5160aa"/><stop offset="0.451" stop-color="#5659a7"/><stop offset="0.463" stop-color="#5c52a3"/><stop offset="0.476" stop-color="#5659a7"/><stop offset="0.488" stop-color="#496aaf"/><stop offset="0.500" stop-color="#3c7bb7"/><stop offset="0.512" stop-color="#3288bd"/><stop offset="0.549" stop-color="#3288bd"/><stop offset="0.561" stop-color="#3990ba"/><stop offset="0.573" stop-color="#4199b6"/><stop offset="0.585" stop-color="#49a2b2"/><stop offset="0.598" stop-color="#55afad"/><stop offset="0.610" stop-color="#65c1a5"/><stop offset="0.622" stop-color="#79caa5"/><stop offset="0.634" stop-color="#8fd2a4"/><stop offset="0.646" stop-color="#a9dca4"/><stop offset="0.659" stop-color="#c0e5a0"/><stop offset="0.671" stop-color="#d6ee9b"/><stop offset="0.683" stop-color="#e5f598"/><stop offset="0.695" stop-color="#e3f499"/><stop offset="0.707" stop-color="#e0f399"/><stop offset="0.720" stop-color="#ddf29a"/><stop offset="0.732" stop-color="#dbf09a"/><stop offset="0.744" stop-color="#d8ef9b"/><stop offset="0.756" stop-color="#d6ee9b"/><stop offset="0.768" stop-color="#d3ed9c"/><stop offset="0.780" stop-color="#d0ec9c"/><stop offset="0.793" stop-color="#ceeb9d"/><stop offset="0.805" stop-color="#cbea9d"/><stop offset="0.817" stop-color="#c9e99e"/><stop offset="0.829" stop-color="#b8e2a1"/><stop offset="0.841" stop-color="#a5dba4"/><stop offset="0.854" stop-color="#91d3a4"/><stop offset="0.866" stop-color="#83cda5"/><stop offset="0.878" stop-color="#7bcaa5"/><stop offset="0.890" stop-color="#72c7a5"/><stop offset="0.902" stop-color="#69c3a5"/><stop offset="0.915" stop-color="#62bea7"/><stop offset="0.927" stop-color="#5cb6aa"/><stop offset="0.939" stop-color="#55afad"/><stop offset="0.951" stop-color="#4fa8b0"/><stop offset="0.963" stop-color="#48a0b3"/><stop offset="0.976" stop-color="#4098b6"/><stop offset="0.988" stop-color="#3990ba"/><stop offset="1.000" stop-color="#3288bd"/></linearGradient><linearGradient id="ge6" x1="0" y1="0" x2="0" y2="1"><stop offset="0.000" stop-color="#3288bd"/><stop offset="0.012" stop-color="#82cda5"/><stop offset="0.024" stop-color="#e0f399"/><stop offset="0.037" stop-color="#e8f69c"/><stop offset="0.049" stop-color="#ebf7a0"/><stop offset="0.061" stop-color="#edf8a3"/><stop offset="0.073" stop-color="#f0f9a7"/><stop offset="0.085" stop-color="#f2faab"/><stop offset="0.098" stop-color="#f2faac"/><stop offset="0.207" stop-color="#f2faac"/><stop offset="0.220" stop-color="#f6fbb1"/><stop offset="0.232" stop-color="#fafdb7"/><stop offset="0.244" stop-color="#fefebd"/><stop offset="0.256" stop-color="#fafdb8"/><stop offset="0.268" stop-color="#f3faac"/><stop offset="0.280" stop-color="#ebf7a1"/><stop offset="0.293" stop-color="#dff299"/><stop offset="0.305" stop-color="#c4e79f"/><stop offset="0.317" stop-color="#aadca4"/><stop offset="0.329" stop-color="#8bd0a4"/><stop offset="0.341" stop-color="#6cc4a5"/><stop offset="0.354" stop-color="#53adae"/><stop offset="0.366" stop-color="#3b92b9"/><stop offset="0.378" stop-color="#3683bb"/><stop offset="0.390" stop-color="#3d7ab7"/><stop offset="0.402" stop-color="#4372b2"/><stop offset="0.415" stop-color="#4a69ae"/><stop offset="0.427" stop-color="#5061aa"/><stop offset="0.439" stop-color="#5758a6"/><stop offset="0.451" stop-color="#5e50a2"/><stop offset="0.463" stop-color="#525faa"/><stop offset="0.476" stop-color="#4470b2"/><stop offset="0.488" stop-color="#3781ba"/><stop offset="0.500" stop-color="#3288bd"/><stop offset="0.524" stop-color="#3288bd"/><stop offset="0.537" stop-color="#348abc"/><stop offset="0.549" stop-color="#3c93b8"/><stop offset="0.561" stop-color="#449cb5"/><stop offset="0.573" stop-color="#4ba4b1"/><stop offset="0.585" stop-color="#53adae"/><stop offset="0.598" stop-color="#5bb6aa"/><stop offset="0.610" stop-color="#63bfa6"/><stop offset="0.622" stop-color="#72c7a5"/><stop offset="0.634" stop-color="#87cfa5"/><stop offset="0.646" stop-color="#9cd7a4"/><stop offset="0.659" stop-color="#b0dfa3"/><stop offset="0.671" stop-color="#c1e69f"/><stop offset="0.683" stop-color="#d3ed9c"/><stop offset="0.695" stop-color="#e5f598"/><stop offset="0.707" stop-color="#e7f59a"/><stop offset="0.720" stop-color="#e8f69c"/><stop offset="0.732" stop-color="#eaf69e"/><stop offset="0.744" stop-color="#ebf7a0"/><stop offset="0.756" stop-color="#ecf7a2"/><stop offset="0.768" stop-color="#edf8a4"/><stop offset="0.780" stop-color="#eff8a6"/><stop offset="0.793" stop-color="#f0f9a7"/><stop offset="0.805" stop-color="#f1f9a9"/><stop offset="0.817" stop-color="#f2faab"/><stop offset="0.829" stop-color="#eef8a4"/><stop offset="0.841" stop-color="#e8f69b"/><stop offset="0.854" stop-color="#def29a"/><stop offset="0.866" stop-color="#d2ed9c"/><stop offset="0.878" stop-color="#c5e79f"/><stop offset="0.890" stop-color="#b6e1a2"/><stop offset="0.902" stop-color="#a6dba4"/><stop offset="0.915" stop-color="#95d4a4"/><stop offset="0.927" stop-color="#84cea5"/><stop offset="0.939" stop-color="#73c7a5"/><stop offset="0.951" stop-color="#63bea7"/><stop offset="0.963" stop-color="#56b0ad"/><stop offset="0.976" stop-color="#49a2b2"/><stop offset="0.988" stop-color="#3d95b8"/><stop offset="1.000" stop-color="#3288bd"/></linearGradient><linearGradient id="ge7" x1="0" y1="0" x2="0" y2="1"><stop offset="0.000" stop-color="#3288bd"/><stop offset="0.012" stop-color="#82cda5"/><stop offset="0.024" stop-color="#e0f399"/><stop offset="0.037" stop-color="#e8f69c"/><stop offset="0.049" stop-color="#ebf7a0"/><stop offset="0.061" stop-color="#edf8a3"/><stop offset="0.073" stop-color="#f0f9a7"/><stop offset="0.085" stop-color="#f2faab"/><stop offset="0.098" stop-color="#f2faac"/><stop offset="0.207" stop-color="#f2faac"/><stop offset="0.220" stop-color="#f6fbb1"/><stop offset="0.232" stop-color="#fafdb7"/><stop offset="0.244" stop-color="#fefebd"/><stop offset="0.256" stop-color="#fafdb8"/><stop offset="0.268" stop-color="#f3faac"/><stop offset="0.280" stop-color="#ebf7a1"/><stop offset="0.293" stop-color="#dff299"/><stop offset="0.305" stop-color="#c4e79f"/><stop offset="0.317" stop-color="#aadca4"/><stop offset="0.329" stop-color="#8bd0a4"/><stop offset="0.341" stop-color="#6cc4a5"/><stop offset="0.354" stop-color="#53adae"/><stop offset="0.366" stop-color="#3b92b9"/><stop offset="0.378" stop-color="#3683bb"/><stop offset="0.390" stop-color="#3d7ab7"/><stop offset="0.402" stop-color="#4372b2"/><stop offset="0.415" stop-color="#486cb0"/><stop offset="0.451" stop-color="#486cb0"/><stop offset="0.463" stop-color="#4273b3"/><stop offset="0.476" stop-color="#3b7cb7"/><stop offset="0.488" stop-color="#3585bb"/><stop offset="0.500" stop-color="#3288bd"/><stop offset="0.524" stop-color="#3288bd"/><stop offset="0.537" stop-color="#348abc"/><stop offset="0.549" stop-color="#3c93b8"/><stop offset="0.561" stop-color="#449cb5"/><stop offset="0.573" stop-color="#4ba4b1"/><stop offset="0.585" stop-color="#53adae"/><stop offset="0.598" stop-color="#5bb6aa"/><stop offset="0.610" stop-color="#63bfa6"/><stop offset="0.622" stop-color="#72c7a5"/><stop offset="0.634" stop-color="#87cfa5"/><stop offset="0.646" stop-color="#9cd7a4"/><stop offset="0.659" stop-color="#b0dfa3"/><stop offset="0.671" stop-color="#c1e69f"/><stop offset="0.683" stop-color="#d3ed9c"/><stop offset="0.695" stop-color="#e5f598"/><stop offset="0.707" stop-color="#e7f59a"/><stop offset="0.720" stop-color="#e8f69c"/><stop offset="0.732" stop-color="#eaf69e"/><stop offset="0.744" stop-color="#ebf7a0"/><stop offset="0.756" stop-color="#ecf7a2"/><stop offset="0.768" stop-color="#edf8a4"/><stop offset="0.780" stop-color="#eff8a6"/><stop offset="0.793" stop-color="#f0f9a7"/><stop offset="0.805" stop-color="#f1f9a9"/><stop offset="0.817" stop-color="#f2faab"/><stop offset="0.829" stop-color="#eef8a4"/><stop offset="0.841" stop-color="#e8f69b"/><stop offset="0.854" stop-color="#def29a"/><stop offset="0.866" stop-color="#d2ed9c"/><stop offset="0.878" stop-color="#c5e79f"/><stop offset="0.890" stop-color="#b6e1a2"/><stop offset="0.902" stop-color="#a6dba4"/><stop offset="0.915" stop-color="#95d4a4"/><stop offset="0.927" stop-color="#84cea5"/><stop offset="0.939" stop-color="#73c7a5"/><stop offset="0.951" stop-color="#63bea7"/><stop offset="0.963" stop-color="#56b0ad"/><stop offset="0.976" stop-color="#49a2b2"/><stop offset="0.988" stop-color="#3d95b8"/><stop offset="1.000" stop-color="#3288bd"/></linearGradient><linearGradient id="ge8" x1="0" y1="0" x2="0" y2="1"><stop offset="0.000" stop-color="#3288bd"/><stop offset="0.012" stop-color="#82cda5"/><stop offset="0.024" stop-color="#e0f399"/><stop offset="0.037" stop-color="#e8f69c"/><stop offset="0.049" stop-color="#ebf7a0"/><stop offset="0.061" stop-color="#edf8a3"/><stop offset="0.073" stop-color="#f0f9a7"/><stop offset="0.085" stop-color="#f2faab"/><stop offset="0.098" stop-color="#f2faac"/><stop offset="0.207" stop-color="#f2faac"/><stop offset="0.220" stop-color="#f6fbb1"/><stop offset="0.232" stop-color="#fafdb7"/><stop offset="0.244" stop-color="#fefebd"/><stop offset="0.256" stop-color="#fafdb8"/><stop offset="0.268" stop-color="#f3faac"/><stop offset="0.280" stop-color="#ebf7a1"/><stop offset="0.293" stop-color="#dff299"/><stop offset="0.305" stop-color="#c4e79f"/><stop offset="0.317" stop-color="#aadca4"/><stop offset="0.329" stop-color="#8bd0a4"/><stop offset="0.341" stop-color="#6cc4a5"/><stop offset="0.354" stop-color="#53adae"/><stop offset="0.366" stop-color="#3b92b9"/><stop offset="0.378" stop-color="#3683bb"/><stop offset="0.390" stop-color="#3d7ab7"/><stop offset="0.402" stop-color="#4372b2"/><stop offset="0.415" stop-color="#486cb0"/><stop offset="0.451" stop-color="#486cb0"/><stop offset="0.463" stop-color="#4273b3"/><stop offset="0.476" stop-color="#3b7cb7"/><stop offset="0.488" stop-color="#3585bb"/><stop offset="0.500" stop-color="#3288bd"/><stop offset="0.524" stop-color="#3288bd"/><stop offset="0.537" stop-color="#348abc"/><stop offset="0.549" stop-color="#3c93b8"/><stop offset="0.561" stop-color="#449cb5"/><stop offset="0.573" stop-color="#4ba4b1"/><stop offset="0.585" stop-color="#53adae"/><stop offset="0.598" stop-color="#5bb6aa"/><stop offset="0.610" stop-color="#63bfa6"/><stop offset="0.622" stop-color="#72c7a5"/><stop offset="0.634" stop-color="#87cfa5"/><stop offset="0.646" stop-color="#9cd7a4"/><stop offset="0.659" stop-color="#b2e0a3"/><stop offset="0.671" stop-color="#cdeb9d"/><stop offset="0.683" stop-color="#e6f599"/><stop offset="0.695" stop-color="#f2faaa"/><stop offset="0.707" stop-color="#f2faac"/><stop offset="0.720" stop-color="#f3faac"/><stop offset="0.732" stop-color="#f2faac"/><stop offset="0.744" stop-color="#f3faac"/><stop offset="0.756" stop-color="#f2faac"/><stop offset="0.768" stop-color="#f3faac"/><stop offset="0.780" stop-color="#f3faac"/><stop offset="0.793" stop-color="#f2faac"/><stop offset="0.817" stop-color="#f2faac"/><stop offset="0.829" stop-color="#eef8a4"/><stop offset="0.841" stop-color="#e8f69b"/><stop offset="0.854" stop-color="#def29a"/><stop offset="0.866" stop-color="#d2ed9c"/><stop offset="0.878" stop-color="#c5e79f"/><stop offset="0.890" stop-color="#b6e1a2"/><stop offset="0.902" stop-color="#a6dba4"/><stop offset="0.915" stop-color="#95d4a4"/><stop offset="0.927" stop-color="#84cea5"/><stop offset="0.939" stop-color="#73c7a5"/><stop offset="0.951" stop-color="#63bea7"/><stop offset="0.963" stop-color="#56b0ad"/><stop offset="0.976" stop-color="#49a2b2"/><stop offset="0.988" stop-color="#3d95b8"/><stop offset="1.000" stop-color="#3288bd"/></linearGradient><linearGradient id="ge9" x1="0" y1="0" x2="0" y2="1"><stop offset="0.000" stop-color="#3288bd"/><stop offset="0.012" stop-color="#82cda5"/><stop offset="0.024" stop-color="#e0f399"/><stop offset="0.037" stop-color="#e8f69c"/><stop offset="0.049" stop-color="#ebf7a0"/><stop offset="0.061" stop-color="#edf8a3"/><stop offset="0.073" stop-color="#f0f9a7"/><stop offset="0.085" stop-color="#f2faab"/><stop offset="0.098" stop-color="#f2faac"/><stop offset="0.207" stop-color="#f2faac"/><stop offset="0.220" stop-color="#f6fbb1"/><stop offset="0.232" stop-color="#fafdb7"/><stop offset="0.244" stop-color="#fefebd"/><stop offset="0.256" stop-color="#fafdb8"/><stop offset="0.268" stop-color="#f3faac"/><stop offset="0.280" stop-color="#ebf7a1"/><stop offset="0.293" stop-color="#dff299"/><stop offset="0.305" stop-color="#c4e79f"/><stop offset="0.317" stop-color="#aadca4"/><stop offset="0.329" stop-color="#8bd0a4"/><stop offset="0.341" stop-color="#6cc4a5"/><stop offset="0.354" stop-color="#53adae"/><stop offset="0.366" stop-color="#3b92b9"/><stop offset="0.378" stop-color="#3683bb"/><stop offset="0.390" stop-color="#3d7ab7"/><stop offset="0.402" stop-color="#4372b2"/><stop offset="0.415" stop-color="#4a69ae"/><stop offset="0.427" stop-color="#5061aa"/><stop offset="0.439" stop-color="#5758a6"/><stop offset="0.451" stop-color="#5e50a2"/><stop offset="0.463" stop-color="#525faa"/><stop offset="0.476" stop-color="#4470b2"/><stop offset="0.488" stop-color="#3781ba"/><stop offset="0.500" stop-color="#3288bd"/><stop offset="0.524" stop-color="#3288bd"/><stop offset="0.537" stop-color="#348abc"/><stop offset="0.549" stop-color="#3c93b8"/><stop offset="0.561" stop-color="#449cb5"/><stop offset="0.573" stop-color="#4ba4b1"/><stop offset="0.585" stop-color="#53adae"/><stop offset="0.598" stop-color="#5bb6aa"/><stop offset="0.610" stop-color="#63bfa6"/><stop offset="0.622" stop-color="#72c7a5"/><stop offset="0.634" stop-color="#87cfa5"/><stop offset="0.646" stop-color="#9cd7a4"/><stop offset="0.659" stop-color="#b0dfa3"/><stop offset="0.671" stop-color="#c1e69f"/><stop offset="0.683" stop-color="#d3ed9c"/><stop offset="0.695" stop-color="#e5f598"/><stop offset="0.707" stop-color="#e7f59a"/><stop offset="0.720" stop-color="#e8f69c"/><stop offset="0.732" stop-color="#eaf69e"/><stop offset="0.744" stop-color="#ebf7a0"/><stop offset="0.756" stop-color="#ecf7a2"/><stop offset="0.768" stop-color="#edf8a4"/><stop offset="0.780" stop-color="#eff8a6"/><stop offset="0.793" stop-color="#f0f9a7"/><stop offset="0.805" stop-color="#f1f9a9"/><stop offset="0.817" stop-color="#f2faab"/><stop offset="0.829" stop-color="#eef8a4"/><stop offset="0.841" stop-color="#e8f69b"/><stop offset="0.854" stop-color="#def29a"/><stop offset="0.866" stop-color="#d2ed9c"/><stop offset="0.878" stop-color="#c5e79f"/><stop offset="0.890" stop-color="#b6e1a2"/><stop offset="0.902" stop-color="#a6dba4"/><stop offset="0.915" stop-color="#95d4a4"/><stop offset="0.927" stop-color="#84cea5"/><stop offset="0.939" stop-color="#73c7a5"/><stop offset="0.951" stop-color="#63bea7"/><stop offset="0.963" stop-color="#56b0ad"/><stop offset="0.976" stop-color="#49a2b2"/><stop offset="0.988" stop-color="#3d95b8"/><stop offset="1.000" stop-color="#3288bd"/></linearGradient><linearGradient id="ge10" x1="0" y1="0" x2="0" y2="1"><stop offset="0.000" stop-color="#3288bd"/><stop offset="0.012" stop-color="#82cda5"/><stop offset="0.024" stop-color="#e0f399"/><stop offset="0.037" stop-color="#e8f69c"/><stop offset="0.049" stop-color="#ebf7a0"/><stop offset="0.061" stop-color="#edf8a3"/><stop offset="0.073" stop-color="#f0f9a7"/><stop offset="0.085" stop-color="#f2faab"/><stop offset="0.098" stop-color="#f2faac"/><stop offset="0.207" stop-color="#f2faac"/><stop offset="0.220" stop-color="#f3faac"/><stop offset="0.232" stop-color="#f3faac"/><stop offset="0.244" stop-color="#f2faac"/><stop offset="0.256" stop-color="#eef8a4"/><stop offset="0.268" stop-color="#e6f599"/><stop offset="0.280" stop-color="#d5ee9b"/><stop offset="0.293" stop-color="#c1e69f"/><stop offset="0.305" stop-color="#a6dba4"/><stop offset="0.317" stop-color="#87cfa5"/><stop offset="0.329" stop-color="#68c3a5"/><stop offset="0.341" stop-color="#57b2ac"/><stop offset="0.354" stop-color="#48a0b3"/><stop offset="0.366" stop-color="#388fba"/><stop offset="0.378" stop-color="#3683bb"/><stop offset="0.390" stop-color="#3d7ab7"/><stop offset="0.402" stop-color="#4372b2"/><stop offset="0.415" stop-color="#4a69ae"/><stop offset="0.427" stop-color="#5061aa"/><stop offset="0.439" stop-color="#5758a6"/><stop offset="0.451" stop-color="#5e50a2"/><stop offset="0.463" stop-color="#5857a6"/><stop offset="0.476" stop-color="#5160aa"/><stop offset="0.488" stop-color="#4b68ae"/><stop offset="0.500" stop-color="#4471b2"/><stop offset="0.512" stop-color="#3d79b6"/><stop offset="0.524" stop-color="#3782ba"/><stop offset="0.537" stop-color="#348abc"/><stop offset="0.549" stop-color="#3c93b8"/><stop offset="0.561" stop-color="#449cb5"/><stop offset="0.573" stop-color="#4ba4b1"/><stop offset="0.585" stop-color="#53adae"/><stop offset="0.598" stop-color="#5bb6aa"/><stop offset="0.610" stop-color="#63bfa6"/><stop offset="0.622" stop-color="#72c7a5"/><stop offset="0.634" stop-color="#87cfa5"/><stop offset="0.646" stop-color="#9cd7a4"/><stop offset="0.659" stop-color="#b0dfa3"/><stop offset="0.671" stop-color="#c1e69f"/><stop offset="0.683" stop-color="#d3ed9c"/><stop offset="0.695" stop-color="#e5f598"/><stop offset="0.707" stop-color="#e6f598"/><stop offset="0.817" stop-color="#e6f598"/><stop offset="0.829" stop-color="#e0f399"/><stop offset="0.841" stop-color="#daf09a"/><stop offset="0.854" stop-color="#d3ed9c"/><stop offset="0.866" stop-color="#cdeb9d"/><stop offset="0.878" stop-color="#c5e79f"/><stop offset="0.890" stop-color="#b6e1a2"/><stop offset="0.902" stop-color="#a6dba4"/><stop offset="0.915" stop-color="#95d4a4"/><stop offset="0.927" stop-color="#84cea5"/><stop offset="0.939" stop-color="#73c7a5"/><stop offset="0.951" stop-color="#63bea7"/><stop offset="0.963" stop-color="#56b0ad"/><stop offset="0.976" stop-color="#49a2b2"/><stop offset="0.988" stop-color="#3d95b8"/><stop offset="1.000" stop-color="#3288bd"/></linearGradient><linearGradient id="ge11" x1="0" y1="0" x2="0" y2="1"><stop offset="0.000" stop-color="#3288bd"/><stop offset="0.012" stop-color="#82cda5"/><stop offset="0.024" stop-color="#e0f399"/><stop offset="0.037" stop-color="#e8f69c"/><stop offset="0.049" stop-color="#ebf7a0"/><stop offset="0.061" stop-color="#edf8a3"/><stop offset="0.073" stop-color="#f0f9a7"/><stop offset="0.085" stop-color="#f2faab"/><stop offset="0.098" stop-color="#f1faaa"/><stop offset="0.110" stop-color="#f0f9a8"/><stop offset="0.122" stop-color="#eff9a6"/><stop offset="0.134" stop-color="#eef8a4"/><stop offset="0.146" stop-color="#ecf8a2"/><stop offset="0.159" stop-color="#ebf7a0"/><stop offset="0.171" stop-color="#eaf79e"/><stop offset="0.183" stop-color="#e9f69c"/><stop offset="0.195" stop-color="#e7f69a"/><stop offset="0.207" stop-color="#e6f598"/><stop offset="0.220" stop-color="#def29a"/><stop offset="0.232" stop-color="#d5ee9b"/><stop offset="0.244" stop-color="#ccea9d"/><stop offset="0.256" stop-color="#bee5a0"/><stop offset="0.268" stop-color="#acdda4"/><stop offset="0.280" stop-color="#98d5a4"/><stop offset="0.293" stop-color="#83cda5"/><stop offset="0.305" stop-color="#6ec5a5"/><stop offset="0.317" stop-color="#5db8a9"/><stop offset="0.329" stop-color="#4da6b1"/><stop offset="0.341" stop-color="#459db4"/><stop offset="0.354" stop-color="#3d94b8"/><stop offset="0.366" stop-color="#358bbc"/><stop offset="0.378" stop-color="#3288bd"/><stop offset="0.402" stop-color="#3288bd"/><stop offset="0.415" stop-color="#3486bc"/><stop offset="0.427" stop-color="#3a7db8"/><stop offset="0.439" stop-color="#4175b4"/><stop offset="0.451" stop-color="#486cb0"/><stop offset="0.463" stop-color="#4273b3"/><stop offset="0.476" stop-color="#3b7cb7"/><stop offset="0.488" stop-color="#3585bb"/><stop offset="0.500" stop-color="#378dbb"/><stop offset="0.512" stop-color="#3e96b7"/><stop offset="0.524" stop-color="#469fb4"/><stop offset="0.537" stop-color="#4ea7b0"/><stop offset="0.549" stop-color="#56b0ac"/><stop offset="0.561" stop-color="#5eb9a9"/><stop offset="0.573" stop-color="#65c1a5"/><stop offset="0.585" stop-color="#74c7a5"/><stop offset="0.598" stop-color="#83cda5"/><stop offset="0.610" stop-color="#91d3a4"/><stop offset="0.622" stop-color="#a0d9a4"/><stop offset="0.634" stop-color="#acdea4"/><stop offset="0.646" stop-color="#b2e0a3"/><stop offset="0.659" stop-color="#b8e2a1"/><stop offset="0.671" stop-color="#bde4a0"/><stop offset="0.683" stop-color="#c3e79f"/><stop offset="0.695" stop-color="#c8e99e"/><stop offset="0.707" stop-color="#c5e79f"/><stop offset="0.720" stop-color="#c1e6a0"/><stop offset="0.732" stop-color="#bde4a0"/><stop offset="0.744" stop-color="#b9e3a1"/><stop offset="0.756" stop-color="#b5e1a2"/><stop offset="0.768" stop-color="#b1dfa3"/><stop offset="0.780" stop-color="#addea4"/><stop offset="0.793" stop-color="#8cd1a4"/><stop offset="0.805" stop-color="#5cb6aa"/><stop offset="0.817" stop-color="#358bbc"/><stop offset="0.829" stop-color="#4da6b0"/><stop offset="0.841" stop-color="#6cc4a5"/><stop offset="0.854" stop-color="#8bd0a4"/><stop offset="0.866" stop-color="#93d4a4"/><stop offset="0.878" stop-color="#9cd7a4"/><stop offset="0.890" stop-color="#a5dba4"/><stop offset="0.902" stop-color="#a7dba4"/><stop offset="0.915" stop-color="#98d6a4"/><stop offset="0.927" stop-color="#89d0a4"/><stop offset="0.939" stop-color="#7bcaa5"/><stop offset="0.951" stop-color="#6cc4a5"/><stop offset="0.963" stop-color="#62bda7"/><stop offset="0.976" stop-color="#5ab5aa"/><stop offset="0.988" stop-color="#53adae"/><stop offset="1.000" stop-color="#4ca5b1"/></linearGradient><linearGradient id="ge12" x1="0" y1="0" x2="0" y2="1"><stop offset="0.000" stop-color="#3288bd"/><stop offset="0.012" stop-color="#b9e3a1"/><stop offset="0.024" stop-color="#fffbb9"/><stop offset="0.037" stop-color="#feeda1"/><stop offset="0.049" stop-color="#fedf8a"/><stop offset="0.061" stop-color="#fec877"/><stop offset="0.073" stop-color="#fec776"/><stop offset="0.122" stop-color="#fec776"/><stop offset="0.134" stop-color="#fecd7b"/><stop offset="0.146" stop-color="#fed683"/><stop offset="0.159" stop-color="#fedf8a"/><stop offset="0.171" stop-color="#fee594"/><stop offset="0.183" stop-color="#feeb9e"/><stop offset="0.195" stop-color="#fff2a9"/><stop offset="0.207" stop-color="#fffbb9"/><stop offset="0.220" stop-color="#fafdb8"/><stop offset="0.232" stop-color="#f3faac"/><stop offset="0.244" stop-color="#e2f499"/><stop offset="0.256" stop-color="#bfe5a0"/><stop offset="0.268" stop-color="#99d6a4"/><stop offset="0.280" stop-color="#7bcaa5"/><stop offset="0.293" stop-color="#65c1a5"/><stop offset="0.305" stop-color="#55afad"/><stop offset="0.317" stop-color="#449cb5"/><stop offset="0.329" stop-color="#3389bc"/><stop offset="0.341" stop-color="#3288bd"/><stop offset="0.488" stop-color="#3288bd"/><stop offset="0.500" stop-color="#378dbb"/><stop offset="0.512" stop-color="#3e96b7"/><stop offset="0.524" stop-color="#469fb4"/><stop offset="0.537" stop-color="#4ea7b0"/><stop offset="0.549" stop-color="#56b0ac"/><stop offset="0.561" stop-color="#5eb9a9"/><stop offset="0.573" stop-color="#65c1a5"/><stop offset="0.585" stop-color="#79caa5"/><stop offset="0.598" stop-color="#8ed2a4"/><stop offset="0.610" stop-color="#a3daa4"/><stop offset="0.622" stop-color="#b6e1a2"/><stop offset="0.634" stop-color="#c7e99e"/><stop offset="0.646" stop-color="#d9f09b"/><stop offset="0.659" stop-color="#e7f59a"/><stop offset="0.671" stop-color="#ebf79f"/><stop offset="0.683" stop-color="#eef8a5"/><stop offset="0.695" stop-color="#f2faab"/><stop offset="0.707" stop-color="#f2faac"/><stop offset="0.720" stop-color="#f3faac"/><stop offset="0.732" stop-color="#f2faac"/><stop offset="0.744" stop-color="#f3faac"/><stop offset="0.756" stop-color="#f2faac"/><stop offset="0.768" stop-color="#f3faac"/><stop offset="0.780" stop-color="#f3faac"/><stop offset="0.793" stop-color="#f2faac"/><stop offset="0.817" stop-color="#f2faac"/><stop offset="0.829" stop-color="#eef8a4"/><stop offset="0.841" stop-color="#e8f69b"/><stop offset="0.854" stop-color="#def29a"/><stop offset="0.866" stop-color="#d2ed9c"/><stop offset="0.878" stop-color="#c3e79f"/><stop offset="0.890" stop-color="#acdea4"/><stop offset="0.902" stop-color="#93d4a4"/><stop offset="0.915" stop-color="#79c9a5"/><stop offset="0.927" stop-color="#62bda7"/><stop offset="0.939" stop-color="#52acae"/><stop offset="0.951" stop-color="#439bb5"/><stop offset="0.963" stop-color="#3389bd"/><stop offset="0.976" stop-color="#3288bd"/><stop offset="1.000" stop-color="#3288bd"/></linearGradient><linearGradient id="ge13" x1="0" y1="0" x2="0" y2="1"><stop offset="0.000" stop-color="#4ca5b1"/><stop offset="0.012" stop-color="#d4ee9c"/><stop offset="0.024" stop-color="#fedd89"/><stop offset="0.037" stop-color="#fca65d"/><stop offset="0.049" stop-color="#fa9857"/><stop offset="0.061" stop-color="#f88a50"/><stop offset="0.073" stop-color="#f67c4a"/><stop offset="0.085" stop-color="#f46e43"/><stop offset="0.098" stop-color="#f46d43"/><stop offset="0.134" stop-color="#f46d43"/><stop offset="0.146" stop-color="#f57647"/><stop offset="0.159" stop-color="#fa9656"/><stop offset="0.171" stop-color="#fdb567"/><stop offset="0.183" stop-color="#fece7c"/><stop offset="0.195" stop-color="#fee28f"/><stop offset="0.207" stop-color="#feec9f"/><stop offset="0.220" stop-color="#fff5ae"/><stop offset="0.232" stop-color="#fffebe"/><stop offset="0.244" stop-color="#f1f9a9"/><stop offset="0.256" stop-color="#ddf19a"/><stop offset="0.268" stop-color="#b9e3a1"/><stop offset="0.280" stop-color="#99d6a4"/><stop offset="0.293" stop-color="#7ccaa5"/><stop offset="0.305" stop-color="#60bba8"/><stop offset="0.317" stop-color="#4aa3b2"/><stop offset="0.329" stop-color="#338abc"/><stop offset="0.341" stop-color="#3288bd"/><stop offset="0.451" stop-color="#3288bd"/><stop offset="0.463" stop-color="#378ebb"/><stop offset="0.476" stop-color="#3d94b8"/><stop offset="0.488" stop-color="#429ab5"/><stop offset="0.500" stop-color="#48a0b3"/><stop offset="0.512" stop-color="#4ea7b0"/><stop offset="0.524" stop-color="#56b0ac"/><stop offset="0.537" stop-color="#5eb9a9"/><stop offset="0.549" stop-color="#65c1a5"/><stop offset="0.561" stop-color="#79caa5"/><stop offset="0.573" stop-color="#8ed2a4"/><stop offset="0.585" stop-color="#a3daa4"/><stop offset="0.598" stop-color="#b0dfa3"/><stop offset="0.610" stop-color="#b9e3a1"/><stop offset="0.622" stop-color="#c2e69f"/><stop offset="0.634" stop-color="#cceb9d"/><stop offset="0.646" stop-color="#dbf19a"/><stop offset="0.659" stop-color="#e8f69b"/><stop offset="0.671" stop-color="#eef8a4"/><stop offset="0.683" stop-color="#f2faac"/><stop offset="0.695" stop-color="#f2faac"/><stop offset="0.707" stop-color="#f3faac"/><stop offset="0.720" stop-color="#f2faac"/><stop offset="0.780" stop-color="#f2faac"/><stop offset="0.793" stop-color="#f3faac"/><stop offset="0.805" stop-color="#f2faac"/><stop offset="0.817" stop-color="#f2faac"/><stop offset="0.829" stop-color="#eef8a4"/><stop offset="0.841" stop-color="#e8f69b"/><stop offset="0.854" stop-color="#def29a"/><stop offset="0.866" stop-color="#d2ed9c"/><stop offset="0.878" stop-color="#c3e79f"/><stop offset="0.890" stop-color="#acdea4"/><stop offset="0.902" stop-color="#93d4a4"/><stop offset="0.915" stop-color="#79c9a5"/><stop offset="0.927" stop-color="#62bda7"/><stop offset="0.939" stop-color="#52acae"/><stop offset="0.951" stop-color="#439bb5"/><stop offset="0.963" stop-color="#3389bd"/><stop offset="0.976" stop-color="#3288bd"/><stop offset="1.000" stop-color="#3288bd"/></linearGradient><linearGradient id="ge14" x1="0" y1="0" x2="0" y2="1"><stop offset="0.000" stop-color="#e6f598"/><stop offset="0.012" stop-color="#e8f69b"/><stop offset="0.024" stop-color="#e9f69d"/><stop offset="0.037" stop-color="#ebf7a0"/><stop offset="0.049" stop-color="#edf8a3"/><stop offset="0.061" stop-color="#eff9a6"/><stop offset="0.073" stop-color="#f1f9a9"/><stop offset="0.085" stop-color="#f2faab"/><stop offset="0.098" stop-color="#f2faac"/><stop offset="0.122" stop-color="#f2faac"/><stop offset="0.134" stop-color="#f3faac"/><stop offset="0.146" stop-color="#f2faac"/><stop offset="0.159" stop-color="#f3faac"/><stop offset="0.171" stop-color="#f2faac"/><stop offset="0.183" stop-color="#f2faac"/><stop offset="0.195" stop-color="#edf8a4"/><stop offset="0.207" stop-color="#cbea9d"/><stop offset="0.220" stop-color="#9dd8a4"/><stop offset="0.232" stop-color="#69c3a5"/><stop offset="0.244" stop-color="#5cb6aa"/><stop offset="0.256" stop-color="#50aaaf"/><stop offset="0.268" stop-color="#459eb4"/><stop offset="0.280" stop-color="#3a91b9"/><stop offset="0.293" stop-color="#3288bd"/><stop offset="0.366" stop-color="#3288bd"/><stop offset="0.378" stop-color="#3683bb"/><stop offset="0.390" stop-color="#3d7ab7"/><stop offset="0.402" stop-color="#4372b2"/><stop offset="0.415" stop-color="#476db0"/><stop offset="0.427" stop-color="#4471b2"/><stop offset="0.439" stop-color="#4175b4"/><stop offset="0.451" stop-color="#3d79b6"/><stop offset="0.463" stop-color="#3a7eb8"/><stop offset="0.476" stop-color="#3782ba"/><stop offset="0.488" stop-color="#3386bc"/><stop offset="0.500" stop-color="#378dbb"/><stop offset="0.512" stop-color="#3e96b7"/><stop offset="0.524" stop-color="#469fb4"/><stop offset="0.537" stop-color="#50aaaf"/><stop offset="0.549" stop-color="#60bba8"/><stop offset="0.561" stop-color="#72c7a5"/><stop offset="0.573" stop-color="#87cfa5"/><stop offset="0.585" stop-color="#9cd7a4"/><stop offset="0.598" stop-color="#b0dfa3"/><stop offset="0.610" stop-color="#c1e69f"/><stop offset="0.622" stop-color="#d1ed9c"/><stop offset="0.634" stop-color="#e0f399"/><stop offset="0.646" stop-color="#eaf69e"/><stop offset="0.659" stop-color="#f0f9a8"/><stop offset="0.671" stop-color="#f3faac"/><stop offset="0.683" stop-color="#f4fbae"/><stop offset="0.695" stop-color="#f5fbb0"/><stop offset="0.707" stop-color="#f6fbb1"/><stop offset="0.720" stop-color="#f7fcb3"/><stop offset="0.732" stop-color="#f8fcb4"/><stop offset="0.744" stop-color="#f9fdb6"/><stop offset="0.756" stop-color="#fafdb7"/><stop offset="0.768" stop-color="#fbfdb9"/><stop offset="0.780" stop-color="#fcfeba"/><stop offset="0.793" stop-color="#fdfebc"/><stop offset="0.805" stop-color="#feffbd"/><stop offset="0.817" stop-color="#ffffbf"/><stop offset="0.829" stop-color="#f8fcb3"/><stop offset="0.841" stop-color="#eff9a7"/><stop offset="0.854" stop-color="#e7f69a"/><stop offset="0.866" stop-color="#d6ef9b"/><stop offset="0.878" stop-color="#c3e79f"/><stop offset="0.890" stop-color="#acdea4"/><stop offset="0.902" stop-color="#93d4a4"/><stop offset="0.915" stop-color="#79c9a5"/><stop offset="0.927" stop-color="#62bda7"/><stop offset="0.939" stop-color="#52acae"/><stop offset="0.951" stop-color="#439bb5"/><stop offset="0.963" stop-color="#3389bd"/><stop offset="0.976" stop-color="#397fb9"/><stop offset="0.988" stop-color="#4075b4"/><stop offset="1.000" stop-color="#486cb0"/></linearGradient><linearGradient id="ge15" x1="0" y1="0" x2="0" y2="1"><stop offset="0.000" stop-color="#66c2a5"/><stop offset="0.012" stop-color="#64bfa6"/><stop offset="0.024" stop-color="#61bda7"/><stop offset="0.037" stop-color="#5fbaa8"/><stop offset="0.049" stop-color="#5cb7aa"/><stop offset="0.061" stop-color="#5ab4ab"/><stop offset="0.073" stop-color="#57b1ac"/><stop offset="0.085" stop-color="#55afad"/><stop offset="0.098" stop-color="#52acae"/><stop offset="0.110" stop-color="#50a9af"/><stop offset="0.122" stop-color="#4da6b1"/><stop offset="0.134" stop-color="#4ca5b1"/><stop offset="0.244" stop-color="#4ca5b1"/><stop offset="0.256" stop-color="#49a1b3"/><stop offset="0.268" stop-color="#439bb5"/><stop offset="0.280" stop-color="#3e95b8"/><stop offset="0.293" stop-color="#388fba"/><stop offset="0.305" stop-color="#3288bd"/><stop offset="0.317" stop-color="#3880b9"/><stop offset="0.329" stop-color="#3f77b5"/><stop offset="0.341" stop-color="#456fb1"/><stop offset="0.354" stop-color="#4c66ad"/><stop offset="0.366" stop-color="#535ea9"/><stop offset="0.378" stop-color="#5955a5"/><stop offset="0.390" stop-color="#5d51a3"/><stop offset="0.402" stop-color="#5758a6"/><stop offset="0.415" stop-color="#525faa"/><stop offset="0.427" stop-color="#4c66ad"/><stop offset="0.439" stop-color="#476db0"/><stop offset="0.451" stop-color="#4273b3"/><stop offset="0.463" stop-color="#3d79b6"/><stop offset="0.476" stop-color="#397fb9"/><stop offset="0.488" stop-color="#3486bc"/><stop offset="0.500" stop-color="#3288bd"/><stop offset="0.524" stop-color="#3288bd"/><stop offset="0.537" stop-color="#368dbb"/><stop offset="0.549" stop-color="#469eb4"/><stop offset="0.561" stop-color="#55afad"/><stop offset="0.573" stop-color="#65c1a5"/><stop offset="0.585" stop-color="#79caa5"/><stop offset="0.598" stop-color="#8ed2a4"/><stop offset="0.610" stop-color="#a3daa4"/><stop offset="0.622" stop-color="#b4e1a2"/><stop offset="0.634" stop-color="#c3e79f"/><stop offset="0.646" stop-color="#d1ed9c"/><stop offset="0.659" stop-color="#e0f399"/><stop offset="0.671" stop-color="#e7f599"/><stop offset="0.683" stop-color="#e8f69a"/><stop offset="0.695" stop-color="#e9f69c"/><stop offset="0.707" stop-color="#eaf69e"/><stop offset="0.720" stop-color="#ebf79f"/><stop offset="0.732" stop-color="#ecf7a1"/><stop offset="0.744" stop-color="#edf8a2"/><stop offset="0.756" stop-color="#eef8a4"/><stop offset="0.768" stop-color="#eef8a5"/><stop offset="0.780" stop-color="#eff9a7"/><stop offset="0.793" stop-color="#f0f9a8"/><stop offset="0.805" stop-color="#f1faaa"/><stop offset="0.817" stop-color="#f2faab"/><stop offset="0.829" stop-color="#ebf7a0"/><stop offset="0.841" stop-color="#dff299"/><stop offset="0.854" stop-color="#ccea9d"/><stop offset="0.866" stop-color="#b9e3a1"/><stop offset="0.878" stop-color="#a4daa4"/><stop offset="0.890" stop-color="#8ad0a4"/><stop offset="0.902" stop-color="#70c6a5"/><stop offset="0.915" stop-color="#5ab5aa"/><stop offset="0.927" stop-color="#48a0b3"/><stop offset="0.939" stop-color="#388fba"/><stop offset="0.951" stop-color="#3a7eb8"/><stop offset="0.963" stop-color="#476db0"/><stop offset="0.976" stop-color="#486cb0"/><stop offset="1.000" stop-color="#486cb0"/></linearGradient><linearGradient id="ge16" x1="0" y1="0" x2="0" y2="1"><stop offset="0.000" stop-color="#88d0a4"/><stop offset="0.012" stop-color="#86cfa5"/><stop offset="0.024" stop-color="#84cea5"/><stop offset="0.037" stop-color="#82cda5"/><stop offset="0.049" stop-color="#80cca5"/><stop offset="0.061" stop-color="#7ecba5"/><stop offset="0.073" stop-color="#7bcaa5"/><stop offset="0.085" stop-color="#79caa5"/><stop offset="0.098" stop-color="#77c9a5"/><stop offset="0.110" stop-color="#75c8a5"/><stop offset="0.122" stop-color="#73c7a5"/><stop offset="0.134" stop-color="#70c6a5"/><stop offset="0.146" stop-color="#6ec5a5"/><stop offset="0.159" stop-color="#6cc4a5"/><stop offset="0.171" stop-color="#6ac3a5"/><stop offset="0.183" stop-color="#68c3a5"/><stop offset="0.195" stop-color="#63bfa6"/><stop offset="0.207" stop-color="#58b2ac"/><stop offset="0.220" stop-color="#4da6b1"/><stop offset="0.232" stop-color="#4299b6"/><stop offset="0.244" stop-color="#368dbb"/><stop offset="0.256" stop-color="#3288bd"/><stop offset="0.524" stop-color="#3288bd"/><stop offset="0.537" stop-color="#368dbb"/><stop offset="0.549" stop-color="#469eb4"/><stop offset="0.561" stop-color="#55afad"/><stop offset="0.573" stop-color="#65c1a5"/><stop offset="0.585" stop-color="#79caa5"/><stop offset="0.598" stop-color="#8ed2a4"/><stop offset="0.610" stop-color="#a3daa4"/><stop offset="0.622" stop-color="#b6e1a2"/><stop offset="0.634" stop-color="#c7e99e"/><stop offset="0.646" stop-color="#d9f09b"/><stop offset="0.659" stop-color="#e6f598"/><stop offset="0.671" stop-color="#e7f59a"/><stop offset="0.683" stop-color="#e8f69b"/><stop offset="0.695" stop-color="#e9f69d"/><stop offset="0.707" stop-color="#eaf79e"/><stop offset="0.720" stop-color="#ebf7a0"/><stop offset="0.732" stop-color="#ecf7a1"/><stop offset="0.744" stop-color="#edf8a3"/><stop offset="0.756" stop-color="#eef8a4"/><stop offset="0.768" stop-color="#eff8a6"/><stop offset="0.780" stop-color="#f0f9a7"/><stop offset="0.793" stop-color="#f1f9a8"/><stop offset="0.805" stop-color="#f2faaa"/><stop offset="0.817" stop-color="#f2faab"/><stop offset="0.829" stop-color="#ebf7a0"/><stop offset="0.841" stop-color="#dff299"/><stop offset="0.854" stop-color="#ccea9d"/><stop offset="0.866" stop-color="#b9e3a1"/><stop offset="0.878" stop-color="#a4daa4"/><stop offset="0.890" stop-color="#8ad0a4"/><stop offset="0.902" stop-color="#70c6a5"/><stop offset="0.915" stop-color="#5ab5aa"/><stop offset="0.927" stop-color="#48a0b3"/><stop offset="0.939" stop-color="#388fba"/><stop offset="0.951" stop-color="#3a7eb8"/><stop offset="0.963" stop-color="#476db0"/><stop offset="0.976" stop-color="#486cb0"/><stop offset="1.000" stop-color="#486cb0"/></linearGradient><linearGradient id="ge17" x1="0" y1="0" x2="0" y2="1"><stop offset="0.000" stop-color="#abdda4"/><stop offset="0.012" stop-color="#a7dca4"/><stop offset="0.024" stop-color="#a4daa4"/><stop offset="0.037" stop-color="#a0d9a4"/><stop offset="0.049" stop-color="#9cd7a4"/><stop offset="0.061" stop-color="#98d6a4"/><stop offset="0.073" stop-color="#94d4a4"/><stop offset="0.085" stop-color="#90d3a4"/><stop offset="0.098" stop-color="#8dd1a4"/><stop offset="0.110" stop-color="#89d0a4"/><stop offset="0.122" stop-color="#65c1a6"/><stop offset="0.134" stop-color="#47a0b3"/><stop offset="0.146" stop-color="#3288bd"/><stop offset="0.524" stop-color="#3288bd"/><stop offset="0.537" stop-color="#368dbb"/><stop offset="0.549" stop-color="#469eb4"/><stop offset="0.561" stop-color="#55afad"/><stop offset="0.573" stop-color="#65c1a5"/><stop offset="0.585" stop-color="#83cda5"/><stop offset="0.598" stop-color="#a2d9a4"/><stop offset="0.610" stop-color="#bee5a0"/><stop offset="0.622" stop-color="#d3ed9c"/><stop offset="0.634" stop-color="#e5f598"/><stop offset="0.646" stop-color="#edf8a3"/><stop offset="0.659" stop-color="#f2faac"/><stop offset="0.671" stop-color="#f2faac"/><stop offset="0.683" stop-color="#f3faac"/><stop offset="0.695" stop-color="#f2faac"/><stop offset="0.707" stop-color="#f3faac"/><stop offset="0.720" stop-color="#f2faac"/><stop offset="0.744" stop-color="#f2faac"/><stop offset="0.756" stop-color="#f3faac"/><stop offset="0.768" stop-color="#f2faac"/><stop offset="0.817" stop-color="#f2faac"/><stop offset="0.829" stop-color="#eef8a4"/><stop offset="0.841" stop-color="#e8f69b"/><stop offset="0.854" stop-color="#def29a"/><stop offset="0.866" stop-color="#d2ed9c"/><stop offset="0.878" stop-color="#c3e79f"/><stop offset="0.890" stop-color="#acdea4"/><stop offset="0.902" stop-color="#93d4a4"/><stop offset="0.915" stop-color="#79c9a5"/><stop offset="0.927" stop-color="#62bda7"/><stop offset="0.939" stop-color="#52acae"/><stop offset="0.951" stop-color="#439bb5"/><stop offset="0.963" stop-color="#3389bd"/><stop offset="0.976" stop-color="#3288bd"/><stop offset="1.000" stop-color="#3288bd"/></linearGradient><linearGradient id="ge18" x1="0" y1="0" x2="0" y2="1"><stop offset="0.000" stop-color="#66c2a5"/><stop offset="0.012" stop-color="#59b3ab"/><stop offset="0.024" stop-color="#4ba3b2"/><stop offset="0.037" stop-color="#3c94b8"/><stop offset="0.049" stop-color="#3288bd"/><stop offset="0.244" stop-color="#3288bd"/><stop offset="0.256" stop-color="#3584bb"/><stop offset="0.268" stop-color="#3a7eb8"/><stop offset="0.280" stop-color="#3e78b5"/><stop offset="0.293" stop-color="#4372b3"/><stop offset="0.305" stop-color="#486cb0"/><stop offset="0.317" stop-color="#4470b2"/><stop offset="0.329" stop-color="#4076b4"/><stop offset="0.341" stop-color="#3c7bb7"/><stop offset="0.354" stop-color="#3881b9"/><stop offset="0.366" stop-color="#3486bc"/><stop offset="0.378" stop-color="#348abc"/><stop offset="0.390" stop-color="#368dbb"/><stop offset="0.402" stop-color="#3990ba"/><stop offset="0.415" stop-color="#3b92b9"/><stop offset="0.427" stop-color="#3e95b7"/><stop offset="0.439" stop-color="#4198b6"/><stop offset="0.451" stop-color="#439bb5"/><stop offset="0.463" stop-color="#469eb4"/><stop offset="0.476" stop-color="#48a1b3"/><stop offset="0.488" stop-color="#4ba4b1"/><stop offset="0.500" stop-color="#51aaaf"/><stop offset="0.512" stop-color="#58b3ab"/><stop offset="0.524" stop-color="#60bca8"/><stop offset="0.537" stop-color="#6cc4a5"/><stop offset="0.549" stop-color="#80cca5"/><stop offset="0.561" stop-color="#95d4a4"/><stop offset="0.573" stop-color="#aadca4"/><stop offset="0.585" stop-color="#bce4a1"/><stop offset="0.598" stop-color="#cdeb9d"/><stop offset="0.610" stop-color="#dff299"/><stop offset="0.622" stop-color="#e6f599"/><stop offset="0.634" stop-color="#e7f59a"/><stop offset="0.646" stop-color="#e8f69b"/><stop offset="0.659" stop-color="#e9f69c"/><stop offset="0.671" stop-color="#e9f69d"/><stop offset="0.683" stop-color="#eaf79f"/><stop offset="0.695" stop-color="#ebf7a0"/><stop offset="0.707" stop-color="#ecf7a1"/><stop offset="0.720" stop-color="#ecf8a2"/><stop offset="0.732" stop-color="#edf8a3"/><stop offset="0.744" stop-color="#eef8a4"/><stop offset="0.756" stop-color="#eff8a6"/><stop offset="0.768" stop-color="#eff9a7"/><stop offset="0.780" stop-color="#f0f9a8"/><stop offset="0.793" stop-color="#f1f9a9"/><stop offset="0.805" stop-color="#f2faaa"/><stop offset="0.817" stop-color="#f2faab"/><stop offset="0.829" stop-color="#eef8a4"/><stop offset="0.841" stop-color="#e8f69b"/><stop offset="0.854" stop-color="#def29a"/><stop offset="0.866" stop-color="#d2ed9c"/><stop offset="0.878" stop-color="#c3e79f"/><stop offset="0.890" stop-color="#acdea4"/><stop offset="0.902" stop-color="#93d4a4"/><stop offset="0.915" stop-color="#79c9a5"/><stop offset="0.927" stop-color="#62bda7"/><stop offset="0.939" stop-color="#52acae"/><stop offset="0.951" stop-color="#439bb5"/><stop offset="0.963" stop-color="#3389bd"/><stop offset="0.976" stop-color="#3288bd"/><stop offset="1.000" stop-color="#3288bd"/></linearGradient><linearGradient id="ge19" x1="0" y1="0" x2="0" y2="1"><stop offset="0.000" stop-color="#66c2a5"/><stop offset="0.012" stop-color="#65c1a5"/><stop offset="0.024" stop-color="#64c0a6"/><stop offset="0.037" stop-color="#63bea6"/><stop offset="0.049" stop-color="#62bda7"/><stop offset="0.061" stop-color="#61bca8"/><stop offset="0.073" stop-color="#5fbba8"/><stop offset="0.085" stop-color="#5ebaa9"/><stop offset="0.098" stop-color="#5db8a9"/><stop offset="0.110" stop-color="#5cb7aa"/><stop offset="0.122" stop-color="#5bb6aa"/><stop offset="0.134" stop-color="#5ab5ab"/><stop offset="0.146" stop-color="#59b3ab"/><stop offset="0.159" stop-color="#58b2ac"/><stop offset="0.171" stop-color="#57b1ac"/><stop offset="0.183" stop-color="#56b0ad"/><stop offset="0.195" stop-color="#54aead"/><stop offset="0.207" stop-color="#53adae"/><stop offset="0.220" stop-color="#52acae"/><stop offset="0.232" stop-color="#51abaf"/><stop offset="0.244" stop-color="#50aaaf"/><stop offset="0.256" stop-color="#4fa8b0"/><stop offset="0.268" stop-color="#4ea7b0"/><stop offset="0.280" stop-color="#4da6b1"/><stop offset="0.293" stop-color="#4ca5b1"/><stop offset="0.305" stop-color="#4ea7b0"/><stop offset="0.317" stop-color="#50a9af"/><stop offset="0.329" stop-color="#51abaf"/><stop offset="0.341" stop-color="#53acae"/><stop offset="0.354" stop-color="#54aead"/><stop offset="0.366" stop-color="#56b0ac"/><stop offset="0.378" stop-color="#57b2ac"/><stop offset="0.390" stop-color="#59b3ab"/><stop offset="0.402" stop-color="#5ab5aa"/><stop offset="0.415" stop-color="#5cb7aa"/><stop offset="0.427" stop-color="#5eb9a9"/><stop offset="0.439" stop-color="#5fbaa8"/><stop offset="0.451" stop-color="#61bca7"/><stop offset="0.463" stop-color="#62bea7"/><stop offset="0.476" stop-color="#64c0a6"/><stop offset="0.488" stop-color="#65c1a5"/><stop offset="0.500" stop-color="#6cc4a5"/><stop offset="0.512" stop-color="#77c8a5"/><stop offset="0.524" stop-color="#81cda5"/><stop offset="0.537" stop-color="#8ed2a4"/><stop offset="0.549" stop-color="#a3daa4"/><stop offset="0.561" stop-color="#b6e1a2"/><stop offset="0.573" stop-color="#c7e99e"/><stop offset="0.585" stop-color="#d1ec9c"/><stop offset="0.598" stop-color="#daf09b"/><stop offset="0.610" stop-color="#e2f499"/><stop offset="0.622" stop-color="#e7f599"/><stop offset="0.634" stop-color="#e8f69c"/><stop offset="0.646" stop-color="#eaf79e"/><stop offset="0.659" stop-color="#ebf7a0"/><stop offset="0.671" stop-color="#edf8a3"/><stop offset="0.683" stop-color="#eef8a5"/><stop offset="0.695" stop-color="#f0f9a7"/><stop offset="0.707" stop-color="#f1faaa"/><stop offset="0.720" stop-color="#f3faac"/><stop offset="0.732" stop-color="#f4fbae"/><stop offset="0.744" stop-color="#f6fbb1"/><stop offset="0.756" stop-color="#f7fcb3"/><stop offset="0.768" stop-color="#f9fdb5"/><stop offset="0.780" stop-color="#fafdb8"/><stop offset="0.793" stop-color="#fcfeba"/><stop offset="0.805" stop-color="#fdfebd"/><stop offset="0.817" stop-color="#ffffbf"/><stop offset="0.829" stop-color="#f8fcb3"/><stop offset="0.841" stop-color="#eff9a7"/><stop offset="0.854" stop-color="#e7f69a"/><stop offset="0.866" stop-color="#d6ef9b"/><stop offset="0.878" stop-color="#c3e79f"/><stop offset="0.890" stop-color="#acdea4"/><stop offset="0.902" stop-color="#93d4a4"/><stop offset="0.915" stop-color="#79c9a5"/><stop offset="0.927" stop-color="#62bda7"/><stop offset="0.939" stop-color="#52acae"/><stop offset="0.951" stop-color="#439bb5"/><stop offset="0.963" stop-color="#3389bd"/><stop offset="0.976" stop-color="#3288bd"/><stop offset="1.000" stop-color="#3288bd"/></linearGradient><linearGradient id="ge20" x1="0" y1="0" x2="0" y2="1"><stop offset="0.000" stop-color="#abdda4"/><stop offset="0.488" stop-color="#abdda4"/><stop offset="0.500" stop-color="#b6e1a2"/><stop offset="0.512" stop-color="#c7e99e"/><stop offset="0.524" stop-color="#d9f09b"/><stop offset="0.537" stop-color="#e7f59a"/><stop offset="0.549" stop-color="#ebf79f"/><stop offset="0.561" stop-color="#eef8a5"/><stop offset="0.573" stop-color="#f2faab"/><stop offset="0.585" stop-color="#f3faac"/><stop offset="0.598" stop-color="#f4faad"/><stop offset="0.610" stop-color="#f4fbae"/><stop offset="0.622" stop-color="#f5fbaf"/><stop offset="0.634" stop-color="#f6fbb0"/><stop offset="0.646" stop-color="#f6fbb1"/><stop offset="0.659" stop-color="#f7fcb2"/><stop offset="0.671" stop-color="#f7fcb3"/><stop offset="0.683" stop-color="#f8fcb4"/><stop offset="0.695" stop-color="#f9fcb5"/><stop offset="0.707" stop-color="#f9fdb6"/><stop offset="0.720" stop-color="#fafdb7"/><stop offset="0.732" stop-color="#fbfdb8"/><stop offset="0.744" stop-color="#fbfdb9"/><stop offset="0.756" stop-color="#fcfeba"/><stop offset="0.768" stop-color="#fcfebb"/><stop offset="0.780" stop-color="#fdfebc"/><stop offset="0.793" stop-color="#fefebd"/><stop offset="0.805" stop-color="#feffbe"/><stop offset="0.817" stop-color="#ffffbf"/><stop offset="0.829" stop-color="#fafdb7"/><stop offset="0.841" stop-color="#f5fbaf"/><stop offset="0.854" stop-color="#eff9a6"/><stop offset="0.866" stop-color="#eaf79e"/><stop offset="0.878" stop-color="#e0f399"/><stop offset="0.890" stop-color="#caea9e"/><stop offset="0.902" stop-color="#b4e1a2"/><stop offset="0.915" stop-color="#9bd7a4"/><stop offset="0.927" stop-color="#83cda5"/><stop offset="0.939" stop-color="#6ec5a5"/><stop offset="0.951" stop-color="#5db8a9"/><stop offset="0.963" stop-color="#4da6b1"/><stop offset="0.976" stop-color="#449cb5"/><stop offset="0.988" stop-color="#3b92b9"/><stop offset="1.000" stop-color="#3288bd"/></linearGradient><linearGradient id="ge21" x1="0" y1="0" x2="0" y2="1"><stop offset="0.000" stop-color="#ffffbf"/><stop offset="0.012" stop-color="#ffffbf"/><stop offset="0.024" stop-color="#feffbe"/><stop offset="0.037" stop-color="#feffbe"/><stop offset="0.049" stop-color="#feffbd"/><stop offset="0.061" stop-color="#fdfebd"/><stop offset="0.073" stop-color="#fdfebc"/><stop offset="0.085" stop-color="#fdfebc"/><stop offset="0.098" stop-color="#fdfebb"/><stop offset="0.110" stop-color="#fcfebb"/><stop offset="0.122" stop-color="#fcfeba"/><stop offset="0.134" stop-color="#fcfeba"/><stop offset="0.146" stop-color="#fbfeb9"/><stop offset="0.159" stop-color="#fbfdb9"/><stop offset="0.171" stop-color="#fbfdb8"/><stop offset="0.183" stop-color="#fafdb8"/><stop offset="0.195" stop-color="#fafdb7"/><stop offset="0.207" stop-color="#fafdb7"/><stop offset="0.220" stop-color="#f9fdb6"/><stop offset="0.232" stop-color="#f9fdb6"/><stop offset="0.244" stop-color="#f9fdb5"/><stop offset="0.256" stop-color="#f9fcb5"/><stop offset="0.268" stop-color="#f8fcb4"/><stop offset="0.280" stop-color="#f8fcb4"/><stop offset="0.293" stop-color="#f8fcb3"/><stop offset="0.305" stop-color="#f7fcb3"/><stop offset="0.317" stop-color="#f7fcb2"/><stop offset="0.329" stop-color="#f7fcb2"/><stop offset="0.341" stop-color="#f6fcb1"/><stop offset="0.354" stop-color="#f6fbb1"/><stop offset="0.366" stop-color="#f6fbb1"/><stop offset="0.378" stop-color="#f5fbb0"/><stop offset="0.390" stop-color="#f5fbb0"/><stop offset="0.402" stop-color="#f5fbaf"/><stop offset="0.415" stop-color="#f4fbaf"/><stop offset="0.427" stop-color="#f4fbae"/><stop offset="0.439" stop-color="#f4fbae"/><stop offset="0.451" stop-color="#f4faad"/><stop offset="0.463" stop-color="#f3faad"/><stop offset="0.476" stop-color="#f3faac"/><stop offset="0.488" stop-color="#f3faac"/><stop offset="0.500" stop-color="#f2faac"/><stop offset="0.512" stop-color="#f2faac"/><stop offset="0.524" stop-color="#f3faac"/><stop offset="0.537" stop-color="#f2faac"/><stop offset="0.549" stop-color="#f3faac"/><stop offset="0.561" stop-color="#f2faac"/><stop offset="0.573" stop-color="#f2faac"/><stop offset="0.585" stop-color="#f3faac"/><stop offset="0.598" stop-color="#f4faad"/><stop offset="0.610" stop-color="#f4fbae"/><stop offset="0.622" stop-color="#f5fbaf"/><stop offset="0.634" stop-color="#f6fbb0"/><stop offset="0.646" stop-color="#f6fbb1"/><stop offset="0.659" stop-color="#f7fcb2"/><stop offset="0.671" stop-color="#f7fcb3"/><stop offset="0.683" stop-color="#f8fcb4"/><stop offset="0.695" stop-color="#f9fcb5"/><stop offset="0.707" stop-color="#f9fdb6"/><stop offset="0.720" stop-color="#fafdb7"/><stop offset="0.732" stop-color="#fbfdb8"/><stop offset="0.744" stop-color="#fbfdb9"/><stop offset="0.756" stop-color="#fcfeba"/><stop offset="0.768" stop-color="#fcfebb"/><stop offset="0.780" stop-color="#fdfebc"/><stop offset="0.793" stop-color="#fefebd"/><stop offset="0.805" stop-color="#feffbe"/><stop offset="0.817" stop-color="#ffffbf"/><stop offset="0.829" stop-color="#fafdb7"/><stop offset="0.841" stop-color="#f5fbaf"/><stop offset="0.854" stop-color="#eff9a6"/><stop offset="0.866" stop-color="#eaf79e"/><stop offset="0.878" stop-color="#e0f399"/><stop offset="0.890" stop-color="#caea9e"/><stop offset="0.902" stop-color="#b4e1a2"/><stop offset="0.915" stop-color="#9bd7a4"/><stop offset="0.927" stop-color="#83cda5"/><stop offset="0.939" stop-color="#6ec5a5"/><stop offset="0.951" stop-color="#5db8a9"/><stop offset="0.963" stop-color="#4da6b1"/><stop offset="0.976" stop-color="#449cb5"/><stop offset="0.988" stop-color="#3b92b9"/><stop offset="1.000" stop-color="#3288bd"/></linearGradient><linearGradient id="ge22" x1="0" y1="0" x2="0" y2="1"><stop offset="0.000" stop-color="#e6f598"/><stop offset="0.012" stop-color="#e3f499"/><stop offset="0.024" stop-color="#dff299"/><stop offset="0.037" stop-color="#dcf19a"/><stop offset="0.049" stop-color="#d8ef9b"/><stop offset="0.061" stop-color="#d5ee9b"/><stop offset="0.073" stop-color="#d1ed9c"/><stop offset="0.085" stop-color="#ceeb9d"/><stop offset="0.098" stop-color="#caea9e"/><stop offset="0.110" stop-color="#c7e89e"/><stop offset="0.122" stop-color="#c4e79f"/><stop offset="0.134" stop-color="#c0e6a0"/><stop offset="0.146" stop-color="#bde4a0"/><stop offset="0.159" stop-color="#b9e3a1"/><stop offset="0.171" stop-color="#b6e1a2"/><stop offset="0.183" stop-color="#b2e0a3"/><stop offset="0.195" stop-color="#afdfa3"/><stop offset="0.207" stop-color="#abdda4"/><stop offset="0.220" stop-color="#aadca4"/><stop offset="0.232" stop-color="#a8dca4"/><stop offset="0.244" stop-color="#a7dba4"/><stop offset="0.256" stop-color="#a5dba4"/><stop offset="0.268" stop-color="#a4daa4"/><stop offset="0.280" stop-color="#a2daa4"/><stop offset="0.293" stop-color="#a1d9a4"/><stop offset="0.305" stop-color="#9fd8a4"/><stop offset="0.317" stop-color="#9ed8a4"/><stop offset="0.329" stop-color="#9cd7a4"/><stop offset="0.341" stop-color="#9bd7a4"/><stop offset="0.354" stop-color="#99d6a4"/><stop offset="0.366" stop-color="#98d6a4"/><stop offset="0.378" stop-color="#96d5a4"/><stop offset="0.390" stop-color="#95d4a4"/><stop offset="0.402" stop-color="#93d4a4"/><stop offset="0.415" stop-color="#92d3a4"/><stop offset="0.427" stop-color="#90d3a4"/><stop offset="0.439" stop-color="#8fd2a4"/><stop offset="0.451" stop-color="#8ed1a4"/><stop offset="0.463" stop-color="#8cd1a4"/><stop offset="0.476" stop-color="#8bd0a4"/><stop offset="0.488" stop-color="#89d0a4"/><stop offset="0.500" stop-color="#8fd2a4"/><stop offset="0.512" stop-color="#99d6a4"/><stop offset="0.524" stop-color="#a3daa4"/><stop offset="0.537" stop-color="#addea4"/><stop offset="0.549" stop-color="#b6e2a2"/><stop offset="0.561" stop-color="#bfe5a0"/><stop offset="0.573" stop-color="#c8e99e"/><stop offset="0.585" stop-color="#d1ec9c"/><stop offset="0.598" stop-color="#daf09b"/><stop offset="0.610" stop-color="#e2f499"/><stop offset="0.622" stop-color="#e6f599"/><stop offset="0.634" stop-color="#e7f59a"/><stop offset="0.646" stop-color="#e8f69b"/><stop offset="0.659" stop-color="#e9f69c"/><stop offset="0.671" stop-color="#e9f69d"/><stop offset="0.683" stop-color="#eaf79f"/><stop offset="0.695" stop-color="#ebf7a0"/><stop offset="0.707" stop-color="#ecf7a1"/><stop offset="0.720" stop-color="#ecf8a2"/><stop offset="0.732" stop-color="#edf8a3"/><stop offset="0.744" stop-color="#eef8a4"/><stop offset="0.756" stop-color="#eff8a6"/><stop offset="0.768" stop-color="#eff9a7"/><stop offset="0.780" stop-color="#f0f9a8"/><stop offset="0.793" stop-color="#f1f9a9"/><stop offset="0.805" stop-color="#f2faaa"/><stop offset="0.817" stop-color="#f2faab"/><stop offset="0.829" stop-color="#eef8a4"/><stop offset="0.841" stop-color="#e8f69b"/><stop offset="0.854" stop-color="#def29a"/><stop offset="0.866" stop-color="#d2ed9c"/><stop offset="0.878" stop-color="#c3e79f"/><stop offset="0.890" stop-color="#acdea4"/><stop offset="0.902" stop-color="#93d4a4"/><stop offset="0.915" stop-color="#79c9a5"/><stop offset="0.927" stop-color="#62bda7"/><stop offset="0.939" stop-color="#52acae"/><stop offset="0.951" stop-color="#439bb5"/><stop offset="0.963" stop-color="#3389bd"/><stop offset="0.976" stop-color="#3288bd"/><stop offset="1.000" stop-color="#3288bd"/></linearGradient><linearGradient id="ge23" x1="0" y1="0" x2="0" y2="1"><stop offset="0.000" stop-color="#3288bd"/><stop offset="0.329" stop-color="#3288bd"/><stop offset="0.341" stop-color="#4198b6"/><stop offset="0.354" stop-color="#50aaaf"/><stop offset="0.366" stop-color="#60bba8"/><stop offset="0.378" stop-color="#66c2a5"/><stop offset="0.512" stop-color="#66c2a5"/><stop offset="0.524" stop-color="#6fc5a5"/><stop offset="0.537" stop-color="#7ecba5"/><stop offset="0.549" stop-color="#8cd1a4"/><stop offset="0.561" stop-color="#9bd7a4"/><stop offset="0.573" stop-color="#aadda4"/><stop offset="0.585" stop-color="#bce4a1"/><stop offset="0.598" stop-color="#cdeb9d"/><stop offset="0.610" stop-color="#dff299"/><stop offset="0.622" stop-color="#e6f599"/><stop offset="0.634" stop-color="#e7f59a"/><stop offset="0.646" stop-color="#e8f69b"/><stop offset="0.659" stop-color="#e9f69c"/><stop offset="0.671" stop-color="#e9f69d"/><stop offset="0.683" stop-color="#eaf79f"/><stop offset="0.695" stop-color="#ebf7a0"/><stop offset="0.707" stop-color="#ecf7a1"/><stop offset="0.720" stop-color="#ecf8a2"/><stop offset="0.732" stop-color="#edf8a3"/><stop offset="0.744" stop-color="#eef8a4"/><stop offset="0.756" stop-color="#eff8a6"/><stop offset="0.768" stop-color="#eff9a7"/><stop offset="0.780" stop-color="#f0f9a8"/><stop offset="0.793" stop-color="#f1f9a9"/><stop offset="0.805" stop-color="#f2faaa"/><stop offset="0.817" stop-color="#f2faab"/><stop offset="0.829" stop-color="#ebf7a0"/><stop offset="0.841" stop-color="#dff299"/><stop offset="0.854" stop-color="#ccea9d"/><stop offset="0.866" stop-color="#b9e3a1"/><stop offset="0.878" stop-color="#a6dba4"/><stop offset="0.890" stop-color="#95d4a4"/><stop offset="0.902" stop-color="#84cea5"/><stop offset="0.915" stop-color="#73c7a5"/><stop offset="0.927" stop-color="#62bda7"/><stop offset="0.939" stop-color="#52acae"/><stop offset="0.951" stop-color="#439bb5"/><stop offset="0.963" stop-color="#3389bd"/><stop offset="0.976" stop-color="#3288bd"/><stop offset="1.000" stop-color="#3288bd"/></linearGradient><linearGradient id="ge24" x1="0" y1="0" x2="0" y2="1"><stop offset="0.000" stop-color="#66c2a5"/><stop offset="0.451" stop-color="#66c2a5"/><stop offset="0.463" stop-color="#72c7a5"/><stop offset="0.476" stop-color="#7fcca5"/><stop offset="0.488" stop-color="#8cd1a4"/><stop offset="0.500" stop-color="#99d6a4"/><stop offset="0.512" stop-color="#a6dba4"/><stop offset="0.524" stop-color="#b3e0a2"/><stop offset="0.537" stop-color="#bfe5a0"/><stop offset="0.549" stop-color="#ccea9d"/><stop offset="0.561" stop-color="#d9f09b"/><stop offset="0.573" stop-color="#e5f598"/><stop offset="0.585" stop-color="#e7f599"/><stop offset="0.598" stop-color="#e7f59a"/><stop offset="0.610" stop-color="#e8f69b"/><stop offset="0.622" stop-color="#e8f69c"/><stop offset="0.634" stop-color="#e9f69d"/><stop offset="0.646" stop-color="#eaf69e"/><stop offset="0.659" stop-color="#eaf79f"/><stop offset="0.671" stop-color="#ebf7a0"/><stop offset="0.683" stop-color="#ecf7a1"/><stop offset="0.695" stop-color="#ecf7a2"/><stop offset="0.707" stop-color="#edf8a3"/><stop offset="0.720" stop-color="#edf8a4"/><stop offset="0.732" stop-color="#eef8a5"/><stop offset="0.744" stop-color="#eff8a6"/><stop offset="0.756" stop-color="#eff9a7"/><stop offset="0.768" stop-color="#f0f9a8"/><stop offset="0.780" stop-color="#f1f9a9"/><stop offset="0.793" stop-color="#f1f9a9"/><stop offset="0.805" stop-color="#f2faaa"/><stop offset="0.817" stop-color="#f2faab"/><stop offset="0.829" stop-color="#eef8a4"/><stop offset="0.841" stop-color="#e8f69b"/><stop offset="0.854" stop-color="#def29a"/><stop offset="0.866" stop-color="#d2ed9c"/><stop offset="0.878" stop-color="#c3e79f"/><stop offset="0.890" stop-color="#acdea4"/><stop offset="0.902" stop-color="#93d4a4"/><stop offset="0.915" stop-color="#79c9a5"/><stop offset="0.927" stop-color="#62bda7"/><stop offset="0.939" stop-color="#52acae"/><stop offset="0.951" stop-color="#439bb5"/><stop offset="0.963" stop-color="#3389bd"/><stop offset="0.976" stop-color="#3288bd"/><stop offset="1.000" stop-color="#3288bd"/></linearGradient><linearGradient id="ge25" x1="0" y1="0" x2="0" y2="1"><stop offset="0.000" stop-color="#88d0a4"/><stop offset="0.280" stop-color="#88d0a4"/><stop offset="0.293" stop-color="#8bd1a4"/><stop offset="0.305" stop-color="#96d5a4"/><stop offset="0.317" stop-color="#a0d9a4"/><stop offset="0.329" stop-color="#aadda4"/><stop offset="0.341" stop-color="#b3e0a2"/><stop offset="0.354" stop-color="#bce4a1"/><stop offset="0.366" stop-color="#c5e89f"/><stop offset="0.378" stop-color="#cbea9d"/><stop offset="0.390" stop-color="#d0ec9d"/><stop offset="0.402" stop-color="#d4ee9c"/><stop offset="0.415" stop-color="#d8ef9b"/><stop offset="0.427" stop-color="#ddf19a"/><stop offset="0.439" stop-color="#e1f399"/><stop offset="0.451" stop-color="#e6f598"/><stop offset="0.768" stop-color="#e6f598"/><stop offset="0.780" stop-color="#e3f499"/><stop offset="0.793" stop-color="#d8ef9b"/><stop offset="0.805" stop-color="#cdeb9d"/><stop offset="0.817" stop-color="#c2e69f"/><stop offset="0.829" stop-color="#b7e2a2"/><stop offset="0.841" stop-color="#acdda4"/><stop offset="0.854" stop-color="#9dd8a4"/><stop offset="0.866" stop-color="#8ed2a4"/><stop offset="0.878" stop-color="#80cca5"/><stop offset="0.890" stop-color="#71c6a5"/><stop offset="0.902" stop-color="#65c0a6"/><stop offset="0.915" stop-color="#5fbaa8"/><stop offset="0.927" stop-color="#59b4ab"/><stop offset="0.939" stop-color="#54aead"/><stop offset="0.951" stop-color="#4ea7b0"/><stop offset="0.963" stop-color="#48a0b3"/><stop offset="0.976" stop-color="#4098b6"/><stop offset="0.988" stop-color="#3990ba"/><stop offset="1.000" stop-color="#3288bd"/></linearGradient><linearGradient id="ge26" x1="0" y1="0" x2="0" y2="1"><stop offset="0.000" stop-color="#66c2a5"/><stop offset="0.012" stop-color="#64bfa6"/><stop offset="0.024" stop-color="#61bda7"/><stop offset="0.037" stop-color="#5fbaa8"/><stop offset="0.049" stop-color="#5cb7aa"/><stop offset="0.061" stop-color="#5ab4ab"/><stop offset="0.073" stop-color="#57b1ac"/><stop offset="0.085" stop-color="#55afad"/><stop offset="0.098" stop-color="#52acae"/><stop offset="0.110" stop-color="#50a9af"/><stop offset="0.122" stop-color="#4da6b1"/><stop offset="0.134" stop-color="#4ca5b1"/><stop offset="0.244" stop-color="#4ca5b1"/><stop offset="0.256" stop-color="#4ea8b0"/><stop offset="0.268" stop-color="#52acae"/><stop offset="0.280" stop-color="#56b0ac"/><stop offset="0.293" stop-color="#5ab5ab"/><stop offset="0.305" stop-color="#5eb9a9"/><stop offset="0.317" stop-color="#62bda7"/><stop offset="0.329" stop-color="#66c2a5"/><stop offset="0.341" stop-color="#74c8a5"/><stop offset="0.354" stop-color="#84cea5"/><stop offset="0.366" stop-color="#94d4a4"/><stop offset="0.378" stop-color="#a3daa4"/><stop offset="0.390" stop-color="#b1e0a3"/><stop offset="0.402" stop-color="#bfe5a0"/><stop offset="0.415" stop-color="#cae99e"/><stop offset="0.427" stop-color="#ceeb9d"/><stop offset="0.439" stop-color="#d3ed9c"/><stop offset="0.451" stop-color="#d7ef9b"/><stop offset="0.463" stop-color="#dbf19a"/><stop offset="0.476" stop-color="#e0f299"/><stop offset="0.488" stop-color="#e4f498"/><stop offset="0.500" stop-color="#e6f598"/><stop offset="0.610" stop-color="#e6f598"/><stop offset="0.622" stop-color="#b1dfa3"/><stop offset="0.634" stop-color="#51abaf"/><stop offset="0.646" stop-color="#3288bd"/><stop offset="0.793" stop-color="#3288bd"/><stop offset="0.805" stop-color="#3e96b7"/><stop offset="0.817" stop-color="#4ba4b1"/><stop offset="0.829" stop-color="#58b3ab"/><stop offset="0.841" stop-color="#65c1a5"/><stop offset="0.854" stop-color="#66c2a5"/><stop offset="0.890" stop-color="#66c2a5"/><stop offset="0.902" stop-color="#65c0a6"/><stop offset="0.915" stop-color="#5fbaa8"/><stop offset="0.927" stop-color="#59b4ab"/><stop offset="0.939" stop-color="#54aead"/><stop offset="0.951" stop-color="#4ea7b0"/><stop offset="0.963" stop-color="#48a0b3"/><stop offset="0.976" stop-color="#4098b6"/><stop offset="0.988" stop-color="#3990ba"/><stop offset="1.000" stop-color="#3288bd"/></linearGradient><linearGradient id="ge27" x1="0" y1="0" x2="0" y2="1"><stop offset="0.000" stop-color="#3288bd"/><stop offset="0.110" stop-color="#3288bd"/><stop offset="0.122" stop-color="#3682ba"/><stop offset="0.134" stop-color="#3b7cb7"/><stop offset="0.146" stop-color="#4076b5"/><stop offset="0.159" stop-color="#4570b2"/><stop offset="0.171" stop-color="#486cb0"/><stop offset="0.268" stop-color="#486cb0"/><stop offset="0.280" stop-color="#4273b3"/><stop offset="0.293" stop-color="#397fb9"/><stop offset="0.305" stop-color="#358bbc"/><stop offset="0.317" stop-color="#4098b6"/><stop offset="0.329" stop-color="#4ba4b1"/><stop offset="0.341" stop-color="#5bb5aa"/><stop offset="0.354" stop-color="#6cc4a5"/><stop offset="0.366" stop-color="#80cca5"/><stop offset="0.378" stop-color="#95d4a4"/><stop offset="0.390" stop-color="#aadca4"/><stop offset="0.402" stop-color="#bce4a1"/><stop offset="0.415" stop-color="#cae99e"/><stop offset="0.427" stop-color="#ceeb9d"/><stop offset="0.439" stop-color="#d3ed9c"/><stop offset="0.451" stop-color="#d7ef9b"/><stop offset="0.463" stop-color="#dbf19a"/><stop offset="0.476" stop-color="#e0f299"/><stop offset="0.488" stop-color="#e4f498"/><stop offset="0.500" stop-color="#e6f598"/><stop offset="0.610" stop-color="#e6f598"/><stop offset="0.622" stop-color="#e3f499"/><stop offset="0.634" stop-color="#def29a"/><stop offset="0.646" stop-color="#d9f09b"/><stop offset="0.659" stop-color="#d4ee9c"/><stop offset="0.671" stop-color="#cfec9d"/><stop offset="0.683" stop-color="#caea9e"/><stop offset="0.695" stop-color="#c6e89f"/><stop offset="0.707" stop-color="#c1e6a0"/><stop offset="0.720" stop-color="#bce4a1"/><stop offset="0.732" stop-color="#b7e2a2"/><stop offset="0.744" stop-color="#b2e0a3"/><stop offset="0.756" stop-color="#addea4"/><stop offset="0.768" stop-color="#98d6a4"/><stop offset="0.780" stop-color="#79caa5"/><stop offset="0.793" stop-color="#5db8a9"/><stop offset="0.805" stop-color="#4ca5b1"/><stop offset="0.890" stop-color="#4ca5b1"/><stop offset="0.902" stop-color="#4ba3b2"/><stop offset="0.915" stop-color="#459db4"/><stop offset="0.927" stop-color="#3f97b7"/><stop offset="0.939" stop-color="#3a91b9"/><stop offset="0.951" stop-color="#348abc"/><stop offset="0.963" stop-color="#3288bd"/><stop offset="1.000" stop-color="#3288bd"/></linearGradient><linearGradient id="ge28" x1="0" y1="0" x2="0" y2="1"><stop offset="0.000" stop-color="#3288bd"/><stop offset="0.122" stop-color="#3288bd"/><stop offset="0.134" stop-color="#3386bc"/><stop offset="0.146" stop-color="#3683bb"/><stop offset="0.159" stop-color="#3881b9"/><stop offset="0.171" stop-color="#3a7eb8"/><stop offset="0.183" stop-color="#3c7bb7"/><stop offset="0.195" stop-color="#3e78b5"/><stop offset="0.207" stop-color="#4175b4"/><stop offset="0.220" stop-color="#4372b3"/><stop offset="0.232" stop-color="#456fb1"/><stop offset="0.244" stop-color="#476db0"/><stop offset="0.256" stop-color="#456fb1"/><stop offset="0.268" stop-color="#4075b4"/><stop offset="0.280" stop-color="#3c7bb7"/><stop offset="0.293" stop-color="#3781ba"/><stop offset="0.305" stop-color="#3288bd"/><stop offset="0.317" stop-color="#3b92b9"/><stop offset="0.329" stop-color="#459db4"/><stop offset="0.341" stop-color="#4fa8b0"/><stop offset="0.354" stop-color="#58b3ab"/><stop offset="0.366" stop-color="#62bea7"/><stop offset="0.378" stop-color="#6bc4a5"/><stop offset="0.390" stop-color="#74c7a5"/><stop offset="0.402" stop-color="#7ccba5"/><stop offset="0.415" stop-color="#85cea5"/><stop offset="0.427" stop-color="#8ed2a4"/><stop offset="0.439" stop-color="#96d5a4"/><stop offset="0.451" stop-color="#9fd8a4"/><stop offset="0.463" stop-color="#a8dca4"/><stop offset="0.476" stop-color="#aedea3"/><stop offset="0.488" stop-color="#b2e0a3"/><stop offset="0.500" stop-color="#b7e2a2"/><stop offset="0.512" stop-color="#bbe3a1"/><stop offset="0.524" stop-color="#bfe5a0"/><stop offset="0.537" stop-color="#c4e79f"/><stop offset="0.549" stop-color="#c8e99e"/><stop offset="0.561" stop-color="#cdeb9d"/><stop offset="0.573" stop-color="#d1ec9c"/><stop offset="0.585" stop-color="#d5ee9b"/><stop offset="0.598" stop-color="#daf09a"/><stop offset="0.610" stop-color="#def29a"/><stop offset="0.622" stop-color="#e3f499"/><stop offset="0.634" stop-color="#e5f498"/><stop offset="0.646" stop-color="#dff299"/><stop offset="0.659" stop-color="#d9f09b"/><stop offset="0.671" stop-color="#d4ee9c"/><stop offset="0.683" stop-color="#ceeb9d"/><stop offset="0.695" stop-color="#c9e99e"/><stop offset="0.707" stop-color="#c3e79f"/><stop offset="0.720" stop-color="#bee5a0"/><stop offset="0.732" stop-color="#b8e2a1"/><stop offset="0.744" stop-color="#b3e0a2"/><stop offset="0.756" stop-color="#addea4"/><stop offset="0.768" stop-color="#a6dba4"/><stop offset="0.780" stop-color="#9dd8a4"/><stop offset="0.793" stop-color="#95d4a4"/><stop offset="0.805" stop-color="#8cd1a4"/><stop offset="0.817" stop-color="#83cda5"/><stop offset="0.829" stop-color="#7bcaa5"/><stop offset="0.841" stop-color="#72c7a5"/><stop offset="0.854" stop-color="#69c3a5"/><stop offset="0.866" stop-color="#64bfa6"/><stop offset="0.878" stop-color="#60bba8"/><stop offset="0.890" stop-color="#5cb7aa"/><stop offset="0.902" stop-color="#58b2ab"/><stop offset="0.915" stop-color="#54aead"/><stop offset="0.927" stop-color="#50aaaf"/><stop offset="0.939" stop-color="#4ca5b1"/><stop offset="0.951" stop-color="#47a0b3"/><stop offset="0.963" stop-color="#429ab6"/><stop offset="0.976" stop-color="#3d94b8"/><stop offset="0.988" stop-color="#378ebb"/><stop offset="1.000" stop-color="#3288bd"/></linearGradient><linearGradient id="ge29" x1="0" y1="0" x2="0" y2="1"><stop offset="0.000" stop-color="#4ca5b1"/><stop offset="0.244" stop-color="#4ca5b1"/><stop offset="0.256" stop-color="#4ea8b0"/><stop offset="0.268" stop-color="#52acae"/><stop offset="0.280" stop-color="#56b0ac"/><stop offset="0.293" stop-color="#5ab5ab"/><stop offset="0.305" stop-color="#5eb9a9"/><stop offset="0.317" stop-color="#62bda7"/><stop offset="0.329" stop-color="#66c2a5"/><stop offset="0.341" stop-color="#69c3a5"/><stop offset="0.354" stop-color="#6dc5a5"/><stop offset="0.366" stop-color="#70c6a5"/><stop offset="0.378" stop-color="#74c7a5"/><stop offset="0.390" stop-color="#77c9a5"/><stop offset="0.402" stop-color="#7acaa5"/><stop offset="0.415" stop-color="#7ecba5"/><stop offset="0.427" stop-color="#81cda5"/><stop offset="0.439" stop-color="#85cea5"/><stop offset="0.451" stop-color="#88cfa5"/><stop offset="0.463" stop-color="#8fd2a4"/><stop offset="0.476" stop-color="#96d5a4"/><stop offset="0.488" stop-color="#9dd8a4"/><stop offset="0.500" stop-color="#a4daa4"/><stop offset="0.512" stop-color="#abdda4"/><stop offset="0.524" stop-color="#b1e0a3"/><stop offset="0.537" stop-color="#b7e2a1"/><stop offset="0.549" stop-color="#bde4a0"/><stop offset="0.561" stop-color="#c3e79f"/><stop offset="0.573" stop-color="#c9e99e"/><stop offset="0.585" stop-color="#cfec9d"/><stop offset="0.598" stop-color="#d6ee9b"/><stop offset="0.610" stop-color="#dcf19a"/><stop offset="0.622" stop-color="#e2f399"/><stop offset="0.634" stop-color="#e5f498"/><stop offset="0.646" stop-color="#dff299"/><stop offset="0.659" stop-color="#d9f09b"/><stop offset="0.671" stop-color="#d4ee9c"/><stop offset="0.683" stop-color="#ceeb9d"/><stop offset="0.695" stop-color="#c9e99e"/><stop offset="0.707" stop-color="#c3e79f"/><stop offset="0.720" stop-color="#bee5a0"/><stop offset="0.732" stop-color="#b8e2a1"/><stop offset="0.744" stop-color="#b3e0a2"/><stop offset="0.756" stop-color="#addea4"/><stop offset="0.768" stop-color="#a6dba4"/><stop offset="0.780" stop-color="#9dd8a4"/><stop offset="0.793" stop-color="#95d4a4"/><stop offset="0.805" stop-color="#8cd1a4"/><stop offset="0.817" stop-color="#83cda5"/><stop offset="0.829" stop-color="#7bcaa5"/><stop offset="0.841" stop-color="#72c7a5"/><stop offset="0.854" stop-color="#69c3a5"/><stop offset="0.866" stop-color="#64bfa6"/><stop offset="0.878" stop-color="#60bba8"/><stop offset="0.890" stop-color="#5cb7aa"/><stop offset="0.902" stop-color="#58b2ab"/><stop offset="0.915" stop-color="#54aead"/><stop offset="0.927" stop-color="#50aaaf"/><stop offset="0.939" stop-color="#4ca5b1"/><stop offset="0.951" stop-color="#47a0b3"/><stop offset="0.963" stop-color="#429ab6"/><stop offset="0.976" stop-color="#3d94b8"/><stop offset="0.988" stop-color="#378ebb"/><stop offset="1.000" stop-color="#3288bd"/></linearGradient><linearGradient id="ge30" x1="0" y1="0" x2="0" y2="1"><stop offset="0.000" stop-color="#ffffbf"/><stop offset="0.134" stop-color="#ffffbf"/><stop offset="0.146" stop-color="#fdfebd"/><stop offset="0.159" stop-color="#f8fcb4"/><stop offset="0.171" stop-color="#f2faab"/><stop offset="0.183" stop-color="#edf8a2"/><stop offset="0.195" stop-color="#e7f59a"/><stop offset="0.207" stop-color="#dbf19a"/><stop offset="0.220" stop-color="#ceeb9d"/><stop offset="0.232" stop-color="#c2e69f"/><stop offset="0.244" stop-color="#b7e2a2"/><stop offset="0.256" stop-color="#acdda4"/><stop offset="0.268" stop-color="#9fd8a4"/><stop offset="0.280" stop-color="#92d3a4"/><stop offset="0.293" stop-color="#87cfa5"/><stop offset="0.305" stop-color="#80cca5"/><stop offset="0.317" stop-color="#7acaa5"/><stop offset="0.329" stop-color="#73c7a5"/><stop offset="0.341" stop-color="#6dc5a5"/><stop offset="0.354" stop-color="#66c2a5"/><stop offset="0.366" stop-color="#69c3a5"/><stop offset="0.378" stop-color="#6cc4a5"/><stop offset="0.390" stop-color="#6fc5a5"/><stop offset="0.402" stop-color="#72c7a5"/><stop offset="0.415" stop-color="#75c8a5"/><stop offset="0.427" stop-color="#78c9a5"/><stop offset="0.439" stop-color="#7bcaa5"/><stop offset="0.451" stop-color="#7ecba5"/><stop offset="0.463" stop-color="#81cda5"/><stop offset="0.476" stop-color="#84cea5"/><stop offset="0.488" stop-color="#87cfa5"/><stop offset="0.500" stop-color="#8ed2a4"/><stop offset="0.512" stop-color="#97d5a4"/><stop offset="0.524" stop-color="#a0d9a4"/><stop offset="0.537" stop-color="#a9dca4"/><stop offset="0.549" stop-color="#b1e0a3"/><stop offset="0.561" stop-color="#b9e3a1"/><stop offset="0.573" stop-color="#c1e6a0"/><stop offset="0.585" stop-color="#c9e99e"/><stop offset="0.598" stop-color="#d1ec9c"/><stop offset="0.610" stop-color="#d8ef9b"/><stop offset="0.622" stop-color="#e0f399"/><stop offset="0.634" stop-color="#e5f498"/><stop offset="0.646" stop-color="#dff299"/><stop offset="0.659" stop-color="#d9f09b"/><stop offset="0.671" stop-color="#d4ee9c"/><stop offset="0.683" stop-color="#ceeb9d"/><stop offset="0.695" stop-color="#c9e99e"/><stop offset="0.707" stop-color="#c3e79f"/><stop offset="0.720" stop-color="#bee5a0"/><stop offset="0.732" stop-color="#b8e2a1"/><stop offset="0.744" stop-color="#b3e0a2"/><stop offset="0.756" stop-color="#addea4"/><stop offset="0.768" stop-color="#a6dba4"/><stop offset="0.780" stop-color="#9dd8a4"/><stop offset="0.793" stop-color="#95d4a4"/><stop offset="0.805" stop-color="#8cd1a4"/><stop offset="0.817" stop-color="#83cda5"/><stop offset="0.829" stop-color="#7bcaa5"/><stop offset="0.841" stop-color="#72c7a5"/><stop offset="0.854" stop-color="#69c3a5"/><stop offset="0.866" stop-color="#64bfa6"/><stop offset="0.878" stop-color="#60bba8"/><stop offset="0.890" stop-color="#5cb7aa"/><stop offset="0.902" stop-color="#58b2ab"/><stop offset="0.915" stop-color="#54aead"/><stop offset="0.927" stop-color="#50aaaf"/><stop offset="0.939" stop-color="#4ca5b1"/><stop offset="0.951" stop-color="#47a0b3"/><stop offset="0.963" stop-color="#429ab6"/><stop offset="0.976" stop-color="#3d94b8"/><stop offset="0.988" stop-color="#378ebb"/><stop offset="1.000" stop-color="#3288bd"/></linearGradient><linearGradient id="ge31" x1="0" y1="0" x2="0" y2="1"><stop offset="0.000" stop-color="#66c2a5"/><stop offset="0.012" stop-color="#64c0a6"/><stop offset="0.024" stop-color="#63bea6"/><stop offset="0.037" stop-color="#61bda7"/><stop offset="0.049" stop-color="#5fbba8"/><stop offset="0.061" stop-color="#5eb9a9"/><stop offset="0.073" stop-color="#5cb7aa"/><stop offset="0.085" stop-color="#5ab5aa"/><stop offset="0.098" stop-color="#59b3ab"/><stop offset="0.110" stop-color="#57b1ac"/><stop offset="0.122" stop-color="#56b0ad"/><stop offset="0.134" stop-color="#54aead"/><stop offset="0.146" stop-color="#52acae"/><stop offset="0.159" stop-color="#51aaaf"/><stop offset="0.171" stop-color="#4fa8b0"/><stop offset="0.183" stop-color="#4da6b0"/><stop offset="0.195" stop-color="#4ba3b2"/><stop offset="0.207" stop-color="#459db4"/><stop offset="0.220" stop-color="#3f97b7"/><stop offset="0.232" stop-color="#3a91b9"/><stop offset="0.244" stop-color="#348abc"/><stop offset="0.256" stop-color="#3288bd"/><stop offset="0.354" stop-color="#3288bd"/><stop offset="0.366" stop-color="#388fba"/><stop offset="0.378" stop-color="#3f96b7"/><stop offset="0.390" stop-color="#459db4"/><stop offset="0.402" stop-color="#4ca5b1"/><stop offset="0.415" stop-color="#52acae"/><stop offset="0.427" stop-color="#59b3ab"/><stop offset="0.439" stop-color="#5fbaa8"/><stop offset="0.451" stop-color="#66c2a5"/><stop offset="0.463" stop-color="#6fc5a5"/><stop offset="0.476" stop-color="#78c9a5"/><stop offset="0.488" stop-color="#82cda5"/><stop offset="0.500" stop-color="#8bd0a4"/><stop offset="0.512" stop-color="#94d4a4"/><stop offset="0.524" stop-color="#9ed8a4"/><stop offset="0.537" stop-color="#a7dca4"/><stop offset="0.549" stop-color="#b0dfa3"/><stop offset="0.561" stop-color="#b8e2a1"/><stop offset="0.573" stop-color="#c0e6a0"/><stop offset="0.585" stop-color="#c8e99e"/><stop offset="0.598" stop-color="#d0ec9c"/><stop offset="0.610" stop-color="#d8ef9b"/><stop offset="0.622" stop-color="#e0f399"/><stop offset="0.634" stop-color="#e5f498"/><stop offset="0.646" stop-color="#dff299"/><stop offset="0.659" stop-color="#d9f09b"/><stop offset="0.671" stop-color="#d4ee9c"/><stop offset="0.683" stop-color="#ceeb9d"/><stop offset="0.695" stop-color="#c9e99e"/><stop offset="0.707" stop-color="#c3e79f"/><stop offset="0.720" stop-color="#bee5a0"/><stop offset="0.732" stop-color="#b8e2a1"/><stop offset="0.744" stop-color="#b3e0a2"/><stop offset="0.756" stop-color="#addea4"/><stop offset="0.768" stop-color="#a6dba4"/><stop offset="0.780" stop-color="#9dd8a4"/><stop offset="0.793" stop-color="#95d4a4"/><stop offset="0.805" stop-color="#8cd1a4"/><stop offset="0.817" stop-color="#83cda5"/><stop offset="0.829" stop-color="#7bcaa5"/><stop offset="0.841" stop-color="#72c7a5"/><stop offset="0.854" stop-color="#69c3a5"/><stop offset="0.866" stop-color="#61bda7"/><stop offset="0.878" stop-color="#5ab4ab"/><stop offset="0.890" stop-color="#52abae"/><stop offset="0.902" stop-color="#4aa3b2"/><stop offset="0.915" stop-color="#429ab6"/><stop offset="0.927" stop-color="#3a91b9"/><stop offset="0.939" stop-color="#3389bd"/><stop offset="0.951" stop-color="#3288bd"/><stop offset="1.000" stop-color="#3288bd"/></linearGradient><linearGradient id="ge32" x1="0" y1="0" x2="0" y2="1"><stop offset="0.000" stop-color="#4ca5b1"/><stop offset="0.329" stop-color="#4ca5b1"/><stop offset="0.341" stop-color="#51aaaf"/><stop offset="0.354" stop-color="#56b0ac"/><stop offset="0.366" stop-color="#5bb6aa"/><stop offset="0.378" stop-color="#60bca8"/><stop offset="0.390" stop-color="#66c2a5"/><stop offset="0.402" stop-color="#6cc5a5"/><stop offset="0.415" stop-color="#73c7a5"/><stop offset="0.427" stop-color="#7acaa5"/><stop offset="0.439" stop-color="#81cda5"/><stop offset="0.451" stop-color="#88cfa5"/><stop offset="0.463" stop-color="#8fd2a4"/><stop offset="0.476" stop-color="#96d5a4"/><stop offset="0.488" stop-color="#9dd8a4"/><stop offset="0.500" stop-color="#a4daa4"/><stop offset="0.512" stop-color="#abdda4"/><stop offset="0.524" stop-color="#b1e0a3"/><stop offset="0.537" stop-color="#b7e2a1"/><stop offset="0.549" stop-color="#bde4a0"/><stop offset="0.561" stop-color="#c3e79f"/><stop offset="0.573" stop-color="#c9e99e"/><stop offset="0.585" stop-color="#cfec9d"/><stop offset="0.598" stop-color="#d6ee9b"/><stop offset="0.610" stop-color="#dcf19a"/><stop offset="0.622" stop-color="#e2f399"/><stop offset="0.634" stop-color="#e5f498"/><stop offset="0.646" stop-color="#dff299"/><stop offset="0.659" stop-color="#d9f09b"/><stop offset="0.671" stop-color="#d4ee9c"/><stop offset="0.683" stop-color="#ceeb9d"/><stop offset="0.695" stop-color="#c9e99e"/><stop offset="0.707" stop-color="#c3e79f"/><stop offset="0.720" stop-color="#bee5a0"/><stop offset="0.732" stop-color="#b8e2a1"/><stop offset="0.744" stop-color="#b3e0a2"/><stop offset="0.756" stop-color="#addea4"/><stop offset="0.768" stop-color="#a6dba4"/><stop offset="0.780" stop-color="#9dd8a4"/><stop offset="0.793" stop-color="#95d4a4"/><stop offset="0.805" stop-color="#8cd1a4"/><stop offset="0.817" stop-color="#83cda5"/><stop offset="0.829" stop-color="#7bcaa5"/><stop offset="0.841" stop-color="#72c7a5"/><stop offset="0.854" stop-color="#69c3a5"/><stop offset="0.866" stop-color="#64bfa6"/><stop offset="0.878" stop-color="#60bba8"/><stop offset="0.890" stop-color="#5cb7aa"/><stop offset="0.902" stop-color="#58b2ab"/><stop offset="0.915" stop-color="#54aead"/><stop offset="0.927" stop-color="#50aaaf"/><stop offset="0.939" stop-color="#4ca5b1"/><stop offset="0.951" stop-color="#47a0b3"/><stop offset="0.963" stop-color="#429ab6"/><stop offset="0.976" stop-color="#3d94b8"/><stop offset="0.988" stop-color="#378ebb"/><stop offset="1.000" stop-color="#3288bd"/></linearGradient><linearGradient id="ge33" x1="0" y1="0" x2="0" y2="1"><stop offset="0.000" stop-color="#4ca5b1"/><stop offset="0.280" stop-color="#4ca5b1"/><stop offset="0.293" stop-color="#4ea7b0"/><stop offset="0.305" stop-color="#56b0ac"/><stop offset="0.317" stop-color="#5eb9a9"/><stop offset="0.329" stop-color="#65c1a5"/><stop offset="0.341" stop-color="#70c6a5"/><stop offset="0.354" stop-color="#7acaa5"/><stop offset="0.366" stop-color="#84cea5"/><stop offset="0.378" stop-color="#8bd0a4"/><stop offset="0.390" stop-color="#8ed2a4"/><stop offset="0.402" stop-color="#91d3a4"/><stop offset="0.415" stop-color="#95d4a4"/><stop offset="0.427" stop-color="#98d6a4"/><stop offset="0.439" stop-color="#9cd7a4"/><stop offset="0.451" stop-color="#9fd8a4"/><stop offset="0.463" stop-color="#a3daa4"/><stop offset="0.476" stop-color="#a6dba4"/><stop offset="0.488" stop-color="#aadca4"/><stop offset="0.500" stop-color="#aedea3"/><stop offset="0.512" stop-color="#b3e0a2"/><stop offset="0.524" stop-color="#b9e3a1"/><stop offset="0.537" stop-color="#bee5a0"/><stop offset="0.549" stop-color="#c3e79f"/><stop offset="0.561" stop-color="#c8e99e"/><stop offset="0.573" stop-color="#cdeb9d"/><stop offset="0.585" stop-color="#d3ed9c"/><stop offset="0.598" stop-color="#d8ef9b"/><stop offset="0.610" stop-color="#ddf19a"/><stop offset="0.622" stop-color="#e2f399"/><stop offset="0.634" stop-color="#e5f498"/><stop offset="0.646" stop-color="#dff299"/><stop offset="0.659" stop-color="#d9f09b"/><stop offset="0.671" stop-color="#d4ee9c"/><stop offset="0.683" stop-color="#ceeb9d"/><stop offset="0.695" stop-color="#c9e99e"/><stop offset="0.707" stop-color="#c3e79f"/><stop offset="0.720" stop-color="#bee5a0"/><stop offset="0.732" stop-color="#b8e2a1"/><stop offset="0.744" stop-color="#b3e0a2"/><stop offset="0.756" stop-color="#addea4"/><stop offset="0.768" stop-color="#a6dba4"/><stop offset="0.780" stop-color="#9dd8a4"/><stop offset="0.793" stop-color="#95d4a4"/><stop offset="0.805" stop-color="#8cd1a4"/><stop offset="0.817" stop-color="#83cda5"/><stop offset="0.829" stop-color="#7bcaa5"/><stop offset="0.841" stop-color="#72c7a5"/><stop offset="0.854" stop-color="#69c3a5"/><stop offset="0.866" stop-color="#64bfa6"/><stop offset="0.878" stop-color="#60bba8"/><stop offset="0.890" stop-color="#5cb7aa"/><stop offset="0.902" stop-color="#58b2ab"/><stop offset="0.915" stop-color="#54aead"/><stop offset="0.927" stop-color="#50aaaf"/><stop offset="0.939" stop-color="#4ca5b1"/><stop offset="0.951" stop-color="#47a0b3"/><stop offset="0.963" stop-color="#429ab6"/><stop offset="0.976" stop-color="#3d94b8"/><stop offset="0.988" stop-color="#378ebb"/><stop offset="1.000" stop-color="#3288bd"/></linearGradient><linearGradient id="ge34" x1="0" y1="0" x2="0" y2="1"><stop offset="0.000" stop-color="#66c2a5"/><stop offset="0.366" stop-color="#66c2a5"/><stop offset="0.378" stop-color="#68c3a5"/><stop offset="0.390" stop-color="#6cc4a5"/><stop offset="0.402" stop-color="#6fc6a5"/><stop offset="0.415" stop-color="#72c7a5"/><stop offset="0.427" stop-color="#76c8a5"/><stop offset="0.439" stop-color="#79caa5"/><stop offset="0.451" stop-color="#7dcba5"/><stop offset="0.463" stop-color="#80cca5"/><stop offset="0.476" stop-color="#84cea5"/><stop offset="0.488" stop-color="#87cfa5"/><stop offset="0.500" stop-color="#8ed2a4"/><stop offset="0.512" stop-color="#97d5a4"/><stop offset="0.524" stop-color="#a0d9a4"/><stop offset="0.537" stop-color="#a9dca4"/><stop offset="0.549" stop-color="#b1e0a3"/><stop offset="0.561" stop-color="#b9e3a1"/><stop offset="0.573" stop-color="#c1e6a0"/><stop offset="0.585" stop-color="#c9e99e"/><stop offset="0.598" stop-color="#d1ec9c"/><stop offset="0.610" stop-color="#d8ef9b"/><stop offset="0.622" stop-color="#e0f399"/><stop offset="0.634" stop-color="#e5f598"/><stop offset="0.646" stop-color="#e2f499"/><stop offset="0.659" stop-color="#e0f299"/><stop offset="0.671" stop-color="#ddf19a"/><stop offset="0.683" stop-color="#daf09a"/><stop offset="0.695" stop-color="#d7ef9b"/><stop offset="0.707" stop-color="#d5ee9c"/><stop offset="0.720" stop-color="#d2ed9c"/><stop offset="0.732" stop-color="#cfec9d"/><stop offset="0.744" stop-color="#cceb9d"/><stop offset="0.756" stop-color="#cae99e"/><stop offset="0.768" stop-color="#c4e79f"/><stop offset="0.780" stop-color="#bde4a0"/><stop offset="0.793" stop-color="#b5e1a2"/><stop offset="0.805" stop-color="#aedea3"/><stop offset="0.817" stop-color="#a6dba4"/><stop offset="0.829" stop-color="#9dd8a4"/><stop offset="0.841" stop-color="#95d4a4"/><stop offset="0.854" stop-color="#8cd1a4"/><stop offset="0.866" stop-color="#82cda5"/><stop offset="0.878" stop-color="#78c9a5"/><stop offset="0.890" stop-color="#6ec5a5"/><stop offset="0.902" stop-color="#64c0a6"/><stop offset="0.915" stop-color="#5cb7aa"/><stop offset="0.927" stop-color="#54aead"/><stop offset="0.939" stop-color="#4da6b1"/><stop offset="0.951" stop-color="#47a0b3"/><stop offset="0.963" stop-color="#429ab6"/><stop offset="0.976" stop-color="#3d94b8"/><stop offset="0.988" stop-color="#378ebb"/><stop offset="1.000" stop-color="#3288bd"/></linearGradient><linearGradient id="ge35" x1="0" y1="0" x2="0" y2="1"><stop offset="0.000" stop-color="#4ca5b1"/><stop offset="0.329" stop-color="#4ca5b1"/><stop offset="0.341" stop-color="#57b1ac"/><stop offset="0.354" stop-color="#63bea7"/><stop offset="0.366" stop-color="#71c6a5"/><stop offset="0.378" stop-color="#81cca5"/><stop offset="0.390" stop-color="#90d2a4"/><stop offset="0.402" stop-color="#a0d9a4"/><stop offset="0.415" stop-color="#addea4"/><stop offset="0.427" stop-color="#b2e0a2"/><stop offset="0.439" stop-color="#b8e2a1"/><stop offset="0.451" stop-color="#bee5a0"/><stop offset="0.463" stop-color="#c4e79f"/><stop offset="0.476" stop-color="#caea9e"/><stop offset="0.488" stop-color="#d0ec9c"/><stop offset="0.500" stop-color="#d6ee9b"/><stop offset="0.512" stop-color="#dcf19a"/><stop offset="0.524" stop-color="#e2f399"/><stop offset="0.537" stop-color="#e6f599"/><stop offset="0.549" stop-color="#e8f69b"/><stop offset="0.561" stop-color="#eaf69e"/><stop offset="0.573" stop-color="#ebf7a0"/><stop offset="0.585" stop-color="#edf8a2"/><stop offset="0.598" stop-color="#eef8a5"/><stop offset="0.610" stop-color="#f0f9a7"/><stop offset="0.622" stop-color="#f1faaa"/><stop offset="0.634" stop-color="#f2faab"/><stop offset="0.646" stop-color="#f0f9a7"/><stop offset="0.659" stop-color="#edf8a3"/><stop offset="0.671" stop-color="#ebf7a0"/><stop offset="0.683" stop-color="#e9f69c"/><stop offset="0.695" stop-color="#e6f598"/><stop offset="0.707" stop-color="#e1f399"/><stop offset="0.720" stop-color="#dbf19a"/><stop offset="0.732" stop-color="#d6ee9b"/><stop offset="0.744" stop-color="#d0ec9c"/><stop offset="0.756" stop-color="#cbea9e"/><stop offset="0.768" stop-color="#c4e79f"/><stop offset="0.780" stop-color="#bde4a0"/><stop offset="0.793" stop-color="#b5e1a2"/><stop offset="0.805" stop-color="#aedea3"/><stop offset="0.817" stop-color="#a6dba4"/><stop offset="0.829" stop-color="#9dd8a4"/><stop offset="0.841" stop-color="#95d4a4"/><stop offset="0.854" stop-color="#8cd1a4"/><stop offset="0.866" stop-color="#82cda5"/><stop offset="0.878" stop-color="#78c9a5"/><stop offset="0.890" stop-color="#6ec5a5"/><stop offset="0.902" stop-color="#64c0a6"/><stop offset="0.915" stop-color="#5cb7aa"/><stop offset="0.927" stop-color="#54aead"/><stop offset="0.939" stop-color="#4da6b1"/><stop offset="0.951" stop-color="#47a0b3"/><stop offset="0.963" stop-color="#429ab6"/><stop offset="0.976" stop-color="#3d94b8"/><stop offset="0.988" stop-color="#378ebb"/><stop offset="1.000" stop-color="#3288bd"/></linearGradient><linearGradient id="ge36" x1="0" y1="0" x2="0" y2="1"><stop offset="0.000" stop-color="#4ca5b1"/><stop offset="0.329" stop-color="#4ca5b1"/><stop offset="0.341" stop-color="#57b1ac"/><stop offset="0.354" stop-color="#63bea7"/><stop offset="0.366" stop-color="#71c6a5"/><stop offset="0.378" stop-color="#81cca5"/><stop offset="0.390" stop-color="#90d2a4"/><stop offset="0.402" stop-color="#a0d9a4"/><stop offset="0.415" stop-color="#addea4"/><stop offset="0.427" stop-color="#b2e0a2"/><stop offset="0.439" stop-color="#b8e2a1"/><stop offset="0.451" stop-color="#bee5a0"/><stop offset="0.463" stop-color="#c4e79f"/><stop offset="0.476" stop-color="#caea9e"/><stop offset="0.488" stop-color="#d0ec9c"/><stop offset="0.500" stop-color="#d6ee9b"/><stop offset="0.512" stop-color="#dcf19a"/><stop offset="0.524" stop-color="#e2f399"/><stop offset="0.537" stop-color="#e6f599"/><stop offset="0.549" stop-color="#e8f69b"/><stop offset="0.561" stop-color="#eaf69e"/><stop offset="0.573" stop-color="#ebf7a0"/><stop offset="0.585" stop-color="#edf8a2"/><stop offset="0.598" stop-color="#eef8a5"/><stop offset="0.610" stop-color="#f0f9a7"/><stop offset="0.622" stop-color="#f1faaa"/><stop offset="0.634" stop-color="#f2faab"/><stop offset="0.646" stop-color="#f0f9a7"/><stop offset="0.659" stop-color="#edf8a3"/><stop offset="0.671" stop-color="#ebf7a0"/><stop offset="0.683" stop-color="#e9f69c"/><stop offset="0.695" stop-color="#e6f598"/><stop offset="0.707" stop-color="#e1f399"/><stop offset="0.720" stop-color="#dbf19a"/><stop offset="0.732" stop-color="#d6ee9b"/><stop offset="0.744" stop-color="#d0ec9c"/><stop offset="0.756" stop-color="#cbea9e"/><stop offset="0.768" stop-color="#c4e79f"/><stop offset="0.780" stop-color="#bde4a0"/><stop offset="0.793" stop-color="#b5e1a2"/><stop offset="0.805" stop-color="#aedea3"/><stop offset="0.817" stop-color="#a6dba4"/><stop offset="0.829" stop-color="#9dd8a4"/><stop offset="0.841" stop-color="#95d4a4"/><stop offset="0.854" stop-color="#8cd1a4"/><stop offset="0.866" stop-color="#82cda5"/><stop offset="0.878" stop-color="#78c9a5"/><stop offset="0.890" stop-color="#6ec5a5"/><stop offset="0.902" stop-color="#64c0a6"/><stop offset="0.915" stop-color="#5cb7aa"/><stop offset="0.927" stop-color="#54aead"/><stop offset="0.939" stop-color="#4da6b1"/><stop offset="0.951" stop-color="#47a0b3"/><stop offset="0.963" stop-color="#429ab6"/><stop offset="0.976" stop-color="#3d94b8"/><stop offset="0.988" stop-color="#378ebb"/><stop offset="1.000" stop-color="#3288bd"/></linearGradient></defs><rect x="474.70" y="134.40" width="4.90" height="123.00" fill="url(#ge0)"/><rect x="478.60" y="134.40" width="5.72" height="123.00" fill="url(#ge1)"/><rect x="483.32" y="134.40" width="5.72" height="123.00" fill="url(#ge2)"/><rect x="488.04" y="134.40" width="5.72" height="123.00" fill="url(#ge3)"/><rect x="492.76" y="134.40" width="5.72" height="123.00" fill="url(#ge4)"/><rect x="497.48" y="134.40" width="5.72" height="123.00" fill="url(#ge5)"/><rect x="502.20" y="134.40" width="5.72" height="123.00" fill="url(#ge6)"/><rect x="506.92" y="134.40" width="5.72" height="123.00" fill="url(#ge7)"/><rect x="511.64" y="134.40" width="5.72" height="123.00" fill="url(#ge8)"/><rect x="516.36" y="134.40" width="5.72" height="123.00" fill="url(#ge9)"/><rect x="521.08" y="134.40" width="5.72" height="123.00" fill="url(#ge10)"/><rect x="525.80" y="134.40" width="5.72" height="123.00" fill="url(#ge11)"/><rect x="530.52" y="134.40" width="5.72" height="123.00" fill="url(#ge12)"/><rect x="535.24" y="134.40" width="5.72" height="123.00" fill="url(#ge13)"/><rect x="539.96" y="134.40" width="5.72" height="123.00" fill="url(#ge14)"/><rect x="544.68" y="134.40" width="5.72" height="123.00" fill="url(#ge15)"/><rect x="549.40" y="134.40" width="5.72" height="123.00" fill="url(#ge16)"/><rect x="554.12" y="134.40" width="5.72" height="123.00" fill="url(#ge17)"/><rect x="558.84" y="134.40" width="5.72" height="123.00" fill="url(#ge18)"/><rect x="563.56" y="134.40" width="5.72" height="123.00" fill="url(#ge19)"/><rect x="568.28" y="134.40" width="5.72" height="123.00" fill="url(#ge20)"/><rect x="573.00" y="134.40" width="5.72" height="123.00" fill="url(#ge21)"/><rect x="577.72" y="134.40" width="5.72" height="123.00" fill="url(#ge22)"/><rect x="582.44" y="134.40" width="5.72" height="123.00" fill="url(#ge23)"/><rect x="587.16" y="134.40" width="5.72" height="123.00" fill="url(#ge24)"/><rect x="591.88" y="134.40" width="5.72" height="123.00" fill="url(#ge25)"/><rect x="596.60" y="134.40" width="5.72" height="123.00" fill="url(#ge26)"/><rect x="601.32" y="134.40" width="5.72" height="123.00" fill="url(#ge27)"/><rect x="606.04" y="134.40" width="5.72" height="123.00" fill="url(#ge28)"/><rect x="610.76" y="134.40" width="5.72" height="123.00" fill="url(#ge29)"/><rect x="615.48" y="134.40" width="5.72" height="123.00" fill="url(#ge30)"/><rect x="620.20" y="134.40" width="5.72" height="123.00" fill="url(#ge31)"/><rect x="624.92" y="134.40" width="5.72" height="123.00" fill="url(#ge32)"/><rect x="629.64" y="134.40" width="5.72" height="123.00" fill="url(#ge33)"/><rect x="634.36" y="134.40" width="5.72" height="123.00" fill="url(#ge34)"/><rect x="639.08" y="134.40" width="5.72" height="123.00" fill="url(#ge35)"/><rect x="643.80" y="134.40" width="1.20" height="123.00" fill="url(#ge36)"/>
<rect x="474.5" y="134.4" width="170.6" height="123.0" fill="none" stroke="#888" stroke-width="0.5"/>
<path d="M474.6 257.2 H476.8 M645.0 257.2 H642.8" stroke="#333" stroke-width="0.6"/>
<path d="M474.6 245.0 H476.8 M645.0 245.0 H642.8" stroke="#333" stroke-width="0.6"/>
<path d="M474.6 232.8 H476.8 M645.0 232.8 H642.8" stroke="#333" stroke-width="0.6"/>
<path d="M474.6 220.7 H476.8 M645.0 220.7 H642.8" stroke="#333" stroke-width="0.6"/>
<path d="M474.6 208.5 H476.8 M645.0 208.5 H642.8" stroke="#333" stroke-width="0.6"/>
<path d="M474.6 196.3 H476.8 M645.0 196.3 H642.8" stroke="#333" stroke-width="0.6"/>
<path d="M474.6 184.1 H476.8 M645.0 184.1 H642.8" stroke="#333" stroke-width="0.6"/>
<path d="M474.6 172.0 H476.8 M645.0 172.0 H642.8" stroke="#333" stroke-width="0.6"/>
<path d="M474.6 159.8 H476.8 M645.0 159.8 H642.8" stroke="#333" stroke-width="0.6"/>
<path d="M474.6 147.6 H476.8 M645.0 147.6 H642.8" stroke="#333" stroke-width="0.6"/>
<path d="M474.6 135.4 H476.8 M645.0 135.4 H642.8" stroke="#333" stroke-width="0.6"/>
<path d="M470.90 225.54 L478.30 225.54 L474.60 232.14 Z" fill="#0000ff"/>
<path d="M475.62 225.40 L483.02 225.40 L479.32 232.00 Z" fill="#0000ff"/>
<path d="M480.35 225.26 L487.75 225.26 L484.05 231.86 Z" fill="#0000ff"/>
<path d="M485.07 225.13 L492.47 225.13 L488.77 231.73 Z" fill="#0000ff"/>
<path d="M489.79 224.99 L497.19 224.99 L493.49 231.59 Z" fill="#0000ff"/>
<path d="M494.51 224.86 L501.91 224.86 L498.21 231.46 Z" fill="#0000ff"/>
<path d="M499.24 224.44 L506.63 224.44 L502.94 231.04 Z" fill="#0000ff"/>
<path d="M503.96 223.86 L511.36 223.86 L507.66 230.46 Z" fill="#0000ff"/>
<path d="M508.68 223.28 L516.08 223.28 L512.38 229.88 Z" fill="#0000ff"/>
<path d="M513.40 222.70 L520.80 222.70 L517.10 229.30 Z" fill="#0000ff"/>
<path d="M518.12 222.13 L525.53 222.13 L521.83 228.73 Z" fill="#0000ff"/>
<path d="M522.85 221.23 L530.25 221.23 L526.55 227.83 Z" fill="#0000ff"/>
<path d="M527.57 220.33 L534.97 220.33 L531.27 226.93 Z" fill="#0000ff"/>
<path d="M532.29 219.44 L539.69 219.44 L535.99 226.04 Z" fill="#0000ff"/>
<path d="M537.01 218.47 L544.42 218.47 L540.72 225.07 Z" fill="#0000ff"/>
<path d="M541.74 217.22 L549.14 217.22 L545.44 223.82 Z" fill="#0000ff"/>
<path d="M546.46 215.97 L553.86 215.97 L550.16 222.57 Z" fill="#0000ff"/>
<path d="M551.18 214.72 L558.58 214.72 L554.88 221.32 Z" fill="#0000ff"/>
<path d="M555.90 213.47 L563.31 213.47 L559.61 220.07 Z" fill="#0000ff"/>
<path d="M560.63 212.08 L568.03 212.08 L564.33 218.68 Z" fill="#0000ff"/>
<path d="M565.35 210.65 L572.75 210.65 L569.05 217.25 Z" fill="#0000ff"/>
<path d="M570.07 209.21 L577.47 209.21 L573.77 215.81 Z" fill="#0000ff"/>
<path d="M574.79 207.78 L582.20 207.78 L578.50 214.38 Z" fill="#0000ff"/>
<path d="M579.52 206.56 L586.92 206.56 L583.22 213.16 Z" fill="#0000ff"/>
<path d="M584.24 205.59 L591.64 205.59 L587.94 212.19 Z" fill="#0000ff"/>
<path d="M588.96 204.61 L596.36 204.61 L592.66 211.21 Z" fill="#0000ff"/>
<path d="M593.68 203.63 L601.09 203.63 L597.38 210.23 Z" fill="#0000ff"/>
<path d="M598.41 202.86 L605.81 202.86 L602.11 209.46 Z" fill="#0000ff"/>
<path d="M603.13 202.75 L610.53 202.75 L606.83 209.35 Z" fill="#0000ff"/>
<path d="M607.85 202.64 L615.25 202.64 L611.55 209.24 Z" fill="#0000ff"/>
<path d="M612.58 202.53 L619.98 202.53 L616.28 209.13 Z" fill="#0000ff"/>
<path d="M617.30 202.55 L624.70 202.55 L621.00 209.15 Z" fill="#0000ff"/>
<path d="M622.02 202.57 L629.42 202.57 L625.72 209.17 Z" fill="#0000ff"/>
<path d="M626.74 202.59 L634.14 202.59 L630.44 209.19 Z" fill="#0000ff"/>
<path d="M631.46 202.61 L638.87 202.61 L635.16 209.21 Z" fill="#0000ff"/>
<path d="M636.19 202.63 L643.59 202.63 L639.89 209.23 Z" fill="#0000ff"/>
<path d="M640.91 202.65 L648.31 202.65 L644.61 209.25 Z" fill="#0000ff"/>
<path d="M470.90 225.54 L478.30 225.54 L474.60 232.14 Z" fill="none" stroke="#0000ff" stroke-width="1.6" stroke-linejoin="miter"/>
<path d="M475.62 225.40 L483.02 225.40 L479.32 232.00 Z" fill="none" stroke="#0000ff" stroke-width="1.6" stroke-linejoin="miter"/>
<path d="M480.35 225.26 L487.75 225.26 L484.05 231.86 Z" fill="none" stroke="#0000ff" stroke-width="1.6" stroke-linejoin="miter"/>
<path d="M485.07 225.13 L492.47 225.13 L488.77 231.73 Z" fill="none" stroke="#0000ff" stroke-width="1.6" stroke-linejoin="miter"/>
<path d="M489.79 224.99 L497.19 224.99 L493.49 231.59 Z" fill="none" stroke="#0000ff" stroke-width="1.6" stroke-linejoin="miter"/>
<path d="M494.51 224.86 L501.91 224.86 L498.21 231.46 Z" fill="none" stroke="#0000ff" stroke-width="1.6" stroke-linejoin="miter"/>
<path d="M499.24 224.44 L506.63 224.44 L502.94 231.04 Z" fill="none" stroke="#0000ff" stroke-width="1.6" stroke-linejoin="miter"/>
<path d="M503.96 223.86 L511.36 223.86 L507.66 230.46 Z" fill="none" stroke="#0000ff" stroke-width="1.6" stroke-linejoin="miter"/>
<path d="M508.68 223.28 L516.08 223.28 L512.38 229.88 Z" fill="none" stroke="#0000ff" stroke-width="1.6" stroke-linejoin="miter"/>
<path d="M513.40 222.70 L520.80 222.70 L517.10 229.30 Z" fill="none" stroke="#0000ff" stroke-width="1.6" stroke-linejoin="miter"/>
<path d="M518.12 222.13 L525.53 222.13 L521.83 228.73 Z" fill="none" stroke="#0000ff" stroke-width="1.6" stroke-linejoin="miter"/>
<path d="M522.85 221.23 L530.25 221.23 L526.55 227.83 Z" fill="none" stroke="#0000ff" stroke-width="1.6" stroke-linejoin="miter"/>
<path d="M527.57 220.33 L534.97 220.33 L531.27 226.93 Z" fill="none" stroke="#0000ff" stroke-width="1.6" stroke-linejoin="miter"/>
<path d="M532.29 219.44 L539.69 219.44 L535.99 226.04 Z" fill="none" stroke="#0000ff" stroke-width="1.6" stroke-linejoin="miter"/>
<path d="M537.01 218.47 L544.42 218.47 L540.72 225.07 Z" fill="none" stroke="#0000ff" stroke-width="1.6" stroke-linejoin="miter"/>
<path d="M541.74 217.22 L549.14 217.22 L545.44 223.82 Z" fill="none" stroke="#0000ff" stroke-width="1.6" stroke-linejoin="miter"/>
<path d="M546.46 215.97 L553.86 215.97 L550.16 222.57 Z" fill="none" stroke="#0000ff" stroke-width="1.6" stroke-linejoin="miter"/>
<path d="M551.18 214.72 L558.58 214.72 L554.88 221.32 Z" fill="none" stroke="#0000ff" stroke-width="1.6" stroke-linejoin="miter"/>
<path d="M555.90 213.47 L563.31 213.47 L559.61 220.07 Z" fill="none" stroke="#0000ff" stroke-width="1.6" stroke-linejoin="miter"/>
<path d="M560.63 212.03 L568.03 212.03 L564.33 218.63 Z" fill="none" stroke="#0000ff" stroke-width="1.6" stroke-linejoin="miter"/>
<path d="M565.35 210.53 L572.75 210.53 L569.05 217.13 Z" fill="none" stroke="#0000ff" stroke-width="1.6" stroke-linejoin="miter"/>
<path d="M570.07 209.02 L577.47 209.02 L573.77 215.62 Z" fill="none" stroke="#0000ff" stroke-width="1.6" stroke-linejoin="miter"/>
<path d="M574.79 207.52 L582.20 207.52 L578.50 214.12 Z" fill="none" stroke="#0000ff" stroke-width="1.6" stroke-linejoin="miter"/>
<path d="M579.52 205.69 L586.92 205.69 L583.22 212.29 Z" fill="none" stroke="#0000ff" stroke-width="1.6" stroke-linejoin="miter"/>
<path d="M584.24 203.87 L591.64 203.87 L587.94 210.47 Z" fill="none" stroke="#0000ff" stroke-width="1.6" stroke-linejoin="miter"/>
<path d="M588.96 201.52 L596.36 201.52 L592.66 208.12 Z" fill="none" stroke="#0000ff" stroke-width="1.6" stroke-linejoin="miter"/>
<path d="M593.68 198.75 L601.09 198.75 L597.38 205.35 Z" fill="none" stroke="#0000ff" stroke-width="1.6" stroke-linejoin="miter"/>
<path d="M598.41 195.59 L605.81 195.59 L602.11 202.19 Z" fill="none" stroke="#0000ff" stroke-width="1.6" stroke-linejoin="miter"/>
<path d="M603.13 193.15 L610.53 193.15 L606.83 199.75 Z" fill="none" stroke="#0000ff" stroke-width="1.6" stroke-linejoin="miter"/>
<path d="M607.85 190.11 L615.25 190.11 L611.55 196.71 Z" fill="none" stroke="#0000ff" stroke-width="1.6" stroke-linejoin="miter"/>
<path d="M612.58 187.18 L619.98 187.18 L616.28 193.78 Z" fill="none" stroke="#0000ff" stroke-width="1.6" stroke-linejoin="miter"/>
<path d="M617.30 183.56 L624.70 183.56 L621.00 190.16 Z" fill="none" stroke="#0000ff" stroke-width="1.6" stroke-linejoin="miter"/>
<path d="M622.02 181.25 L629.42 181.25 L625.72 187.85 Z" fill="none" stroke="#0000ff" stroke-width="1.6" stroke-linejoin="miter"/>
<path d="M626.74 177.85 L634.14 177.85 L630.44 184.45 Z" fill="none" stroke="#0000ff" stroke-width="1.6" stroke-linejoin="miter"/>
<path d="M631.46 175.08 L638.87 175.08 L635.16 181.68 Z" fill="none" stroke="#0000ff" stroke-width="1.6" stroke-linejoin="miter"/>
<path d="M636.19 171.88 L643.59 171.88 L639.89 178.48 Z" fill="none" stroke="#0000ff" stroke-width="1.6" stroke-linejoin="miter"/>
<path d="M640.91 168.56 L648.31 168.56 L644.61 175.16 Z" fill="none" stroke="#0000ff" stroke-width="1.6" stroke-linejoin="miter"/>
<rect x="475.2" y="137.5" width="54.5" height="26.8" fill="#fff" stroke="#222" stroke-width="0.6"/>
<path d="M479.20 142.20 L486.00 142.20 L482.60 148.20 Z" fill="none" stroke="#0000ff" stroke-width="1.6" stroke-linejoin="miter"/>
<path d="M478.60 154.60 L486.60 154.60 L482.60 161.80 Z" fill="#0000ff"/>
<text x="488.3" y="148.4" class="t13">β [010]</text>
<text x="488.3" y="161.3" class="t13">β [100]</text>
<text x="469.5" y="261.7" class="t13" text-anchor="end">0</text>
<text x="469.5" y="213.0" class="t13" text-anchor="end">20</text>
<text x="469.5" y="164.3" class="t13" text-anchor="end">40</text>
<text x="473.9" y="275.2" class="t13" text-anchor="middle">0</text>
<text x="530.6" y="275.2" class="t13" text-anchor="middle">30</text>
<text x="587.2" y="275.2" class="t13" text-anchor="middle">60</text>
<text x="643.9" y="275.2" class="t13" text-anchor="middle">90</text>
<text x="559.8" y="288.4" class="t13" text-anchor="middle">θ (deg)</text>
<defs><linearGradient id="cbe" x1="0" y1="1" x2="0" y2="0"><stop offset="0.00" stop-color="#5e4fa2"/><stop offset="0.05" stop-color="#486cb0"/><stop offset="0.10" stop-color="#3288bd"/><stop offset="0.15" stop-color="#4ca5b1"/><stop offset="0.20" stop-color="#66c2a5"/><stop offset="0.25" stop-color="#88d0a4"/><stop offset="0.30" stop-color="#abdda4"/><stop offset="0.35" stop-color="#c8e99e"/><stop offset="0.40" stop-color="#e6f598"/><stop offset="0.45" stop-color="#f2faac"/><stop offset="0.50" stop-color="#ffffbf"/><stop offset="0.55" stop-color="#fef0a5"/><stop offset="0.60" stop-color="#fee08b"/><stop offset="0.65" stop-color="#fec776"/><stop offset="0.70" stop-color="#fdae61"/><stop offset="0.75" stop-color="#f88e52"/><stop offset="0.80" stop-color="#f46d43"/><stop offset="0.85" stop-color="#e45649"/><stop offset="0.90" stop-color="#d53e4f"/><stop offset="0.95" stop-color="#ba2048"/><stop offset="1.00" stop-color="#9e0142"/></linearGradient></defs>
<rect x="654.7" y="142.5" width="6.9" height="107.0" fill="url(#cbe)"/>
<text x="658.2" y="137.8" class="t13" text-anchor="middle">High</text>
<text x="659.2" y="261.8" class="t13" text-anchor="middle">Low</text>
<text transform="translate(675.2,139.1) rotate(90)" class="t13" style="font-size:12.5px">FFT amplitude (a. u.)</text>

<text x="-0.5" y="12.0" class="pl">a</text>
<text x="251.2" y="11.6" class="pl">b</text>
<text x="471.6" y="12.2" class="pl">c</text>
<text x="251.6" y="135.4" class="pl">d</text>
<text x="456.4" y="136.4" class="pl">e</text>

</svg></body></html>
